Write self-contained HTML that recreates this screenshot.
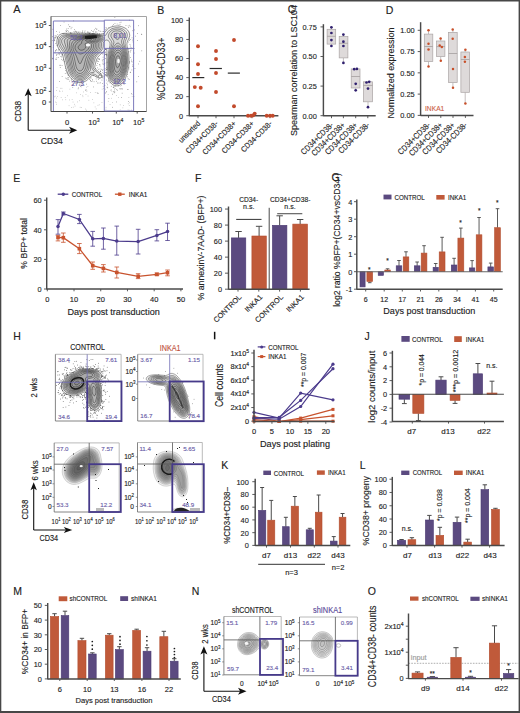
<!DOCTYPE html>
<html><head><meta charset="utf-8"><style>
html,body{margin:0;padding:0;background:#fff;}
svg{display:block;font-family:"Liberation Sans", sans-serif;}
</style></head><body>
<svg width="520" height="713" viewBox="0 0 520 713">
<rect width="520" height="713" fill="#fff"/>
<rect x="0.00" y="0.00" width="520.00" height="1.50" fill="#474747" stroke="none" stroke-width="1" />
<rect x="0.00" y="0.00" width="1.30" height="713.00" fill="#474747" stroke="none" stroke-width="1" />
<rect x="518.60" y="0.00" width="1.40" height="713.00" fill="#474747" stroke="none" stroke-width="1" />
<rect x="0.00" y="711.00" width="520.00" height="2.00" fill="#474747" stroke="none" stroke-width="1" />
<text x="13.20" y="13.20" font-size="11" fill="#222" stroke="#222" stroke-width="0.13" text-anchor="start">A</text>
<g fill="#777" fill-opacity="0.6"><rect x="69.5" y="88.8" width="0.70" height="0.70"/><rect x="86.2" y="86.8" width="0.70" height="0.70"/><rect x="80.3" y="94.1" width="0.70" height="0.70"/><rect x="56.0" y="97.7" width="0.70" height="0.70"/><rect x="54.9" y="95.8" width="0.70" height="0.70"/><rect x="56.6" y="87.3" width="0.70" height="0.70"/><rect x="74.7" y="105.7" width="0.70" height="0.70"/><rect x="59.3" y="90.6" width="0.70" height="0.70"/><rect x="85.0" y="108.7" width="0.70" height="0.70"/><rect x="82.4" y="94.9" width="0.70" height="0.70"/><rect x="102.8" y="86.2" width="0.70" height="0.70"/><rect x="96.8" y="92.2" width="0.70" height="0.70"/><rect x="60.4" y="87.9" width="0.70" height="0.70"/><rect x="68.7" y="105.4" width="0.70" height="0.70"/><rect x="62.2" y="99.5" width="0.70" height="0.70"/><rect x="85.6" y="94.3" width="0.70" height="0.70"/><rect x="80.9" y="86.6" width="0.70" height="0.70"/><rect x="56.0" y="90.1" width="0.70" height="0.70"/><rect x="87.7" y="95.7" width="0.70" height="0.70"/><rect x="69.0" y="99.6" width="0.70" height="0.70"/><rect x="76.1" y="92.5" width="0.70" height="0.70"/><rect x="93.5" y="102.5" width="0.70" height="0.70"/><rect x="65.4" y="99.4" width="0.70" height="0.70"/><rect x="79.8" y="106.9" width="0.70" height="0.70"/><rect x="90.2" y="92.2" width="0.70" height="0.70"/><rect x="103.0" y="88.0" width="0.70" height="0.70"/><rect x="74.3" y="103.9" width="0.70" height="0.70"/><rect x="60.8" y="97.2" width="0.70" height="0.70"/><rect x="55.0" y="101.7" width="0.70" height="0.70"/><rect x="92.0" y="99.3" width="0.70" height="0.70"/><rect x="97.6" y="92.8" width="0.70" height="0.70"/><rect x="88.5" y="99.9" width="0.70" height="0.70"/><rect x="82.6" y="96.4" width="0.70" height="0.70"/><rect x="95.8" y="108.6" width="0.70" height="0.70"/><rect x="77.2" y="101.6" width="0.70" height="0.70"/><rect x="56.1" y="102.5" width="0.70" height="0.70"/><rect x="86.0" y="109.8" width="0.70" height="0.70"/><rect x="94.9" y="92.1" width="0.70" height="0.70"/><rect x="72.7" y="101.7" width="0.70" height="0.70"/><rect x="54.2" y="96.5" width="0.70" height="0.70"/><rect x="61.6" y="87.9" width="0.70" height="0.70"/><rect x="56.0" y="104.2" width="0.70" height="0.70"/><rect x="59.6" y="91.2" width="0.70" height="0.70"/><rect x="72.9" y="106.8" width="0.70" height="0.70"/><rect x="57.1" y="96.2" width="0.70" height="0.70"/><rect x="81.0" y="107.1" width="0.70" height="0.70"/><rect x="94.8" y="106.6" width="0.70" height="0.70"/><rect x="67.2" y="95.4" width="0.70" height="0.70"/><rect x="71.3" y="107.1" width="0.70" height="0.70"/><rect x="101.8" y="88.8" width="0.70" height="0.70"/><rect x="62.0" y="90.8" width="0.70" height="0.70"/><rect x="64.9" y="97.1" width="0.70" height="0.70"/><rect x="83.0" y="91.6" width="0.70" height="0.70"/><rect x="53.2" y="95.5" width="0.70" height="0.70"/><rect x="71.8" y="99.2" width="0.70" height="0.70"/><rect x="101.6" y="102.3" width="0.70" height="0.70"/><rect x="79.3" y="100.4" width="0.70" height="0.70"/><rect x="87.5" y="86.3" width="0.70" height="0.70"/><rect x="98.9" y="104.5" width="0.70" height="0.70"/><rect x="97.6" y="104.9" width="0.70" height="0.70"/></g>
<g fill="#777" fill-opacity="0.6"><rect x="116.0" y="95.0" width="0.70" height="0.70"/><rect x="107.9" y="100.9" width="0.70" height="0.70"/><rect x="106.7" y="86.7" width="0.70" height="0.70"/><rect x="110.8" y="89.1" width="0.70" height="0.70"/><rect x="114.5" y="86.3" width="0.70" height="0.70"/><rect x="105.0" y="88.8" width="0.70" height="0.70"/><rect x="107.8" y="94.1" width="0.70" height="0.70"/><rect x="105.7" y="106.9" width="0.70" height="0.70"/><rect x="122.2" y="88.7" width="0.70" height="0.70"/><rect x="112.1" y="93.7" width="0.70" height="0.70"/><rect x="115.2" y="88.1" width="0.70" height="0.70"/><rect x="128.8" y="109.8" width="0.70" height="0.70"/><rect x="118.0" y="97.1" width="0.70" height="0.70"/><rect x="107.4" y="87.6" width="0.70" height="0.70"/><rect x="114.6" y="91.6" width="0.70" height="0.70"/><rect x="128.2" y="89.0" width="0.70" height="0.70"/><rect x="105.6" y="108.8" width="0.70" height="0.70"/><rect x="119.8" y="88.7" width="0.70" height="0.70"/><rect x="120.2" y="85.7" width="0.70" height="0.70"/><rect x="119.8" y="109.5" width="0.70" height="0.70"/><rect x="129.2" y="102.4" width="0.70" height="0.70"/><rect x="112.3" y="94.2" width="0.70" height="0.70"/><rect x="109.7" y="104.3" width="0.70" height="0.70"/><rect x="119.9" y="104.5" width="0.70" height="0.70"/><rect x="114.2" y="90.6" width="0.70" height="0.70"/><rect x="127.7" y="109.6" width="0.70" height="0.70"/><rect x="128.9" y="105.2" width="0.70" height="0.70"/><rect x="127.9" y="103.5" width="0.70" height="0.70"/><rect x="111.3" y="97.9" width="0.70" height="0.70"/><rect x="115.0" y="85.7" width="0.70" height="0.70"/><rect x="105.8" y="92.0" width="0.70" height="0.70"/><rect x="112.3" y="102.3" width="0.70" height="0.70"/><rect x="131.8" y="96.2" width="0.70" height="0.70"/><rect x="131.2" y="109.7" width="0.70" height="0.70"/><rect x="131.7" y="94.1" width="0.70" height="0.70"/><rect x="111.2" y="90.7" width="0.70" height="0.70"/><rect x="110.5" y="90.1" width="0.70" height="0.70"/><rect x="122.5" y="107.5" width="0.70" height="0.70"/><rect x="128.5" y="97.0" width="0.70" height="0.70"/><rect x="123.3" y="105.0" width="0.70" height="0.70"/></g>
<path d="M114.1,26.2L116.8,25.9L119.2,26.1L121.6,26.6L124.0,27.5L126.0,28.6L127.7,30.2L128.8,31.8L129.5,33.8L129.7,35.4L129.4,37.0L127.2,42.1L126.9,44.2L127.1,46.2L128.6,53.0L129.0,56.6L129.1,61.8L128.7,66.6L127.8,71.0L126.6,75.4L125.1,79.0L123.2,82.0L121.6,83.8L119.6,85.2L118.0,85.8L116.0,85.9L114.4,85.6L112.4,84.5L110.8,82.9L109.3,80.6L107.9,77.0L107.1,72.6L106.7,64.2L106.9,51.4L106.6,49.4L106.4,49.0L106.0,49.0L99.4,55.4L97.7,57.4L96.4,60.1L94.9,65.8L94.8,67.4L95.6,69.0L97.5,71.0L100.4,73.0L101.3,74.2L101.5,75.0L101.5,75.8L101.2,76.6L100.8,77.2L99.6,77.9L98.4,77.9L97.2,77.5L94.4,75.7L93.2,75.4L92.0,75.5L90.9,76.2L88.4,79.0L86.4,80.7L84.0,81.9L81.2,82.6L78.8,82.6L76.8,82.2L74.8,81.4L72.8,80.1L70.2,77.4L69.1,75.8L67.8,73.4L66.6,70.2L65.3,66.2L62.8,55.4L61.6,52.9L58.6,48.6L57.4,45.8L56.8,43.0L56.9,40.2L57.5,37.8L58.6,35.8L60.0,34.5L62.0,33.6L63.6,33.4L70.0,33.1L85.6,33.2L93.6,33.6L100.8,34.2L102.4,34.1L103.4,33.8L104.0,33.4L106.3,30.2L108.4,28.4L110.8,27.1L114.1,26.2Z" fill="#000" fill-opacity="0.04" fill-rule="nonzero" stroke="#111" stroke-opacity="0.85" stroke-width="0.5"/>
<path d="M115.1,27.8L117.2,27.7L119.2,27.8L121.2,28.3L123.2,29.2L124.7,30.2L126.0,31.5L126.9,33.0L127.3,34.6L127.1,37.0L125.3,41.4L125.1,43.4L125.4,45.4L127.1,51.4L127.7,55.0L128.0,59.8L127.8,64.6L127.0,69.4L125.7,74.2L124.2,77.8L122.2,81.0L120.4,82.8L118.8,83.7L117.2,84.2L115.2,84.0L113.2,83.1L111.7,81.8L110.4,80.0L109.4,77.8L108.5,75.0L108.1,71.8L107.8,67.4L107.8,60.6L108.3,53.4L109.0,49.8L110.0,45.5L110.1,43.8L109.8,42.6L109.1,41.4L108.0,40.4L106.8,40.0L106.0,40.1L105.2,40.5L104.2,41.4L103.6,42.2L103.3,43.4L103.3,46.6L102.7,48.6L101.2,51.0L97.1,55.4L95.6,57.4L94.5,60.2L93.2,65.4L93.1,67.0L93.6,68.6L96.8,72.1L99.2,73.6L99.8,74.2L100.1,75.4L99.8,76.2L99.2,76.5L98.4,76.6L97.5,76.2L95.6,74.7L94.8,74.4L92.8,74.0L91.2,74.1L90.0,74.8L87.6,77.6L85.6,79.2L83.2,80.4L80.8,80.9L78.8,80.9L76.8,80.4L75.2,79.7L73.6,78.6L72.3,77.4L71.0,75.8L69.0,72.2L67.0,65.8L65.1,57.0L64.4,54.5L63.1,51.8L59.8,47.0L58.9,45.0L58.4,43.0L58.4,40.6L58.9,38.6L59.8,37.0L61.2,35.8L62.8,35.1L66.8,34.5L70.8,34.1L78.0,34.4L88.0,34.1L93.6,34.2L97.2,34.5L103.6,35.6L104.8,35.6L105.4,35.4L106.0,34.9L107.8,31.8L109.6,30.0L112.0,28.6L115.1,27.8Z" fill="#000" fill-opacity="0.04" fill-rule="nonzero" stroke="#111" stroke-opacity="0.85" stroke-width="0.5"/>
<path d="M114.5,29.4L117.6,29.1L119.2,29.3L120.8,29.8L122.4,30.5L123.5,31.4L124.3,32.2L125.0,33.4L125.3,34.6L125.3,36.2L124.9,37.8L123.7,41.0L123.5,43.0L123.9,44.6L126.3,51.8L126.9,55.4L127.2,58.6L127.1,63.0L126.6,67.4L125.4,72.2L124.1,75.8L122.7,78.6L120.8,80.9L118.8,82.3L116.8,82.9L115.2,82.7L113.6,82.0L112.1,80.6L110.9,79.0L110.0,77.0L109.3,74.6L108.9,72.2L108.7,69.0L108.6,61.0L109.0,55.0L109.8,51.0L111.6,45.2L111.9,43.4L111.7,42.2L111.2,41.0L108.6,37.4L108.4,36.6L108.4,35.4L109.1,33.4L110.4,31.5L112.3,30.2L114.5,29.4ZM70.0,35.0L78.0,35.2L88.4,34.6L95.2,34.8L98.8,35.3L101.6,36.0L103.6,37.0L104.3,37.8L104.2,39.0L102.1,41.8L101.6,42.7L101.5,43.8L101.6,46.6L100.8,49.0L99.5,51.0L94.9,56.2L93.9,57.8L93.2,59.8L91.9,65.0L91.7,67.4L92.3,69.0L94.1,71.4L94.2,72.2L93.6,72.5L91.2,72.6L90.0,73.1L89.2,73.7L87.2,76.2L85.9,77.4L84.4,78.5L82.4,79.3L80.8,79.6L79.2,79.6L76.4,78.9L74.8,78.0L73.6,77.0L72.5,75.8L71.4,74.2L70.2,71.8L68.9,68.2L67.7,63.4L66.4,56.5L65.6,53.8L64.4,51.2L61.2,46.2L60.1,43.8L59.8,41.8L59.9,40.2L60.5,38.6L61.4,37.4L62.6,36.6L64.0,36.1L67.2,35.3L70.0,35.0Z" fill="#000" fill-opacity="0.04" fill-rule="nonzero" stroke="#111" stroke-opacity="0.85" stroke-width="0.5"/>
<path d="M115.1,31.0L117.6,30.8L120.0,31.3L122.0,32.6L123.0,34.2L123.3,35.4L123.2,36.6L121.7,40.6L121.6,42.2L122.0,43.8L124.1,48.2L125.3,51.4L126.1,55.4L126.4,59.0L126.4,63.0L125.8,67.0L124.9,71.0L123.5,75.0L122.0,77.8L120.4,79.8L118.8,81.0L116.8,81.6L115.2,81.4L113.7,80.6L112.4,79.4L111.4,77.8L110.5,75.8L110.0,73.8L109.4,68.2L109.4,59.8L110.0,54.2L111.0,50.2L113.5,44.2L113.9,42.6L113.8,41.8L113.4,40.6L111.2,37.0L110.9,36.2L110.9,35.0L111.3,33.8L112.1,32.6L113.6,31.5L115.1,31.0ZM84.1,35.4L91.6,35.0L94.8,35.1L97.6,35.5L100.0,36.1L101.6,36.8L102.6,37.8L102.8,38.6L102.4,39.8L100.4,42.2L100.0,43.0L99.9,43.8L100.0,46.6L99.3,49.0L97.9,51.0L93.9,55.4L92.4,58.2L91.6,60.8L90.6,65.4L90.4,67.4L90.4,69.8L90.2,70.6L86.4,75.2L84.8,76.7L83.6,77.4L82.0,78.1L80.4,78.3L79.2,78.3L76.8,77.6L74.8,76.4L73.1,74.6L71.5,71.8L70.6,69.4L69.7,66.2L67.2,54.5L65.2,49.6L62.0,43.4L61.6,41.8L61.6,40.6L62.3,39.0L63.2,38.0L65.2,37.0L67.6,36.2L70.8,35.8L77.6,36.0L84.1,35.4Z" fill="#000" fill-opacity="0.04" fill-rule="nonzero" stroke="#111" stroke-opacity="0.85" stroke-width="0.5"/>
<path d="M115.7,33.4L117.2,33.1L118.4,33.3L119.6,34.1L120.2,35.0L120.3,36.2L119.9,37.4L119.2,38.4L118.0,39.3L117.2,39.4L116.0,38.8L115.0,37.8L114.2,36.6L114.0,35.4L114.3,34.6L114.8,33.9L115.7,33.4ZM90.2,35.4L95.2,35.6L98.8,36.3L100.0,36.7L101.0,37.4L101.6,38.2L101.6,39.0L101.0,40.2L98.6,43.0L98.4,43.8L98.4,47.0L97.7,49.0L96.3,51.0L92.7,55.0L91.3,57.4L90.1,61.4L88.7,69.0L88.2,70.2L87.3,71.8L85.2,74.6L83.2,76.1L80.8,76.9L79.2,76.9L78.0,76.6L76.0,75.6L74.4,74.2L73.2,72.5L72.1,70.2L70.7,65.0L68.8,55.4L66.4,48.6L64.5,42.2L64.3,41.0L64.4,40.2L65.1,39.0L66.1,38.2L67.7,37.4L69.6,36.9L71.6,36.7L77.6,36.7L86.0,35.7L90.2,35.4ZM116.8,43.4L118.0,43.0L118.8,43.3L119.6,43.9L121.6,46.0L123.2,48.6L124.2,51.0L125.1,54.2L125.6,57.4L125.7,60.6L125.5,64.2L124.9,67.8L123.8,71.8L122.5,75.0L121.2,77.3L119.6,79.0L118.0,80.0L116.4,80.2L114.8,79.8L113.6,79.0L112.3,77.4L111.4,75.4L110.7,73.0L110.4,70.6L110.1,62.2L110.6,55.8L111.7,51.0L112.7,48.6L114.0,46.4L115.6,44.4L116.8,43.4Z" fill="#000" fill-opacity="0.04" fill-rule="nonzero" stroke="#111" stroke-opacity="0.85" stroke-width="0.5"/>
<path d="M89.5,35.8L94.0,35.8L97.6,36.4L99.7,37.4L100.4,38.2L100.5,39.0L99.9,40.2L97.5,42.6L97.0,43.4L96.9,44.2L96.9,47.0L96.2,49.0L95.1,50.6L91.5,54.6L90.0,57.0L88.9,60.2L87.3,68.2L86.7,69.8L85.9,71.4L84.4,73.4L82.4,74.8L80.4,75.4L78.4,75.2L76.8,74.4L75.2,72.9L74.0,71.0L73.0,68.6L71.9,64.2L70.4,55.8L67.8,47.8L67.2,41.4L67.3,40.2L67.8,39.4L68.4,38.8L70.4,38.0L76.8,37.6L84.4,36.3L89.5,35.8ZM116.6,46.2L118.0,45.9L119.6,46.4L121.2,47.7L122.4,49.5L123.5,51.8L124.3,54.6L124.7,57.4L124.9,60.6L124.7,63.8L124.1,67.4L123.1,71.0L122.0,73.8L120.8,76.0L119.6,77.4L118.0,78.5L116.4,78.8L114.8,78.3L113.7,77.4L112.8,76.1L112.0,74.3L111.5,72.2L111.2,69.8L110.9,62.6L111.3,56.6L112.3,52.2L113.2,50.1L114.4,48.2L115.6,46.9L116.6,46.2Z" fill="#000" fill-opacity="0.04" fill-rule="nonzero" stroke="#111" stroke-opacity="0.85" stroke-width="0.5"/>
<path d="M89.2,36.2L93.6,36.2L97.2,36.9L99.0,37.8L99.4,38.6L99.4,39.4L98.5,40.6L96.2,42.6L95.6,43.4L95.3,44.2L95.3,47.0L94.7,48.6L93.4,50.6L89.8,54.6L88.5,56.6L87.5,59.4L85.7,67.8L84.5,70.6L83.2,72.2L82.0,73.0L80.4,73.5L78.8,73.4L77.3,72.6L76.1,71.4L75.1,69.8L74.3,67.4L71.9,55.8L69.5,48.2L69.3,45.8L69.8,41.4L70.4,40.2L72.0,39.3L76.8,38.5L84.0,36.8L89.2,36.2ZM116.8,48.2L118.0,47.9L119.2,48.2L120.4,49.0L121.7,50.6L122.7,52.6L123.4,55.0L123.8,57.4L124.0,60.2L123.9,63.0L123.4,66.2L122.6,69.4L121.6,72.2L120.6,74.2L119.3,75.8L118.0,76.8L116.8,77.1L115.6,76.9L114.4,76.1L113.6,75.0L112.9,73.4L112.1,69.4L111.8,63.0L112.1,57.4L113.0,53.4L113.6,51.8L114.5,50.2L115.6,49.0L116.8,48.2Z" fill="#000" fill-opacity="0.04" fill-rule="nonzero" stroke="#111" stroke-opacity="0.85" stroke-width="0.5"/>
<path d="M89.1,36.6L92.8,36.6L96.0,37.1L97.2,37.5L98.1,38.2L98.3,38.6L98.3,39.4L97.4,40.6L93.9,43.4L93.6,44.2L93.5,47.0L93.0,48.6L91.6,50.5L87.8,54.6L86.6,56.6L85.6,59.4L83.9,66.6L82.9,69.0L82.0,70.1L81.2,70.6L80.4,70.9L79.2,70.8L78.1,70.2L77.4,69.4L76.7,68.2L76.1,66.6L73.9,56.2L71.1,48.6L71.0,46.6L71.4,44.2L72.4,41.8L73.3,41.0L74.8,40.2L82.8,37.6L86.4,36.9L89.1,36.6ZM117.0,50.2L118.0,50.0L119.2,50.3L120.4,51.3L121.2,52.4L122.0,54.1L122.6,56.2L123.0,60.6L122.9,63.0L122.5,65.8L121.7,68.6L120.8,71.0L120.0,72.6L118.8,74.1L118.0,74.8L116.8,75.1L116.0,75.0L114.9,74.2L114.1,73.0L113.7,71.8L113.0,68.2L112.8,62.2L113.1,57.8L113.9,54.2L115.2,51.7L116.0,50.8L117.0,50.2Z" fill="#000" fill-opacity="0.04" fill-rule="nonzero" stroke="#111" stroke-opacity="0.85" stroke-width="0.5"/>
<path d="M89.5,37.0L92.8,37.0L95.2,37.5L96.7,38.2L97.0,38.6L97.1,39.4L96.2,40.6L92.5,43.0L91.8,43.8L91.6,44.6L91.6,47.0L90.7,49.0L89.5,50.6L84.7,55.4L83.2,57.8L80.8,63.2L80.0,63.8L79.6,63.6L78.8,62.5L76.4,56.2L73.3,49.8L72.8,47.4L73.2,45.0L74.0,43.4L75.0,42.2L76.6,41.0L78.8,39.8L81.6,38.6L84.0,37.9L86.8,37.3L89.5,37.0ZM117.1,52.6L118.0,52.4L118.8,52.6L119.6,53.1L120.5,54.2L121.2,55.8L121.6,57.4L121.9,61.0L121.3,65.4L120.0,69.2L119.2,70.7L118.4,71.7L117.6,72.2L116.8,72.3L116.0,72.0L115.6,71.6L114.6,69.4L114.1,65.8L113.9,61.4L114.2,58.2L114.8,55.8L115.8,53.8L117.1,52.6Z" fill="#000" fill-opacity="0.04" fill-rule="nonzero" stroke="#111" stroke-opacity="0.85" stroke-width="0.5"/>
<path d="M86.8,37.8L90.4,37.4L93.6,37.7L94.8,38.1L95.5,38.6L95.7,39.0L95.6,39.8L94.2,41.0L90.4,43.0L89.4,43.8L89.1,44.6L89.3,46.6L89.0,47.8L88.0,49.4L86.4,51.0L84.0,52.7L82.0,53.7L80.4,54.0L79.2,53.7L77.2,52.1L75.6,49.8L75.1,48.6L75.0,47.4L75.4,45.4L76.9,43.4L78.9,41.4L80.3,40.2L83.2,38.8L86.8,37.8ZM117.7,55.8L118.4,55.8L118.8,56.1L119.6,57.1L120.1,59.0L120.3,61.0L120.0,63.4L119.4,65.4L118.4,67.2L117.6,67.7L116.8,67.4L116.0,65.8L115.6,63.4L115.5,61.4L115.7,59.4L116.1,57.8L116.8,56.4L117.7,55.8Z" fill="#000" fill-opacity="0.04" fill-rule="nonzero" stroke="#111" stroke-opacity="0.85" stroke-width="0.5"/>
<path d="M88.1,38.2L90.8,38.1L92.8,38.3L94.0,39.0L94.1,39.4L93.9,39.8L93.1,40.6L92.0,41.2L86.7,43.0L85.2,43.8L85.1,44.2L85.8,46.2L85.9,47.0L85.4,48.2L84.1,49.4L82.8,50.0L81.6,50.2L80.4,50.1L79.2,49.5L78.3,48.2L78.1,47.4L78.3,46.6L79.0,45.4L81.5,43.4L81.8,41.4L82.3,40.6L83.2,39.8L84.8,39.0L88.1,38.2Z" fill="#000" fill-opacity="0.04" fill-rule="nonzero" stroke="#111" stroke-opacity="0.85" stroke-width="0.5"/>
<path d="M88.8,39.0L90.4,39.0L91.4,39.4L91.5,39.8L90.4,40.6L88.8,41.0L87.2,41.2L86.0,41.0L85.6,40.6L85.6,40.2L86.1,39.8L86.9,39.4L88.8,39.0Z" fill="#000" fill-opacity="0.04" fill-rule="nonzero" stroke="#111" stroke-opacity="0.85" stroke-width="0.5"/>
<g fill="#333" fill-opacity="0.65"><rect x="70.9" y="79.8" width="0.7" height="0.7"/><rect x="65.3" y="68.3" width="0.7" height="0.7"/><rect x="55.4" y="43.1" width="0.7" height="0.7"/><rect x="81.5" y="32.6" width="0.7" height="0.7"/><rect x="77.7" y="31.5" width="0.7" height="0.7"/><rect x="106.3" y="69.3" width="0.7" height="0.7"/><rect x="71.0" y="78.6" width="0.7" height="0.7"/><rect x="127.7" y="48.0" width="0.7" height="0.7"/><rect x="129.0" y="62.8" width="0.7" height="0.7"/><rect x="99.6" y="68.7" width="0.7" height="0.7"/><rect x="100.4" y="73.1" width="0.7" height="0.7"/><rect x="72.3" y="85.0" width="0.7" height="0.7"/><rect x="106.0" y="79.7" width="0.7" height="0.7"/><rect x="113.9" y="91.7" width="0.7" height="0.7"/><rect x="74.8" y="82.5" width="0.7" height="0.7"/><rect x="129.3" y="40.1" width="0.7" height="0.7"/><rect x="138.2" y="63.6" width="0.7" height="0.7"/><rect x="77.8" y="88.5" width="0.7" height="0.7"/><rect x="85.2" y="89.9" width="0.7" height="0.7"/><rect x="79.5" y="82.6" width="0.7" height="0.7"/><rect x="128.5" y="51.0" width="0.7" height="0.7"/><rect x="67.5" y="77.4" width="0.7" height="0.7"/><rect x="131.2" y="93.3" width="0.7" height="0.7"/><rect x="138.2" y="25.4" width="0.7" height="0.7"/><rect x="56.0" y="49.2" width="0.7" height="0.7"/><rect x="56.7" y="45.4" width="0.7" height="0.7"/><rect x="108.5" y="27.1" width="0.7" height="0.7"/><rect x="127.7" y="48.9" width="0.7" height="0.7"/><rect x="104.7" y="54.0" width="0.7" height="0.7"/><rect x="73.6" y="31.0" width="0.7" height="0.7"/><rect x="70.7" y="28.4" width="0.7" height="0.7"/><rect x="52.4" y="58.6" width="0.7" height="0.7"/><rect x="104.7" y="69.9" width="0.7" height="0.7"/><rect x="87.0" y="31.6" width="0.7" height="0.7"/><rect x="136.4" y="81.5" width="0.7" height="0.7"/><rect x="101.6" y="79.7" width="0.7" height="0.7"/><rect x="97.3" y="82.7" width="0.7" height="0.7"/><rect x="131.5" y="69.6" width="0.7" height="0.7"/><rect x="99.5" y="64.2" width="0.7" height="0.7"/><rect x="105.2" y="74.3" width="0.7" height="0.7"/><rect x="101.3" y="68.9" width="0.7" height="0.7"/><rect x="106.2" y="91.0" width="0.7" height="0.7"/><rect x="105.7" y="27.2" width="0.7" height="0.7"/><rect x="55.2" y="58.8" width="0.7" height="0.7"/><rect x="66.3" y="33.4" width="0.7" height="0.7"/><rect x="98.8" y="59.3" width="0.7" height="0.7"/><rect x="89.8" y="31.9" width="0.7" height="0.7"/><rect x="93.8" y="33.4" width="0.7" height="0.7"/><rect x="105.0" y="74.7" width="0.7" height="0.7"/><rect x="134.6" y="68.0" width="0.7" height="0.7"/><rect x="138.0" y="76.2" width="0.7" height="0.7"/><rect x="81.3" y="85.1" width="0.7" height="0.7"/><rect x="67.0" y="30.0" width="0.7" height="0.7"/><rect x="54.8" y="37.6" width="0.7" height="0.7"/><rect x="108.3" y="80.4" width="0.7" height="0.7"/><rect x="118.4" y="85.6" width="0.7" height="0.7"/><rect x="54.5" y="36.8" width="0.7" height="0.7"/><rect x="62.9" y="33.5" width="0.7" height="0.7"/><rect x="56.6" y="36.5" width="0.7" height="0.7"/><rect x="68.0" y="77.5" width="0.7" height="0.7"/><rect x="54.2" y="40.2" width="0.7" height="0.7"/><rect x="56.3" y="55.2" width="0.7" height="0.7"/><rect x="92.5" y="31.3" width="0.7" height="0.7"/><rect x="56.0" y="53.9" width="0.7" height="0.7"/><rect x="97.2" y="33.4" width="0.7" height="0.7"/><rect x="123.7" y="83.9" width="0.7" height="0.7"/><rect x="106.5" y="67.0" width="0.7" height="0.7"/><rect x="141.2" y="33.8" width="0.7" height="0.7"/><rect x="123.7" y="82.0" width="0.7" height="0.7"/><rect x="129.9" y="72.3" width="0.7" height="0.7"/><rect x="82.4" y="30.5" width="0.7" height="0.7"/><rect x="100.1" y="82.5" width="0.7" height="0.7"/><rect x="65.5" y="30.5" width="0.7" height="0.7"/><rect x="101.9" y="59.7" width="0.7" height="0.7"/><rect x="120.7" y="21.8" width="0.7" height="0.7"/><rect x="52.3" y="57.9" width="0.7" height="0.7"/><rect x="100.3" y="70.8" width="0.7" height="0.7"/><rect x="74.9" y="82.8" width="0.7" height="0.7"/><rect x="102.5" y="62.8" width="0.7" height="0.7"/><rect x="95.5" y="31.5" width="0.7" height="0.7"/><rect x="132.4" y="66.1" width="0.7" height="0.7"/><rect x="132.4" y="64.6" width="0.7" height="0.7"/><rect x="100.1" y="70.8" width="0.7" height="0.7"/><rect x="103.6" y="33.2" width="0.7" height="0.7"/><rect x="94.9" y="68.1" width="0.7" height="0.7"/><rect x="128.3" y="101.1" width="0.7" height="0.7"/><rect x="119.6" y="88.4" width="0.7" height="0.7"/><rect x="129.0" y="19.8" width="0.7" height="0.7"/><rect x="86.0" y="83.8" width="0.7" height="0.7"/><rect x="116.0" y="101.6" width="0.7" height="0.7"/><rect x="128.3" y="27.2" width="0.7" height="0.7"/><rect x="59.0" y="53.0" width="0.7" height="0.7"/><rect x="85.1" y="33.0" width="0.7" height="0.7"/><rect x="68.4" y="79.0" width="0.7" height="0.7"/><rect x="141.4" y="34.0" width="0.7" height="0.7"/><rect x="72.4" y="87.3" width="0.7" height="0.7"/><rect x="59.1" y="54.4" width="0.7" height="0.7"/><rect x="77.3" y="33.0" width="0.7" height="0.7"/><rect x="95.8" y="78.6" width="0.7" height="0.7"/><rect x="95.8" y="76.3" width="0.7" height="0.7"/><rect x="121.3" y="97.1" width="0.7" height="0.7"/><rect x="104.8" y="68.4" width="0.7" height="0.7"/><rect x="102.8" y="64.0" width="0.7" height="0.7"/><rect x="54.8" y="35.0" width="0.7" height="0.7"/><rect x="96.5" y="31.7" width="0.7" height="0.7"/><rect x="102.9" y="59.1" width="0.7" height="0.7"/><rect x="92.2" y="79.3" width="0.7" height="0.7"/><rect x="79.6" y="31.6" width="0.7" height="0.7"/><rect x="132.7" y="41.6" width="0.7" height="0.7"/><rect x="55.3" y="50.2" width="0.7" height="0.7"/><rect x="102.6" y="75.7" width="0.7" height="0.7"/><rect x="84.3" y="31.7" width="0.7" height="0.7"/><rect x="127.0" y="74.1" width="0.7" height="0.7"/><rect x="88.8" y="32.9" width="0.7" height="0.7"/><rect x="93.2" y="30.8" width="0.7" height="0.7"/><rect x="57.1" y="37.8" width="0.7" height="0.7"/><rect x="55.8" y="49.9" width="0.7" height="0.7"/><rect x="97.6" y="93.0" width="0.7" height="0.7"/><rect x="54.5" y="38.1" width="0.7" height="0.7"/><rect x="56.1" y="59.0" width="0.7" height="0.7"/><rect x="106.4" y="75.8" width="0.7" height="0.7"/><rect x="130.0" y="57.2" width="0.7" height="0.7"/><rect x="104.1" y="64.6" width="0.7" height="0.7"/><rect x="130.2" y="39.0" width="0.7" height="0.7"/><rect x="63.3" y="59.3" width="0.7" height="0.7"/><rect x="129.8" y="51.8" width="0.7" height="0.7"/><rect x="66.2" y="28.7" width="0.7" height="0.7"/><rect x="94.9" y="31.8" width="0.7" height="0.7"/><rect x="99.6" y="30.7" width="0.7" height="0.7"/><rect x="61.5" y="54.6" width="0.7" height="0.7"/><rect x="91.0" y="81.3" width="0.7" height="0.7"/><rect x="120.8" y="88.5" width="0.7" height="0.7"/><rect x="76.7" y="82.9" width="0.7" height="0.7"/><rect x="104.5" y="62.7" width="0.7" height="0.7"/><rect x="70.8" y="32.8" width="0.7" height="0.7"/><rect x="55.4" y="36.6" width="0.7" height="0.7"/><rect x="112.9" y="87.2" width="0.7" height="0.7"/><rect x="102.6" y="69.0" width="0.7" height="0.7"/><rect x="104.5" y="72.2" width="0.7" height="0.7"/><rect x="132.5" y="61.6" width="0.7" height="0.7"/><rect x="82.1" y="31.5" width="0.7" height="0.7"/><rect x="54.7" y="52.6" width="0.7" height="0.7"/><rect x="80.9" y="82.4" width="0.7" height="0.7"/><rect x="106.3" y="73.7" width="0.7" height="0.7"/><rect x="75.2" y="31.3" width="0.7" height="0.7"/><rect x="58.8" y="49.1" width="0.7" height="0.7"/><rect x="129.1" y="61.9" width="0.7" height="0.7"/><rect x="98.6" y="82.7" width="0.7" height="0.7"/><rect x="99.8" y="65.7" width="0.7" height="0.7"/><rect x="104.0" y="55.2" width="0.7" height="0.7"/><rect x="87.5" y="31.9" width="0.7" height="0.7"/><rect x="97.1" y="67.5" width="0.7" height="0.7"/><rect x="92.1" y="33.4" width="0.7" height="0.7"/><rect x="102.7" y="56.8" width="0.7" height="0.7"/><rect x="121.7" y="88.5" width="0.7" height="0.7"/><rect x="114.5" y="17.3" width="0.7" height="0.7"/><rect x="113.1" y="86.7" width="0.7" height="0.7"/><rect x="102.0" y="75.5" width="0.7" height="0.7"/><rect x="106.7" y="61.9" width="0.7" height="0.7"/><rect x="128.7" y="66.8" width="0.7" height="0.7"/><rect x="91.0" y="30.3" width="0.7" height="0.7"/><rect x="133.2" y="60.3" width="0.7" height="0.7"/><rect x="98.3" y="61.2" width="0.7" height="0.7"/><rect x="56.3" y="31.2" width="0.7" height="0.7"/><rect x="80.2" y="86.2" width="0.7" height="0.7"/><rect x="106.9" y="68.8" width="0.7" height="0.7"/><rect x="96.5" y="65.2" width="0.7" height="0.7"/><rect x="76.1" y="32.3" width="0.7" height="0.7"/><rect x="54.7" y="37.2" width="0.7" height="0.7"/><rect x="98.1" y="68.9" width="0.7" height="0.7"/><rect x="71.6" y="26.9" width="0.7" height="0.7"/><rect x="62.1" y="53.6" width="0.7" height="0.7"/><rect x="114.6" y="23.0" width="0.7" height="0.7"/><rect x="58.5" y="48.8" width="0.7" height="0.7"/><rect x="82.1" y="32.5" width="0.7" height="0.7"/><rect x="92.2" y="33.6" width="0.7" height="0.7"/><rect x="116.9" y="89.9" width="0.7" height="0.7"/><rect x="69.2" y="80.8" width="0.7" height="0.7"/><rect x="93.1" y="86.6" width="0.7" height="0.7"/><rect x="128.8" y="79.0" width="0.7" height="0.7"/><rect x="66.3" y="31.3" width="0.7" height="0.7"/><rect x="137.3" y="33.1" width="0.7" height="0.7"/><rect x="62.7" y="33.1" width="0.7" height="0.7"/><rect x="113.0" y="24.1" width="0.7" height="0.7"/><rect x="52.1" y="36.4" width="0.7" height="0.7"/><rect x="78.9" y="84.0" width="0.7" height="0.7"/><rect x="106.4" y="72.4" width="0.7" height="0.7"/><rect x="104.9" y="52.4" width="0.7" height="0.7"/><rect x="66.3" y="30.7" width="0.7" height="0.7"/><rect x="106.0" y="74.5" width="0.7" height="0.7"/><rect x="65.4" y="77.7" width="0.7" height="0.7"/><rect x="106.9" y="87.0" width="0.7" height="0.7"/><rect x="57.9" y="53.1" width="0.7" height="0.7"/><rect x="95.2" y="27.9" width="0.7" height="0.7"/><rect x="129.8" y="26.4" width="0.7" height="0.7"/><rect x="52.5" y="40.2" width="0.7" height="0.7"/><rect x="103.9" y="63.1" width="0.7" height="0.7"/><rect x="59.3" y="31.8" width="0.7" height="0.7"/><rect x="86.5" y="90.7" width="0.7" height="0.7"/><rect x="66.2" y="70.8" width="0.7" height="0.7"/><rect x="92.0" y="80.6" width="0.7" height="0.7"/><rect x="57.8" y="50.5" width="0.7" height="0.7"/><rect x="127.3" y="76.5" width="0.7" height="0.7"/><rect x="74.8" y="30.7" width="0.7" height="0.7"/><rect x="105.8" y="54.3" width="0.7" height="0.7"/><rect x="132.2" y="39.7" width="0.7" height="0.7"/><rect x="62.5" y="59.9" width="0.7" height="0.7"/><rect x="99.2" y="33.4" width="0.7" height="0.7"/><rect x="78.1" y="87.5" width="0.7" height="0.7"/><rect x="59.0" y="81.0" width="0.7" height="0.7"/><rect x="128.7" y="48.5" width="0.7" height="0.7"/><rect x="105.1" y="58.0" width="0.7" height="0.7"/><rect x="133.0" y="38.5" width="0.7" height="0.7"/><rect x="102.3" y="77.5" width="0.7" height="0.7"/><rect x="83.7" y="84.9" width="0.7" height="0.7"/><rect x="56.4" y="57.6" width="0.7" height="0.7"/><rect x="61.2" y="56.6" width="0.7" height="0.7"/><rect x="57.6" y="53.9" width="0.7" height="0.7"/><rect x="116.4" y="89.3" width="0.7" height="0.7"/><rect x="110.9" y="85.9" width="0.7" height="0.7"/><rect x="104.5" y="74.2" width="0.7" height="0.7"/><rect x="53.2" y="45.4" width="0.7" height="0.7"/><rect x="113.6" y="86.8" width="0.7" height="0.7"/><rect x="61.7" y="65.0" width="0.7" height="0.7"/><rect x="141.4" y="50.5" width="0.7" height="0.7"/><rect x="64.9" y="73.2" width="0.7" height="0.7"/><rect x="67.4" y="74.5" width="0.7" height="0.7"/><rect x="54.9" y="50.9" width="0.7" height="0.7"/><rect x="70.4" y="33.1" width="0.7" height="0.7"/><rect x="62.1" y="54.7" width="0.7" height="0.7"/><rect x="98.7" y="58.5" width="0.7" height="0.7"/><rect x="106.5" y="75.3" width="0.7" height="0.7"/><rect x="68.2" y="30.9" width="0.7" height="0.7"/><rect x="52.9" y="46.9" width="0.7" height="0.7"/><rect x="89.1" y="79.0" width="0.7" height="0.7"/><rect x="60.5" y="56.0" width="0.7" height="0.7"/><rect x="66.5" y="78.3" width="0.7" height="0.7"/><rect x="102.1" y="70.2" width="0.7" height="0.7"/><rect x="60.1" y="25.0" width="0.7" height="0.7"/><rect x="104.7" y="75.4" width="0.7" height="0.7"/><rect x="125.6" y="25.0" width="0.7" height="0.7"/><rect x="90.2" y="79.9" width="0.7" height="0.7"/><rect x="106.1" y="75.4" width="0.7" height="0.7"/><rect x="102.5" y="60.7" width="0.7" height="0.7"/><rect x="137.3" y="40.0" width="0.7" height="0.7"/><rect x="93.7" y="81.4" width="0.7" height="0.7"/><rect x="96.6" y="28.7" width="0.7" height="0.7"/><rect x="127.1" y="89.2" width="0.7" height="0.7"/><rect x="106.0" y="55.5" width="0.7" height="0.7"/><rect x="84.7" y="30.6" width="0.7" height="0.7"/><rect x="118.5" y="24.7" width="0.7" height="0.7"/><rect x="106.5" y="82.8" width="0.7" height="0.7"/><rect x="130.7" y="49.7" width="0.7" height="0.7"/><rect x="105.2" y="92.7" width="0.7" height="0.7"/><rect x="64.4" y="61.2" width="0.7" height="0.7"/><rect x="102.2" y="83.2" width="0.7" height="0.7"/><rect x="54.2" y="39.3" width="0.7" height="0.7"/><rect x="58.8" y="52.0" width="0.7" height="0.7"/><rect x="99.4" y="34.1" width="0.7" height="0.7"/><rect x="90.6" y="77.9" width="0.7" height="0.7"/><rect x="106.6" y="54.6" width="0.7" height="0.7"/><rect x="105.1" y="72.2" width="0.7" height="0.7"/><rect x="128.7" y="68.6" width="0.7" height="0.7"/><rect x="128.3" y="41.7" width="0.7" height="0.7"/><rect x="57.3" y="44.7" width="0.7" height="0.7"/><rect x="65.2" y="66.6" width="0.7" height="0.7"/><rect x="96.2" y="28.8" width="0.7" height="0.7"/><rect x="74.3" y="80.9" width="0.7" height="0.7"/><rect x="107.7" y="81.4" width="0.7" height="0.7"/><rect x="112.0" y="106.9" width="0.7" height="0.7"/><rect x="59.7" y="64.8" width="0.7" height="0.7"/><rect x="131.3" y="61.4" width="0.7" height="0.7"/><rect x="69.2" y="26.2" width="0.7" height="0.7"/><rect x="73.1" y="20.5" width="0.7" height="0.7"/><rect x="107.1" y="84.5" width="0.7" height="0.7"/><rect x="66.2" y="72.5" width="0.7" height="0.7"/><rect x="67.8" y="28.0" width="0.7" height="0.7"/><rect x="127.8" y="25.6" width="0.7" height="0.7"/><rect x="119.6" y="22.4" width="0.7" height="0.7"/><rect x="54.4" y="40.4" width="0.7" height="0.7"/><rect x="93.1" y="75.4" width="0.7" height="0.7"/><rect x="103.6" y="77.6" width="0.7" height="0.7"/><rect x="129.0" y="61.0" width="0.7" height="0.7"/><rect x="131.3" y="59.7" width="0.7" height="0.7"/><rect x="133.5" y="96.0" width="0.7" height="0.7"/><rect x="98.3" y="30.4" width="0.7" height="0.7"/><rect x="76.2" y="31.2" width="0.7" height="0.7"/><rect x="103.0" y="31.0" width="0.7" height="0.7"/><rect x="127.8" y="78.4" width="0.7" height="0.7"/><rect x="88.2" y="31.8" width="0.7" height="0.7"/><rect x="101.8" y="76.3" width="0.7" height="0.7"/><rect x="114.2" y="88.7" width="0.7" height="0.7"/><rect x="70.2" y="32.2" width="0.7" height="0.7"/><rect x="98.8" y="59.3" width="0.7" height="0.7"/><rect x="119.7" y="24.0" width="0.7" height="0.7"/><rect x="74.0" y="29.0" width="0.7" height="0.7"/><rect x="100.4" y="70.9" width="0.7" height="0.7"/><rect x="93.1" y="32.7" width="0.7" height="0.7"/><rect x="90.5" y="77.0" width="0.7" height="0.7"/><rect x="105.9" y="27.9" width="0.7" height="0.7"/><rect x="57.4" y="34.3" width="0.7" height="0.7"/><rect x="108.5" y="98.2" width="0.7" height="0.7"/><rect x="105.4" y="29.0" width="0.7" height="0.7"/><rect x="130.7" y="47.2" width="0.7" height="0.7"/><rect x="121.1" y="84.9" width="0.7" height="0.7"/><rect x="94.1" y="29.5" width="0.7" height="0.7"/><rect x="78.9" y="33.4" width="0.7" height="0.7"/><rect x="63.7" y="21.7" width="0.7" height="0.7"/><rect x="135.3" y="35.8" width="0.7" height="0.7"/><rect x="90.0" y="80.6" width="0.7" height="0.7"/><rect x="105.7" y="54.1" width="0.7" height="0.7"/><rect x="52.5" y="28.9" width="0.7" height="0.7"/><rect x="69.7" y="26.5" width="0.7" height="0.7"/><rect x="112.0" y="25.5" width="0.7" height="0.7"/><rect x="113.8" y="92.5" width="0.7" height="0.7"/><rect x="60.5" y="52.8" width="0.7" height="0.7"/><rect x="85.7" y="89.4" width="0.7" height="0.7"/><rect x="56.9" y="37.2" width="0.7" height="0.7"/><rect x="59.9" y="67.3" width="0.7" height="0.7"/><rect x="112.9" y="91.2" width="0.7" height="0.7"/><rect x="89.2" y="32.7" width="0.7" height="0.7"/><rect x="96.8" y="59.9" width="0.7" height="0.7"/><rect x="81.8" y="83.7" width="0.7" height="0.7"/><rect x="61.3" y="58.9" width="0.7" height="0.7"/><rect x="89.3" y="33.0" width="0.7" height="0.7"/><rect x="66.8" y="79.2" width="0.7" height="0.7"/><rect x="105.6" y="53.7" width="0.7" height="0.7"/><rect x="109.5" y="82.5" width="0.7" height="0.7"/><rect x="67.4" y="72.9" width="0.7" height="0.7"/><rect x="71.9" y="81.6" width="0.7" height="0.7"/><rect x="102.1" y="72.4" width="0.7" height="0.7"/><rect x="133.8" y="52.7" width="0.7" height="0.7"/><rect x="97.2" y="63.0" width="0.7" height="0.7"/><rect x="65.3" y="70.3" width="0.7" height="0.7"/><rect x="130.3" y="71.8" width="0.7" height="0.7"/><rect x="52.8" y="57.9" width="0.7" height="0.7"/><rect x="130.2" y="50.6" width="0.7" height="0.7"/><rect x="134.3" y="29.6" width="0.7" height="0.7"/><rect x="99.1" y="64.5" width="0.7" height="0.7"/><rect x="104.9" y="51.6" width="0.7" height="0.7"/><rect x="59.7" y="65.3" width="0.7" height="0.7"/><rect x="68.3" y="24.5" width="0.7" height="0.7"/><rect x="98.3" y="79.2" width="0.7" height="0.7"/><rect x="77.9" y="31.9" width="0.7" height="0.7"/><rect x="116.8" y="23.7" width="0.7" height="0.7"/><rect x="57.9" y="57.2" width="0.7" height="0.7"/><rect x="103.5" y="73.2" width="0.7" height="0.7"/><rect x="139.4" y="60.9" width="0.7" height="0.7"/><rect x="133.8" y="48.3" width="0.7" height="0.7"/><rect x="129.4" y="24.9" width="0.7" height="0.7"/><rect x="93.1" y="33.6" width="0.7" height="0.7"/><rect x="129.6" y="44.2" width="0.7" height="0.7"/><rect x="106.0" y="69.4" width="0.7" height="0.7"/><rect x="96.2" y="80.9" width="0.7" height="0.7"/><rect x="104.6" y="54.2" width="0.7" height="0.7"/><rect x="106.2" y="72.6" width="0.7" height="0.7"/><rect x="121.8" y="92.8" width="0.7" height="0.7"/><rect x="74.4" y="32.6" width="0.7" height="0.7"/><rect x="130.2" y="45.7" width="0.7" height="0.7"/><rect x="132.4" y="30.4" width="0.7" height="0.7"/><rect x="102.1" y="53.6" width="0.7" height="0.7"/><rect x="131.7" y="37.5" width="0.7" height="0.7"/><rect x="73.2" y="84.1" width="0.7" height="0.7"/><rect x="129.1" y="38.6" width="0.7" height="0.7"/><rect x="101.4" y="77.0" width="0.7" height="0.7"/><rect x="64.6" y="32.9" width="0.7" height="0.7"/><rect x="102.6" y="31.2" width="0.7" height="0.7"/><rect x="101.7" y="77.0" width="0.7" height="0.7"/><rect x="103.0" y="34.1" width="0.7" height="0.7"/><rect x="105.0" y="49.3" width="0.7" height="0.7"/><rect x="104.5" y="85.1" width="0.7" height="0.7"/><rect x="101.7" y="33.0" width="0.7" height="0.7"/><rect x="100.5" y="31.1" width="0.7" height="0.7"/><rect x="96.9" y="61.1" width="0.7" height="0.7"/><rect x="61.8" y="76.2" width="0.7" height="0.7"/><rect x="98.5" y="58.0" width="0.7" height="0.7"/><rect x="56.2" y="35.6" width="0.7" height="0.7"/><rect x="103.8" y="76.0" width="0.7" height="0.7"/><rect x="76.6" y="82.6" width="0.7" height="0.7"/><rect x="68.0" y="75.1" width="0.7" height="0.7"/></g>
<ellipse cx="100" cy="76.5" rx="1.6" ry="1.6" fill="#fff" stroke="#333" stroke-width="0.5"/>
<path d="M85,36 L96.5,35.3 L97,38 L90,39 L85,38.8 Z" fill="#1a1a1a"/>
<ellipse cx="88" cy="45" rx="2.3" ry="1.6" fill="#fff" fill-opacity="0.95"/>
<ellipse cx="118.5" cy="61" rx="1.3" ry="2.3" fill="#fff" fill-opacity="0.9"/>
<line x1="50.80" y1="16.50" x2="146.50" y2="16.50" stroke="#9a9a9a" stroke-width="0.9" />
<line x1="146.50" y1="16.50" x2="146.50" y2="111.50" stroke="#9a9a9a" stroke-width="0.9" />
<line x1="51.00" y1="16.50" x2="51.00" y2="111.70" stroke="#444" stroke-width="1" />
<line x1="51.00" y1="111.50" x2="146.50" y2="111.50" stroke="#444" stroke-width="1" />
<line x1="48.80" y1="25.50" x2="51.00" y2="25.50" stroke="#444" stroke-width="0.9" />
<line x1="48.80" y1="46.60" x2="51.00" y2="46.60" stroke="#444" stroke-width="0.9" />
<line x1="48.80" y1="68.30" x2="51.00" y2="68.30" stroke="#444" stroke-width="0.9" />
<line x1="48.80" y1="91.40" x2="51.00" y2="91.40" stroke="#444" stroke-width="0.9" />
<line x1="48.80" y1="102.00" x2="51.00" y2="102.00" stroke="#444" stroke-width="0.9" />
<line x1="67.00" y1="111.50" x2="67.00" y2="113.60" stroke="#444" stroke-width="0.9" />
<line x1="92.50" y1="111.50" x2="92.50" y2="113.60" stroke="#444" stroke-width="0.9" />
<line x1="116.30" y1="111.50" x2="116.30" y2="113.60" stroke="#444" stroke-width="0.9" />
<line x1="137.20" y1="111.50" x2="137.20" y2="113.60" stroke="#444" stroke-width="0.9" />
<line x1="53.40" y1="21.00" x2="104.30" y2="21.00" stroke="#6e6cb4" stroke-width="0.9" />
<line x1="53.40" y1="21.00" x2="53.40" y2="111.00" stroke="#6e6cb4" stroke-width="0.9" />
<line x1="53.40" y1="52.80" x2="104.30" y2="52.80" stroke="#6e6cb4" stroke-width="0.9" />
<line x1="104.30" y1="20.20" x2="133.60" y2="20.20" stroke="#6e6cb4" stroke-width="0.9" />
<line x1="104.30" y1="20.20" x2="104.30" y2="111.00" stroke="#6e6cb4" stroke-width="0.9" />
<line x1="133.60" y1="20.20" x2="133.60" y2="111.00" stroke="#6e6cb4" stroke-width="0.9" />
<line x1="104.30" y1="48.40" x2="133.60" y2="48.40" stroke="#6e6cb4" stroke-width="0.9" />
<line x1="104.30" y1="111.00" x2="133.60" y2="111.00" stroke="#6e6cb4" stroke-width="0.9" />
<text x="70.20" y="40.31" font-size="6.6" fill="#6a5ea8" stroke="#6a5ea8" stroke-width="0.13" text-anchor="start">52.2</text>
<text x="113.50" y="37.51" font-size="6.6" fill="#6a5ea8" stroke="#6a5ea8" stroke-width="0.13" text-anchor="start">8.01</text>
<text x="71.20" y="85.61" font-size="6.6" fill="#6a5ea8" stroke="#6a5ea8" stroke-width="0.13" text-anchor="start">27.3</text>
<text x="113.00" y="83.61" font-size="6.6" fill="#6a5ea8" stroke="#6a5ea8" stroke-width="0.13" text-anchor="start">12.2</text>
<text x="46.30" y="28.16" font-size="7.6" fill="#222" stroke="#222" stroke-width="0.13" text-anchor="end"><tspan>10</tspan><tspan font-size="5.17" dy="-2.89">5</tspan></text>
<text x="46.30" y="49.26" font-size="7.6" fill="#222" stroke="#222" stroke-width="0.13" text-anchor="end"><tspan>10</tspan><tspan font-size="5.17" dy="-2.89">4</tspan></text>
<text x="46.30" y="70.96" font-size="7.6" fill="#222" stroke="#222" stroke-width="0.13" text-anchor="end"><tspan>10</tspan><tspan font-size="5.17" dy="-2.89">3</tspan></text>
<text x="46.30" y="94.06" font-size="7.6" fill="#222" stroke="#222" stroke-width="0.13" text-anchor="end"><tspan>10</tspan><tspan font-size="5.17" dy="-2.89">2</tspan></text>
<text x="46.30" y="104.66" font-size="7.6" fill="#222" stroke="#222" stroke-width="0.13" text-anchor="end">0</text>
<text x="67.00" y="124.66" font-size="7.6" fill="#222" stroke="#222" stroke-width="0.13" text-anchor="middle">0</text>
<text x="94.00" y="124.66" font-size="7.6" fill="#222" stroke="#222" stroke-width="0.13" text-anchor="middle"><tspan>10</tspan><tspan font-size="5.17" dy="-2.89">3</tspan></text>
<text x="117.80" y="124.66" font-size="7.6" fill="#222" stroke="#222" stroke-width="0.13" text-anchor="middle"><tspan>10</tspan><tspan font-size="5.17" dy="-2.89">4</tspan></text>
<text x="138.70" y="124.66" font-size="7.6" fill="#222" stroke="#222" stroke-width="0.13" text-anchor="middle"><tspan>10</tspan><tspan font-size="5.17" dy="-2.89">5</tspan></text>
<line x1="28.20" y1="91.00" x2="28.20" y2="130.30" stroke="#111" stroke-width="1.1" />
<line x1="28.20" y1="130.30" x2="74.00" y2="130.30" stroke="#111" stroke-width="1.1" />
<path d="M28.2,88.3 L24.7,96.3 L28.2,94.3 L31.7,96.3 Z" fill="#111"/>
<path d="M77.3,130.3 L69.1,126.80000000000001 L71.14999999999999,130.3 L69.1,133.8 Z" fill="#111"/>
<text transform="translate(21.40,111.30) rotate(-90)" font-size="9.8" fill="#222" stroke="#222" stroke-width="0.13" text-anchor="middle" textLength="21" lengthAdjust="spacingAndGlyphs">CD38</text>
<text x="40.80" y="143.80" font-size="9.6" fill="#222" stroke="#222" stroke-width="0.13" text-anchor="start" textLength="22" lengthAdjust="spacingAndGlyphs">CD34</text>
<text x="157.20" y="13.60" font-size="10.5" fill="#222" stroke="#222" stroke-width="0.13" text-anchor="start">B</text>
<line x1="189.30" y1="17.50" x2="189.30" y2="116.20" stroke="#4a4a4a" stroke-width="1.45" />
<line x1="189.30" y1="115.70" x2="278.40" y2="115.70" stroke="#4a4a4a" stroke-width="1.45" />
<line x1="186.30" y1="115.70" x2="189.30" y2="115.70" stroke="#4a4a4a" stroke-width="0.9" />
<text x="183.20" y="118.53" font-size="8.1" fill="#222" stroke="#222" stroke-width="0.13" text-anchor="end" textLength="4.1" lengthAdjust="spacingAndGlyphs">0</text>
<line x1="186.30" y1="96.64" x2="189.30" y2="96.64" stroke="#4a4a4a" stroke-width="0.9" />
<text x="183.20" y="99.47" font-size="8.1" fill="#222" stroke="#222" stroke-width="0.13" text-anchor="end" textLength="8.2" lengthAdjust="spacingAndGlyphs">20</text>
<line x1="186.30" y1="77.58" x2="189.30" y2="77.58" stroke="#4a4a4a" stroke-width="0.9" />
<text x="183.20" y="80.42" font-size="8.1" fill="#222" stroke="#222" stroke-width="0.13" text-anchor="end" textLength="8.2" lengthAdjust="spacingAndGlyphs">40</text>
<line x1="186.30" y1="58.52" x2="189.30" y2="58.52" stroke="#4a4a4a" stroke-width="0.9" />
<text x="183.20" y="61.36" font-size="8.1" fill="#222" stroke="#222" stroke-width="0.13" text-anchor="end" textLength="8.2" lengthAdjust="spacingAndGlyphs">60</text>
<line x1="186.30" y1="39.46" x2="189.30" y2="39.46" stroke="#4a4a4a" stroke-width="0.9" />
<text x="183.20" y="42.30" font-size="8.1" fill="#222" stroke="#222" stroke-width="0.13" text-anchor="end" textLength="8.2" lengthAdjust="spacingAndGlyphs">80</text>
<line x1="186.30" y1="20.40" x2="189.30" y2="20.40" stroke="#4a4a4a" stroke-width="0.9" />
<text x="183.20" y="23.24" font-size="8.1" fill="#222" stroke="#222" stroke-width="0.13" text-anchor="end" textLength="12.3" lengthAdjust="spacingAndGlyphs">100</text>
<line x1="198.00" y1="115.70" x2="198.00" y2="118.20" stroke="#4a4a4a" stroke-width="0.9" />
<line x1="216.00" y1="115.70" x2="216.00" y2="118.20" stroke="#4a4a4a" stroke-width="0.9" />
<line x1="234.00" y1="115.70" x2="234.00" y2="118.20" stroke="#4a4a4a" stroke-width="0.9" />
<line x1="252.00" y1="115.70" x2="252.00" y2="118.20" stroke="#4a4a4a" stroke-width="0.9" />
<line x1="270.00" y1="115.70" x2="270.00" y2="118.20" stroke="#4a4a4a" stroke-width="0.9" />
<text transform="translate(164.50,68.90) rotate(-90)" font-size="10.0" fill="#222" stroke="#222" stroke-width="0.13" text-anchor="middle" textLength="62.6" lengthAdjust="spacingAndGlyphs">%CD45+CD33+</text>
<circle cx="198.00" cy="46.30" r="1.95" fill="#c24a2c"/>
<circle cx="198.00" cy="64.30" r="1.95" fill="#c24a2c"/>
<circle cx="198.00" cy="74.00" r="1.95" fill="#c24a2c"/>
<circle cx="194.80" cy="87.10" r="1.95" fill="#c24a2c"/>
<circle cx="200.70" cy="87.70" r="1.95" fill="#c24a2c"/>
<circle cx="198.00" cy="106.20" r="1.95" fill="#c24a2c"/>
<circle cx="216.00" cy="51.00" r="1.95" fill="#c24a2c"/>
<circle cx="216.00" cy="59.00" r="1.95" fill="#c24a2c"/>
<circle cx="216.00" cy="73.00" r="1.95" fill="#c24a2c"/>
<circle cx="216.00" cy="92.00" r="1.95" fill="#c24a2c"/>
<circle cx="234.00" cy="40.00" r="1.95" fill="#c24a2c"/>
<circle cx="234.00" cy="106.20" r="1.95" fill="#c24a2c"/>
<circle cx="248.00" cy="115.70" r="1.95" fill="#c24a2c"/>
<circle cx="251.00" cy="115.70" r="1.95" fill="#c24a2c"/>
<circle cx="253.00" cy="115.40" r="1.95" fill="#c24a2c"/>
<circle cx="254.70" cy="113.60" r="1.95" fill="#c24a2c"/>
<circle cx="266.70" cy="115.70" r="1.95" fill="#c24a2c"/>
<circle cx="270.00" cy="115.70" r="1.95" fill="#c24a2c"/>
<circle cx="272.70" cy="115.70" r="1.95" fill="#c24a2c"/>
<line x1="192.30" y1="77.60" x2="204.30" y2="77.60" stroke="#2a2a2a" stroke-width="1.2" />
<line x1="209.60" y1="68.50" x2="221.90" y2="68.50" stroke="#2a2a2a" stroke-width="1.2" />
<line x1="227.80" y1="73.10" x2="239.90" y2="73.10" stroke="#2a2a2a" stroke-width="1.2" />
<text transform="translate(200.70,124.00) rotate(-45)" font-size="7.8" fill="#222" stroke="#222" stroke-width="0.13" text-anchor="end" textLength="27.314819999999997" lengthAdjust="spacingAndGlyphs">unsorted</text>
<text transform="translate(218.70,124.00) rotate(-45)" font-size="7.8" fill="#222" stroke="#222" stroke-width="0.13" text-anchor="end" textLength="42.3306" lengthAdjust="spacingAndGlyphs">CD34+CD38-</text>
<text transform="translate(236.70,124.00) rotate(-45)" font-size="7.8" fill="#222" stroke="#222" stroke-width="0.13" text-anchor="end" textLength="44.09262" lengthAdjust="spacingAndGlyphs">CD34+CD38+</text>
<text transform="translate(254.70,124.00) rotate(-45)" font-size="7.8" fill="#222" stroke="#222" stroke-width="0.13" text-anchor="end" textLength="42.3306" lengthAdjust="spacingAndGlyphs">CD34-CD38+</text>
<text transform="translate(272.70,124.00) rotate(-45)" font-size="7.8" fill="#222" stroke="#222" stroke-width="0.13" text-anchor="end" textLength="40.568580000000004" lengthAdjust="spacingAndGlyphs">CD34-CD38-</text>
<text x="287.80" y="13.40" font-size="10.5" fill="#222" stroke="#222" stroke-width="0.13" text-anchor="start">C</text>
<text transform="translate(297.30,70.40) rotate(-90)" font-size="9.9" fill="#222" stroke="#222" stroke-width="0.13" text-anchor="middle" textLength="131" lengthAdjust="spacingAndGlyphs">Spearman correlation to LSC104</text>
<line x1="331.40" y1="27.30" x2="331.40" y2="29.30" stroke="#aaa4a4" stroke-width="0.7" />
<line x1="331.40" y1="44.10" x2="331.40" y2="46.00" stroke="#aaa4a4" stroke-width="0.7" />
<rect x="327.10" y="29.30" width="8.60" height="14.80" fill="#dedada" stroke="#aaa4a4" stroke-width="0.7" />
<line x1="327.10" y1="36.30" x2="335.70" y2="36.30" stroke="#a59e9e" stroke-width="0.8" />
<line x1="343.40" y1="34.60" x2="343.40" y2="36.60" stroke="#aaa4a4" stroke-width="0.7" />
<line x1="343.40" y1="57.90" x2="343.40" y2="62.90" stroke="#aaa4a4" stroke-width="0.7" />
<rect x="339.20" y="36.60" width="8.70" height="21.30" fill="#dedada" stroke="#aaa4a4" stroke-width="0.7" />
<line x1="339.20" y1="43.30" x2="347.90" y2="43.30" stroke="#a59e9e" stroke-width="0.8" />
<line x1="355.70" y1="68.90" x2="355.70" y2="68.90" stroke="#aaa4a4" stroke-width="0.7" />
<line x1="355.70" y1="88.00" x2="355.70" y2="90.30" stroke="#aaa4a4" stroke-width="0.7" />
<rect x="351.20" y="68.90" width="8.80" height="19.10" fill="#dedada" stroke="#aaa4a4" stroke-width="0.7" />
<line x1="351.20" y1="76.50" x2="360.00" y2="76.50" stroke="#a59e9e" stroke-width="0.8" />
<line x1="368.00" y1="81.80" x2="368.00" y2="81.80" stroke="#aaa4a4" stroke-width="0.7" />
<line x1="368.00" y1="101.80" x2="368.00" y2="107.20" stroke="#aaa4a4" stroke-width="0.7" />
<rect x="363.40" y="81.80" width="9.20" height="20.00" fill="#dedada" stroke="#aaa4a4" stroke-width="0.7" />
<line x1="363.40" y1="85.40" x2="372.60" y2="85.40" stroke="#a59e9e" stroke-width="0.8" />
<circle cx="331.40" cy="27.30" r="1.35" fill="#2f1f6e"/>
<circle cx="331.40" cy="33.00" r="1.35" fill="#2f1f6e"/>
<circle cx="331.40" cy="40.10" r="1.35" fill="#2f1f6e"/>
<circle cx="331.40" cy="46.00" r="1.35" fill="#2f1f6e"/>
<circle cx="343.40" cy="34.60" r="1.35" fill="#2f1f6e"/>
<circle cx="343.40" cy="41.70" r="1.35" fill="#2f1f6e"/>
<circle cx="343.40" cy="46.00" r="1.35" fill="#2f1f6e"/>
<circle cx="343.40" cy="62.90" r="1.35" fill="#2f1f6e"/>
<circle cx="354.20" cy="69.20" r="1.35" fill="#2f1f6e"/>
<circle cx="356.90" cy="68.90" r="1.35" fill="#2f1f6e"/>
<circle cx="355.70" cy="83.80" r="1.35" fill="#2f1f6e"/>
<circle cx="355.70" cy="90.30" r="1.35" fill="#2f1f6e"/>
<circle cx="366.50" cy="82.50" r="1.35" fill="#2f1f6e"/>
<circle cx="369.20" cy="81.80" r="1.35" fill="#2f1f6e"/>
<circle cx="368.00" cy="88.60" r="1.35" fill="#2f1f6e"/>
<circle cx="368.00" cy="107.20" r="1.35" fill="#2f1f6e"/>
<line x1="323.40" y1="24.20" x2="323.40" y2="116.20" stroke="#4a4a4a" stroke-width="1.45" />
<line x1="323.40" y1="115.70" x2="375.70" y2="115.70" stroke="#4a4a4a" stroke-width="1.45" />
<line x1="320.50" y1="26.90" x2="323.40" y2="26.90" stroke="#4a4a4a" stroke-width="0.9" />
<text x="316.80" y="29.73" font-size="8.1" fill="#222" stroke="#222" stroke-width="0.13" text-anchor="end" textLength="14.34" lengthAdjust="spacingAndGlyphs">0.75</text>
<line x1="320.50" y1="56.50" x2="323.40" y2="56.50" stroke="#4a4a4a" stroke-width="0.9" />
<text x="316.80" y="59.34" font-size="8.1" fill="#222" stroke="#222" stroke-width="0.13" text-anchor="end" textLength="14.34" lengthAdjust="spacingAndGlyphs">0.50</text>
<line x1="320.50" y1="86.10" x2="323.40" y2="86.10" stroke="#4a4a4a" stroke-width="0.9" />
<text x="316.80" y="88.93" font-size="8.1" fill="#222" stroke="#222" stroke-width="0.13" text-anchor="end" textLength="14.34" lengthAdjust="spacingAndGlyphs">0.25</text>
<line x1="320.50" y1="115.70" x2="323.40" y2="115.70" stroke="#4a4a4a" stroke-width="0.9" />
<text x="316.80" y="118.53" font-size="8.1" fill="#222" stroke="#222" stroke-width="0.13" text-anchor="end" textLength="14.34" lengthAdjust="spacingAndGlyphs">0.00</text>
<line x1="331.50" y1="115.70" x2="331.50" y2="118.20" stroke="#4a4a4a" stroke-width="0.9" />
<line x1="343.40" y1="115.70" x2="343.40" y2="118.20" stroke="#4a4a4a" stroke-width="0.9" />
<line x1="355.70" y1="115.70" x2="355.70" y2="118.20" stroke="#4a4a4a" stroke-width="0.9" />
<line x1="367.80" y1="115.70" x2="367.80" y2="118.20" stroke="#4a4a4a" stroke-width="0.9" />
<text transform="translate(333.80,125.50) rotate(-45)" font-size="8.3" fill="#222" stroke="#222" stroke-width="0.13" text-anchor="end" textLength="42.041160000000005" lengthAdjust="spacingAndGlyphs">CD34+CD38-</text>
<text transform="translate(345.70,125.50) rotate(-45)" font-size="8.3" fill="#222" stroke="#222" stroke-width="0.13" text-anchor="end" textLength="43.791132" lengthAdjust="spacingAndGlyphs">CD34+CD38+</text>
<text transform="translate(358.00,125.50) rotate(-45)" font-size="8.3" fill="#222" stroke="#222" stroke-width="0.13" text-anchor="end" textLength="42.041160000000005" lengthAdjust="spacingAndGlyphs">CD34-CD38+</text>
<text transform="translate(370.10,125.50) rotate(-45)" font-size="8.3" fill="#222" stroke="#222" stroke-width="0.13" text-anchor="end" textLength="40.291188000000005" lengthAdjust="spacingAndGlyphs">CD34-CD38-</text>
<text x="385.80" y="13.50" font-size="10.5" fill="#222" stroke="#222" stroke-width="0.13" text-anchor="start">D</text>
<text transform="translate(393.80,73.10) rotate(-90)" font-size="9.9" fill="#222" stroke="#222" stroke-width="0.13" text-anchor="middle" textLength="91" lengthAdjust="spacingAndGlyphs">Normalized expression</text>
<line x1="428.50" y1="30.30" x2="428.50" y2="34.10" stroke="#aaa4a4" stroke-width="0.7" />
<line x1="428.50" y1="61.50" x2="428.50" y2="66.50" stroke="#aaa4a4" stroke-width="0.7" />
<rect x="424.30" y="34.10" width="8.50" height="27.40" fill="#dedada" stroke="#aaa4a4" stroke-width="0.7" />
<line x1="424.30" y1="46.50" x2="432.80" y2="46.50" stroke="#a59e9e" stroke-width="0.8" />
<line x1="440.70" y1="38.40" x2="440.70" y2="41.00" stroke="#aaa4a4" stroke-width="0.7" />
<line x1="440.70" y1="56.50" x2="440.70" y2="60.80" stroke="#aaa4a4" stroke-width="0.7" />
<rect x="436.50" y="41.00" width="8.40" height="15.50" fill="#dedada" stroke="#aaa4a4" stroke-width="0.7" />
<line x1="436.50" y1="46.60" x2="444.90" y2="46.60" stroke="#a59e9e" stroke-width="0.8" />
<line x1="452.90" y1="29.40" x2="452.90" y2="32.40" stroke="#aaa4a4" stroke-width="0.7" />
<line x1="452.90" y1="82.60" x2="452.90" y2="87.80" stroke="#aaa4a4" stroke-width="0.7" />
<rect x="448.60" y="32.40" width="8.60" height="50.20" fill="#dedada" stroke="#aaa4a4" stroke-width="0.7" />
<line x1="448.60" y1="53.50" x2="457.20" y2="53.50" stroke="#a59e9e" stroke-width="0.8" />
<line x1="465.20" y1="49.70" x2="465.20" y2="52.00" stroke="#aaa4a4" stroke-width="0.7" />
<line x1="465.20" y1="92.30" x2="465.20" y2="103.40" stroke="#aaa4a4" stroke-width="0.7" />
<rect x="460.90" y="52.00" width="8.60" height="40.30" fill="#dedada" stroke="#aaa4a4" stroke-width="0.7" />
<line x1="460.90" y1="59.50" x2="469.50" y2="59.50" stroke="#a59e9e" stroke-width="0.8" />
<circle cx="428.50" cy="30.30" r="1.25" fill="#c8502a"/>
<circle cx="428.50" cy="43.80" r="1.25" fill="#c8502a"/>
<circle cx="428.50" cy="49.50" r="1.25" fill="#c8502a"/>
<circle cx="428.50" cy="66.50" r="1.25" fill="#c8502a"/>
<circle cx="440.60" cy="38.40" r="1.25" fill="#c8502a"/>
<circle cx="439.70" cy="45.40" r="1.25" fill="#c8502a"/>
<circle cx="441.80" cy="46.90" r="1.25" fill="#c8502a"/>
<circle cx="440.80" cy="60.80" r="1.25" fill="#c8502a"/>
<circle cx="452.70" cy="29.40" r="1.25" fill="#c8502a"/>
<circle cx="452.70" cy="38.80" r="1.25" fill="#c8502a"/>
<circle cx="453.00" cy="68.90" r="1.25" fill="#c8502a"/>
<circle cx="453.00" cy="87.80" r="1.25" fill="#c8502a"/>
<circle cx="465.40" cy="49.70" r="1.25" fill="#c8502a"/>
<circle cx="464.90" cy="56.90" r="1.25" fill="#c8502a"/>
<circle cx="464.90" cy="61.80" r="1.25" fill="#c8502a"/>
<circle cx="465.40" cy="103.40" r="1.25" fill="#c8502a"/>
<text x="425.00" y="111.35" font-size="7.3" fill="#cc6448" stroke="#cc6448" stroke-width="0.13" text-anchor="start" textLength="19.3" lengthAdjust="spacingAndGlyphs">INKA1</text>
<line x1="420.60" y1="22.20" x2="420.60" y2="115.90" stroke="#4a4a4a" stroke-width="1.45" />
<line x1="420.60" y1="115.40" x2="473.50" y2="115.40" stroke="#4a4a4a" stroke-width="1.45" />
<line x1="417.70" y1="30.30" x2="420.60" y2="30.30" stroke="#4a4a4a" stroke-width="0.9" />
<text x="414.60" y="33.14" font-size="8.1" fill="#222" stroke="#222" stroke-width="0.13" text-anchor="end" textLength="14.34" lengthAdjust="spacingAndGlyphs">1.00</text>
<line x1="417.70" y1="51.58" x2="420.60" y2="51.58" stroke="#4a4a4a" stroke-width="0.9" />
<text x="414.60" y="54.41" font-size="8.1" fill="#222" stroke="#222" stroke-width="0.13" text-anchor="end" textLength="14.34" lengthAdjust="spacingAndGlyphs">0.75</text>
<line x1="417.70" y1="72.85" x2="420.60" y2="72.85" stroke="#4a4a4a" stroke-width="0.9" />
<text x="414.60" y="75.69" font-size="8.1" fill="#222" stroke="#222" stroke-width="0.13" text-anchor="end" textLength="14.34" lengthAdjust="spacingAndGlyphs">0.50</text>
<line x1="417.70" y1="94.12" x2="420.60" y2="94.12" stroke="#4a4a4a" stroke-width="0.9" />
<text x="414.60" y="96.96" font-size="8.1" fill="#222" stroke="#222" stroke-width="0.13" text-anchor="end" textLength="14.34" lengthAdjust="spacingAndGlyphs">0.25</text>
<line x1="417.70" y1="115.40" x2="420.60" y2="115.40" stroke="#4a4a4a" stroke-width="0.9" />
<text x="414.60" y="118.23" font-size="8.1" fill="#222" stroke="#222" stroke-width="0.13" text-anchor="end" textLength="14.34" lengthAdjust="spacingAndGlyphs">0.00</text>
<line x1="428.50" y1="115.40" x2="428.50" y2="117.90" stroke="#4a4a4a" stroke-width="0.9" />
<line x1="440.80" y1="115.40" x2="440.80" y2="117.90" stroke="#4a4a4a" stroke-width="0.9" />
<line x1="453.00" y1="115.40" x2="453.00" y2="117.90" stroke="#4a4a4a" stroke-width="0.9" />
<line x1="465.40" y1="115.40" x2="465.40" y2="117.90" stroke="#4a4a4a" stroke-width="0.9" />
<text transform="translate(430.80,125.50) rotate(-45)" font-size="8.3" fill="#222" stroke="#222" stroke-width="0.13" text-anchor="end" textLength="42.041160000000005" lengthAdjust="spacingAndGlyphs">CD34+CD38-</text>
<text transform="translate(443.10,125.50) rotate(-45)" font-size="8.3" fill="#222" stroke="#222" stroke-width="0.13" text-anchor="end" textLength="43.791132" lengthAdjust="spacingAndGlyphs">CD34+CD38+</text>
<text transform="translate(455.30,125.50) rotate(-45)" font-size="8.3" fill="#222" stroke="#222" stroke-width="0.13" text-anchor="end" textLength="42.041160000000005" lengthAdjust="spacingAndGlyphs">CD34-CD38+</text>
<text transform="translate(467.70,125.50) rotate(-45)" font-size="8.3" fill="#222" stroke="#222" stroke-width="0.13" text-anchor="end" textLength="40.291188000000005" lengthAdjust="spacingAndGlyphs">CD34-CD38-</text>
<text x="13.30" y="182.00" font-size="10.5" fill="#222" stroke="#222" stroke-width="0.13" text-anchor="start">E</text>
<line x1="46.70" y1="197.50" x2="46.70" y2="289.50" stroke="#4a4a4a" stroke-width="1.45" />
<line x1="46.70" y1="289.00" x2="183.00" y2="289.00" stroke="#4a4a4a" stroke-width="1.45" />
<line x1="44.00" y1="289.00" x2="46.70" y2="289.00" stroke="#4a4a4a" stroke-width="0.9" />
<text x="41.60" y="291.83" font-size="8.1" fill="#222" stroke="#222" stroke-width="0.13" text-anchor="end" textLength="4.1" lengthAdjust="spacingAndGlyphs">0</text>
<line x1="44.00" y1="259.40" x2="46.70" y2="259.40" stroke="#4a4a4a" stroke-width="0.9" />
<text x="41.60" y="262.23" font-size="8.1" fill="#222" stroke="#222" stroke-width="0.13" text-anchor="end" textLength="8.2" lengthAdjust="spacingAndGlyphs">20</text>
<line x1="44.00" y1="229.80" x2="46.70" y2="229.80" stroke="#4a4a4a" stroke-width="0.9" />
<text x="41.60" y="232.64" font-size="8.1" fill="#222" stroke="#222" stroke-width="0.13" text-anchor="end" textLength="8.2" lengthAdjust="spacingAndGlyphs">40</text>
<line x1="44.00" y1="200.20" x2="46.70" y2="200.20" stroke="#4a4a4a" stroke-width="0.9" />
<text x="41.60" y="203.03" font-size="8.1" fill="#222" stroke="#222" stroke-width="0.13" text-anchor="end" textLength="8.2" lengthAdjust="spacingAndGlyphs">60</text>
<line x1="47.30" y1="289.00" x2="47.30" y2="291.30" stroke="#4a4a4a" stroke-width="0.9" />
<text x="47.30" y="302.12" font-size="7.5" fill="#222" stroke="#222" stroke-width="0.13" text-anchor="middle">0</text>
<line x1="74.02" y1="289.00" x2="74.02" y2="291.30" stroke="#4a4a4a" stroke-width="0.9" />
<text x="74.02" y="302.12" font-size="7.5" fill="#222" stroke="#222" stroke-width="0.13" text-anchor="middle">10</text>
<line x1="100.74" y1="289.00" x2="100.74" y2="291.30" stroke="#4a4a4a" stroke-width="0.9" />
<text x="100.74" y="302.12" font-size="7.5" fill="#222" stroke="#222" stroke-width="0.13" text-anchor="middle">20</text>
<line x1="127.46" y1="289.00" x2="127.46" y2="291.30" stroke="#4a4a4a" stroke-width="0.9" />
<text x="127.46" y="302.12" font-size="7.5" fill="#222" stroke="#222" stroke-width="0.13" text-anchor="middle">30</text>
<line x1="154.18" y1="289.00" x2="154.18" y2="291.30" stroke="#4a4a4a" stroke-width="0.9" />
<text x="154.18" y="302.12" font-size="7.5" fill="#222" stroke="#222" stroke-width="0.13" text-anchor="middle">40</text>
<line x1="180.90" y1="289.00" x2="180.90" y2="291.30" stroke="#4a4a4a" stroke-width="0.9" />
<text x="180.90" y="302.12" font-size="7.5" fill="#222" stroke="#222" stroke-width="0.13" text-anchor="middle">50</text>
<text x="113.60" y="315.00" font-size="9" fill="#222" stroke="#222" stroke-width="0.13" text-anchor="middle" textLength="92.3" lengthAdjust="spacingAndGlyphs">Days post transduction</text>
<text transform="translate(27.00,243.40) rotate(-90)" font-size="9.7" fill="#222" stroke="#222" stroke-width="0.13" text-anchor="middle" textLength="50.5" lengthAdjust="spacingAndGlyphs">% BFP+ total</text>
<line x1="57.70" y1="194.20" x2="68.30" y2="194.20" stroke="#4b3b8c" stroke-width="1.3" />
<circle cx="63.30" cy="194.20" r="1.7" fill="#4b3b8c"/>
<text x="71.70" y="196.93" font-size="7.8" fill="#222" stroke="#222" stroke-width="0.13" text-anchor="start" textLength="30.5" lengthAdjust="spacingAndGlyphs">CONTROL</text>
<line x1="114.90" y1="194.20" x2="124.80" y2="194.20" stroke="#c8532e" stroke-width="1.3" />
<rect x="118.10" y="192.50" width="3.40" height="3.40" fill="#c8532e" stroke="none" stroke-width="1" />
<text x="128.70" y="196.93" font-size="7.8" fill="#222" stroke="#222" stroke-width="0.13" text-anchor="start" textLength="18.6" lengthAdjust="spacingAndGlyphs">INKA1</text>
<line x1="57.99" y1="219.60" x2="57.99" y2="234.20" stroke="#4b3b8c" stroke-width="0.8" />
<line x1="55.69" y1="219.60" x2="60.29" y2="219.60" stroke="#4b3b8c" stroke-width="0.8" />
<line x1="55.69" y1="234.20" x2="60.29" y2="234.20" stroke="#4b3b8c" stroke-width="0.8" />
<line x1="63.33" y1="212.00" x2="63.33" y2="215.00" stroke="#4b3b8c" stroke-width="0.8" />
<line x1="61.03" y1="212.00" x2="65.63" y2="212.00" stroke="#4b3b8c" stroke-width="0.8" />
<line x1="61.03" y1="215.00" x2="65.63" y2="215.00" stroke="#4b3b8c" stroke-width="0.8" />
<line x1="79.36" y1="214.40" x2="79.36" y2="223.60" stroke="#4b3b8c" stroke-width="0.8" />
<line x1="77.06" y1="214.40" x2="81.66" y2="214.40" stroke="#4b3b8c" stroke-width="0.8" />
<line x1="77.06" y1="223.60" x2="81.66" y2="223.60" stroke="#4b3b8c" stroke-width="0.8" />
<line x1="92.72" y1="231.40" x2="92.72" y2="246.20" stroke="#4b3b8c" stroke-width="0.8" />
<line x1="90.42" y1="231.40" x2="95.02" y2="231.40" stroke="#4b3b8c" stroke-width="0.8" />
<line x1="90.42" y1="246.20" x2="95.02" y2="246.20" stroke="#4b3b8c" stroke-width="0.8" />
<line x1="103.41" y1="228.00" x2="103.41" y2="249.20" stroke="#4b3b8c" stroke-width="0.8" />
<line x1="101.11" y1="228.00" x2="105.71" y2="228.00" stroke="#4b3b8c" stroke-width="0.8" />
<line x1="101.11" y1="249.20" x2="105.71" y2="249.20" stroke="#4b3b8c" stroke-width="0.8" />
<line x1="116.77" y1="226.10" x2="116.77" y2="255.10" stroke="#4b3b8c" stroke-width="0.8" />
<line x1="114.47" y1="226.10" x2="119.07" y2="226.10" stroke="#4b3b8c" stroke-width="0.8" />
<line x1="114.47" y1="255.10" x2="119.07" y2="255.10" stroke="#4b3b8c" stroke-width="0.8" />
<line x1="138.15" y1="229.30" x2="138.15" y2="254.00" stroke="#4b3b8c" stroke-width="0.8" />
<line x1="135.85" y1="229.30" x2="140.45" y2="229.30" stroke="#4b3b8c" stroke-width="0.8" />
<line x1="135.85" y1="254.00" x2="140.45" y2="254.00" stroke="#4b3b8c" stroke-width="0.8" />
<line x1="156.85" y1="229.70" x2="156.85" y2="240.90" stroke="#4b3b8c" stroke-width="0.8" />
<line x1="154.55" y1="229.70" x2="159.15" y2="229.70" stroke="#4b3b8c" stroke-width="0.8" />
<line x1="154.55" y1="240.90" x2="159.15" y2="240.90" stroke="#4b3b8c" stroke-width="0.8" />
<line x1="167.54" y1="223.20" x2="167.54" y2="240.50" stroke="#4b3b8c" stroke-width="0.8" />
<line x1="165.24" y1="223.20" x2="169.84" y2="223.20" stroke="#4b3b8c" stroke-width="0.8" />
<line x1="165.24" y1="240.50" x2="169.84" y2="240.50" stroke="#4b3b8c" stroke-width="0.8" />
<polyline points="57.99,226.50 63.33,213.50 79.36,219.50 92.72,238.80 103.41,238.40 116.77,241.10 138.15,241.60 156.85,235.40 167.54,231.60" fill="none" stroke="#4b3b8c" stroke-width="1.3"/>
<circle cx="57.99" cy="226.50" r="1.75" fill="#4b3b8c"/>
<circle cx="63.33" cy="213.50" r="1.75" fill="#4b3b8c"/>
<circle cx="79.36" cy="219.50" r="1.75" fill="#4b3b8c"/>
<circle cx="92.72" cy="238.80" r="1.75" fill="#4b3b8c"/>
<circle cx="103.41" cy="238.40" r="1.75" fill="#4b3b8c"/>
<circle cx="116.77" cy="241.10" r="1.75" fill="#4b3b8c"/>
<circle cx="138.15" cy="241.60" r="1.75" fill="#4b3b8c"/>
<circle cx="156.85" cy="235.40" r="1.75" fill="#4b3b8c"/>
<circle cx="167.54" cy="231.60" r="1.75" fill="#4b3b8c"/>
<line x1="57.99" y1="235.40" x2="57.99" y2="240.90" stroke="#c8532e" stroke-width="0.8" />
<line x1="55.69" y1="235.40" x2="60.29" y2="235.40" stroke="#c8532e" stroke-width="0.8" />
<line x1="55.69" y1="240.90" x2="60.29" y2="240.90" stroke="#c8532e" stroke-width="0.8" />
<line x1="63.33" y1="233.00" x2="63.33" y2="242.30" stroke="#c8532e" stroke-width="0.8" />
<line x1="61.03" y1="233.00" x2="65.63" y2="233.00" stroke="#c8532e" stroke-width="0.8" />
<line x1="61.03" y1="242.30" x2="65.63" y2="242.30" stroke="#c8532e" stroke-width="0.8" />
<line x1="79.36" y1="243.50" x2="79.36" y2="253.60" stroke="#c8532e" stroke-width="0.8" />
<line x1="77.06" y1="243.50" x2="81.66" y2="243.50" stroke="#c8532e" stroke-width="0.8" />
<line x1="77.06" y1="253.60" x2="81.66" y2="253.60" stroke="#c8532e" stroke-width="0.8" />
<line x1="92.72" y1="262.00" x2="92.72" y2="269.30" stroke="#c8532e" stroke-width="0.8" />
<line x1="90.42" y1="262.00" x2="95.02" y2="262.00" stroke="#c8532e" stroke-width="0.8" />
<line x1="90.42" y1="269.30" x2="95.02" y2="269.30" stroke="#c8532e" stroke-width="0.8" />
<line x1="103.41" y1="264.60" x2="103.41" y2="272.00" stroke="#c8532e" stroke-width="0.8" />
<line x1="101.11" y1="264.60" x2="105.71" y2="264.60" stroke="#c8532e" stroke-width="0.8" />
<line x1="101.11" y1="272.00" x2="105.71" y2="272.00" stroke="#c8532e" stroke-width="0.8" />
<line x1="116.77" y1="267.00" x2="116.77" y2="278.00" stroke="#c8532e" stroke-width="0.8" />
<line x1="114.47" y1="267.00" x2="119.07" y2="267.00" stroke="#c8532e" stroke-width="0.8" />
<line x1="114.47" y1="278.00" x2="119.07" y2="278.00" stroke="#c8532e" stroke-width="0.8" />
<line x1="138.15" y1="273.70" x2="138.15" y2="278.60" stroke="#c8532e" stroke-width="0.8" />
<line x1="135.85" y1="273.70" x2="140.45" y2="273.70" stroke="#c8532e" stroke-width="0.8" />
<line x1="135.85" y1="278.60" x2="140.45" y2="278.60" stroke="#c8532e" stroke-width="0.8" />
<line x1="156.85" y1="273.00" x2="156.85" y2="275.60" stroke="#c8532e" stroke-width="0.8" />
<line x1="154.55" y1="273.00" x2="159.15" y2="273.00" stroke="#c8532e" stroke-width="0.8" />
<line x1="154.55" y1="275.60" x2="159.15" y2="275.60" stroke="#c8532e" stroke-width="0.8" />
<line x1="167.54" y1="270.00" x2="167.54" y2="275.80" stroke="#c8532e" stroke-width="0.8" />
<line x1="165.24" y1="270.00" x2="169.84" y2="270.00" stroke="#c8532e" stroke-width="0.8" />
<line x1="165.24" y1="275.80" x2="169.84" y2="275.80" stroke="#c8532e" stroke-width="0.8" />
<polyline points="57.99,237.50 63.33,237.70 79.36,248.70 92.72,265.70 103.41,268.40 116.77,272.40 138.15,276.30 156.85,274.40 167.54,272.70" fill="none" stroke="#c8532e" stroke-width="1.3"/>
<rect x="56.19" y="235.70" width="3.60" height="3.60" fill="#c8532e" stroke="none" stroke-width="1" />
<rect x="61.53" y="235.90" width="3.60" height="3.60" fill="#c8532e" stroke="none" stroke-width="1" />
<rect x="77.56" y="246.90" width="3.60" height="3.60" fill="#c8532e" stroke="none" stroke-width="1" />
<rect x="90.92" y="263.90" width="3.60" height="3.60" fill="#c8532e" stroke="none" stroke-width="1" />
<rect x="101.61" y="266.60" width="3.60" height="3.60" fill="#c8532e" stroke="none" stroke-width="1" />
<rect x="114.97" y="270.60" width="3.60" height="3.60" fill="#c8532e" stroke="none" stroke-width="1" />
<rect x="136.35" y="274.50" width="3.60" height="3.60" fill="#c8532e" stroke="none" stroke-width="1" />
<rect x="155.05" y="272.60" width="3.60" height="3.60" fill="#c8532e" stroke="none" stroke-width="1" />
<rect x="165.74" y="270.90" width="3.60" height="3.60" fill="#c8532e" stroke="none" stroke-width="1" />
<text x="195.00" y="181.80" font-size="10.5" fill="#222" stroke="#222" stroke-width="0.13" text-anchor="start">F</text>
<text transform="translate(203.60,248.00) rotate(-90)" font-size="9.3" fill="#222" stroke="#222" stroke-width="0.13" text-anchor="middle" textLength="105" lengthAdjust="spacingAndGlyphs">% annexinV-7AAD- (BFP+)</text>
<line x1="238.55" y1="237.90" x2="238.55" y2="231.50" stroke="#4a4a4a" stroke-width="1" />
<line x1="235.35" y1="231.50" x2="241.75" y2="231.50" stroke="#4a4a4a" stroke-width="1" />
<rect x="231.30" y="237.90" width="14.50" height="51.30" fill="#5b4a80" stroke="#4b3a72" stroke-width="0.6" />
<line x1="259.10" y1="236.00" x2="259.10" y2="226.30" stroke="#4a4a4a" stroke-width="1" />
<line x1="255.90" y1="226.30" x2="262.30" y2="226.30" stroke="#4a4a4a" stroke-width="1" />
<rect x="251.90" y="236.00" width="14.40" height="53.20" fill="#c05a3a" stroke="#b24c2e" stroke-width="0.6" />
<line x1="279.65" y1="225.30" x2="279.65" y2="215.80" stroke="#4a4a4a" stroke-width="1" />
<line x1="276.45" y1="215.80" x2="282.85" y2="215.80" stroke="#4a4a4a" stroke-width="1" />
<rect x="272.40" y="225.30" width="14.50" height="63.90" fill="#5b4a80" stroke="#4b3a72" stroke-width="0.6" />
<line x1="300.15" y1="224.10" x2="300.15" y2="219.50" stroke="#4a4a4a" stroke-width="1" />
<line x1="296.95" y1="219.50" x2="303.35" y2="219.50" stroke="#4a4a4a" stroke-width="1" />
<rect x="292.80" y="224.10" width="14.70" height="65.10" fill="#c05a3a" stroke="#b24c2e" stroke-width="0.6" />
<line x1="228.50" y1="206.50" x2="228.50" y2="289.70" stroke="#4a4a4a" stroke-width="1.45" />
<line x1="228.50" y1="289.20" x2="309.60" y2="289.20" stroke="#4a4a4a" stroke-width="1.45" />
<line x1="269.20" y1="207.80" x2="269.20" y2="289.20" stroke="#4a4a4a" stroke-width="1" />
<line x1="225.00" y1="289.20" x2="228.50" y2="289.20" stroke="#4a4a4a" stroke-width="0.9" />
<text x="222.00" y="292.03" font-size="8.1" fill="#222" stroke="#222" stroke-width="0.13" text-anchor="end" textLength="4.1" lengthAdjust="spacingAndGlyphs">0</text>
<line x1="225.00" y1="273.17" x2="228.50" y2="273.17" stroke="#4a4a4a" stroke-width="0.9" />
<text x="222.00" y="276.00" font-size="8.1" fill="#222" stroke="#222" stroke-width="0.13" text-anchor="end" textLength="8.2" lengthAdjust="spacingAndGlyphs">20</text>
<line x1="225.00" y1="257.14" x2="228.50" y2="257.14" stroke="#4a4a4a" stroke-width="0.9" />
<text x="222.00" y="259.97" font-size="8.1" fill="#222" stroke="#222" stroke-width="0.13" text-anchor="end" textLength="8.2" lengthAdjust="spacingAndGlyphs">40</text>
<line x1="225.00" y1="241.11" x2="228.50" y2="241.11" stroke="#4a4a4a" stroke-width="0.9" />
<text x="222.00" y="243.94" font-size="8.1" fill="#222" stroke="#222" stroke-width="0.13" text-anchor="end" textLength="8.2" lengthAdjust="spacingAndGlyphs">60</text>
<line x1="225.00" y1="225.08" x2="228.50" y2="225.08" stroke="#4a4a4a" stroke-width="0.9" />
<text x="222.00" y="227.91" font-size="8.1" fill="#222" stroke="#222" stroke-width="0.13" text-anchor="end" textLength="8.2" lengthAdjust="spacingAndGlyphs">80</text>
<line x1="225.00" y1="209.05" x2="228.50" y2="209.05" stroke="#4a4a4a" stroke-width="0.9" />
<text x="222.00" y="211.88" font-size="8.1" fill="#222" stroke="#222" stroke-width="0.13" text-anchor="end" textLength="12.3" lengthAdjust="spacingAndGlyphs">100</text>
<line x1="238.00" y1="289.20" x2="238.00" y2="291.60" stroke="#4a4a4a" stroke-width="0.9" />
<line x1="258.80" y1="289.20" x2="258.80" y2="291.60" stroke="#4a4a4a" stroke-width="0.9" />
<line x1="279.60" y1="289.20" x2="279.60" y2="291.60" stroke="#4a4a4a" stroke-width="0.9" />
<line x1="300.40" y1="289.20" x2="300.40" y2="291.60" stroke="#4a4a4a" stroke-width="0.9" />
<line x1="236.20" y1="219.40" x2="261.50" y2="219.40" stroke="#333" stroke-width="1" />
<line x1="277.20" y1="213.70" x2="302.30" y2="213.70" stroke="#555" stroke-width="1.1" />
<text x="248.70" y="201.96" font-size="7.3" fill="#222" stroke="#222" stroke-width="0.13" text-anchor="middle" textLength="19" lengthAdjust="spacingAndGlyphs">CD34-</text>
<text x="248.70" y="208.65" font-size="7" fill="#222" stroke="#222" stroke-width="0.13" text-anchor="middle">n.s.</text>
<text x="290.20" y="201.56" font-size="7.3" fill="#222" stroke="#222" stroke-width="0.13" text-anchor="middle" textLength="40.5" lengthAdjust="spacingAndGlyphs">CD34+CD38-</text>
<text x="290.00" y="208.65" font-size="7" fill="#222" stroke="#222" stroke-width="0.13" text-anchor="middle">n.s.</text>
<text transform="translate(242.00,297.50) rotate(-45)" font-size="7.4" fill="#222" stroke="#222" stroke-width="0.13" text-anchor="end">CONTROL</text>
<text transform="translate(262.80,297.50) rotate(-45)" font-size="7.4" fill="#222" stroke="#222" stroke-width="0.13" text-anchor="end">INKA1</text>
<text transform="translate(283.60,297.50) rotate(-45)" font-size="7.4" fill="#222" stroke="#222" stroke-width="0.13" text-anchor="end">CONTROL</text>
<text transform="translate(304.40,297.50) rotate(-45)" font-size="7.4" fill="#222" stroke="#222" stroke-width="0.13" text-anchor="end">INKA1</text>
<text x="331.60" y="180.80" font-size="10.5" fill="#222" stroke="#222" stroke-width="0.13" text-anchor="start">G</text>
<text transform="translate(340.00,240.00) rotate(-90)" font-size="9.5" fill="#222" stroke="#222" stroke-width="0.13" text-anchor="middle" textLength="133.6" lengthAdjust="spacingAndGlyphs">log2 ratio %BFP+(CD34+vsCD34-)</text>
<rect x="360.00" y="271.70" width="5.10" height="15.20" fill="#5b4a80" stroke="#4b3a72" stroke-width="0.6" />
<line x1="369.75" y1="281.50" x2="369.75" y2="282.70" stroke="#4a4a4a" stroke-width="0.9" />
<line x1="367.95" y1="282.70" x2="371.55" y2="282.70" stroke="#4a4a4a" stroke-width="0.9" />
<rect x="366.90" y="271.70" width="5.70" height="9.80" fill="#c05a3a" stroke="#b24c2e" stroke-width="0.6" />
<rect x="378.20" y="271.70" width="5.30" height="3.70" fill="#5b4a80" stroke="#4b3a72" stroke-width="0.6" />
<line x1="387.55" y1="270.00" x2="387.55" y2="268.80" stroke="#4a4a4a" stroke-width="0.9" />
<line x1="385.75" y1="268.80" x2="389.35" y2="268.80" stroke="#4a4a4a" stroke-width="0.9" />
<rect x="384.80" y="270.00" width="5.50" height="1.70" fill="#c05a3a" stroke="#b24c2e" stroke-width="0.6" />
<line x1="399.00" y1="265.80" x2="399.00" y2="260.50" stroke="#4a4a4a" stroke-width="0.9" />
<line x1="397.20" y1="260.50" x2="400.80" y2="260.50" stroke="#4a4a4a" stroke-width="0.9" />
<rect x="396.20" y="265.80" width="5.60" height="5.90" fill="#5b4a80" stroke="#4b3a72" stroke-width="0.6" />
<line x1="406.00" y1="256.90" x2="406.00" y2="251.80" stroke="#4a4a4a" stroke-width="0.9" />
<line x1="404.20" y1="251.80" x2="407.80" y2="251.80" stroke="#4a4a4a" stroke-width="0.9" />
<rect x="403.20" y="256.90" width="5.60" height="14.80" fill="#c05a3a" stroke="#b24c2e" stroke-width="0.6" />
<line x1="417.15" y1="265.80" x2="417.15" y2="262.00" stroke="#4a4a4a" stroke-width="0.9" />
<line x1="415.35" y1="262.00" x2="418.95" y2="262.00" stroke="#4a4a4a" stroke-width="0.9" />
<rect x="414.30" y="265.80" width="5.70" height="5.90" fill="#5b4a80" stroke="#4b3a72" stroke-width="0.6" />
<line x1="424.05" y1="253.10" x2="424.05" y2="245.70" stroke="#4a4a4a" stroke-width="0.9" />
<line x1="422.25" y1="245.70" x2="425.85" y2="245.70" stroke="#4a4a4a" stroke-width="0.9" />
<rect x="421.20" y="253.10" width="5.70" height="18.60" fill="#c05a3a" stroke="#b24c2e" stroke-width="0.6" />
<line x1="435.70" y1="267.30" x2="435.70" y2="263.50" stroke="#4a4a4a" stroke-width="0.9" />
<line x1="433.90" y1="263.50" x2="437.50" y2="263.50" stroke="#4a4a4a" stroke-width="0.9" />
<rect x="433.10" y="267.30" width="5.20" height="4.40" fill="#5b4a80" stroke="#4b3a72" stroke-width="0.6" />
<line x1="442.10" y1="251.90" x2="442.10" y2="237.30" stroke="#4a4a4a" stroke-width="0.9" />
<line x1="440.30" y1="237.30" x2="443.90" y2="237.30" stroke="#4a4a4a" stroke-width="0.9" />
<rect x="439.20" y="251.90" width="5.80" height="19.80" fill="#c05a3a" stroke="#b24c2e" stroke-width="0.6" />
<line x1="454.10" y1="265.00" x2="454.10" y2="258.30" stroke="#4a4a4a" stroke-width="0.9" />
<line x1="452.30" y1="258.30" x2="455.90" y2="258.30" stroke="#4a4a4a" stroke-width="0.9" />
<rect x="451.30" y="265.00" width="5.60" height="6.70" fill="#5b4a80" stroke="#4b3a72" stroke-width="0.6" />
<line x1="460.85" y1="238.10" x2="460.85" y2="228.10" stroke="#4a4a4a" stroke-width="0.9" />
<line x1="459.05" y1="228.10" x2="462.65" y2="228.10" stroke="#4a4a4a" stroke-width="0.9" />
<rect x="457.90" y="238.10" width="5.90" height="33.60" fill="#c05a3a" stroke="#b24c2e" stroke-width="0.6" />
<line x1="472.10" y1="267.90" x2="472.10" y2="260.60" stroke="#4a4a4a" stroke-width="0.9" />
<line x1="470.30" y1="260.60" x2="473.90" y2="260.60" stroke="#4a4a4a" stroke-width="0.9" />
<rect x="469.40" y="267.90" width="5.40" height="3.80" fill="#5b4a80" stroke="#4b3a72" stroke-width="0.6" />
<line x1="479.05" y1="234.80" x2="479.05" y2="217.50" stroke="#4a4a4a" stroke-width="0.9" />
<line x1="477.25" y1="217.50" x2="480.85" y2="217.50" stroke="#4a4a4a" stroke-width="0.9" />
<rect x="476.20" y="234.80" width="5.70" height="36.90" fill="#c05a3a" stroke="#b24c2e" stroke-width="0.6" />
<line x1="490.70" y1="266.90" x2="490.70" y2="263.10" stroke="#4a4a4a" stroke-width="0.9" />
<line x1="488.90" y1="263.10" x2="492.50" y2="263.10" stroke="#4a4a4a" stroke-width="0.9" />
<rect x="487.90" y="266.90" width="5.60" height="4.80" fill="#5b4a80" stroke="#4b3a72" stroke-width="0.6" />
<line x1="497.50" y1="227.70" x2="497.50" y2="208.70" stroke="#4a4a4a" stroke-width="0.9" />
<line x1="495.70" y1="208.70" x2="499.30" y2="208.70" stroke="#4a4a4a" stroke-width="0.9" />
<rect x="494.60" y="227.70" width="5.80" height="44.00" fill="#c05a3a" stroke="#b24c2e" stroke-width="0.6" />
<line x1="356.80" y1="271.70" x2="502.70" y2="271.70" stroke="#666" stroke-width="1.1" />
<line x1="356.80" y1="199.40" x2="356.80" y2="289.70" stroke="#4a4a4a" stroke-width="1.45" />
<line x1="356.80" y1="289.20" x2="502.70" y2="289.20" stroke="#4a4a4a" stroke-width="1.45" />
<line x1="354.00" y1="201.70" x2="356.80" y2="201.70" stroke="#4a4a4a" stroke-width="0.9" />
<text x="352.30" y="204.53" font-size="8.1" fill="#222" stroke="#222" stroke-width="0.13" text-anchor="end" textLength="4.1" lengthAdjust="spacingAndGlyphs">4</text>
<line x1="354.00" y1="219.20" x2="356.80" y2="219.20" stroke="#4a4a4a" stroke-width="0.9" />
<text x="352.30" y="222.03" font-size="8.1" fill="#222" stroke="#222" stroke-width="0.13" text-anchor="end" textLength="4.1" lengthAdjust="spacingAndGlyphs">3</text>
<line x1="354.00" y1="236.70" x2="356.80" y2="236.70" stroke="#4a4a4a" stroke-width="0.9" />
<text x="352.30" y="239.53" font-size="8.1" fill="#222" stroke="#222" stroke-width="0.13" text-anchor="end" textLength="4.1" lengthAdjust="spacingAndGlyphs">2</text>
<line x1="354.00" y1="254.20" x2="356.80" y2="254.20" stroke="#4a4a4a" stroke-width="0.9" />
<text x="352.30" y="257.03" font-size="8.1" fill="#222" stroke="#222" stroke-width="0.13" text-anchor="end" textLength="4.1" lengthAdjust="spacingAndGlyphs">1</text>
<line x1="354.00" y1="271.70" x2="356.80" y2="271.70" stroke="#4a4a4a" stroke-width="0.9" />
<text x="352.30" y="274.53" font-size="8.1" fill="#222" stroke="#222" stroke-width="0.13" text-anchor="end" textLength="4.1" lengthAdjust="spacingAndGlyphs">0</text>
<line x1="354.00" y1="289.20" x2="356.80" y2="289.20" stroke="#4a4a4a" stroke-width="0.9" />
<text x="352.30" y="292.03" font-size="8.1" fill="#222" stroke="#222" stroke-width="0.13" text-anchor="end" textLength="6.55" lengthAdjust="spacingAndGlyphs">-1</text>
<line x1="365.70" y1="289.20" x2="365.70" y2="291.50" stroke="#4a4a4a" stroke-width="0.9" />
<text x="365.70" y="302.05" font-size="7" fill="#222" stroke="#222" stroke-width="0.13" text-anchor="middle">6</text>
<line x1="384.20" y1="289.20" x2="384.20" y2="291.50" stroke="#4a4a4a" stroke-width="0.9" />
<text x="384.20" y="302.05" font-size="7" fill="#222" stroke="#222" stroke-width="0.13" text-anchor="middle">12</text>
<line x1="402.30" y1="289.20" x2="402.30" y2="291.50" stroke="#4a4a4a" stroke-width="0.9" />
<text x="402.30" y="302.05" font-size="7" fill="#222" stroke="#222" stroke-width="0.13" text-anchor="middle">17</text>
<line x1="420.50" y1="289.20" x2="420.50" y2="291.50" stroke="#4a4a4a" stroke-width="0.9" />
<text x="420.50" y="302.05" font-size="7" fill="#222" stroke="#222" stroke-width="0.13" text-anchor="middle">21</text>
<line x1="438.80" y1="289.20" x2="438.80" y2="291.50" stroke="#4a4a4a" stroke-width="0.9" />
<text x="438.80" y="302.05" font-size="7" fill="#222" stroke="#222" stroke-width="0.13" text-anchor="middle">26</text>
<line x1="457.10" y1="289.20" x2="457.10" y2="291.50" stroke="#4a4a4a" stroke-width="0.9" />
<text x="457.10" y="302.05" font-size="7" fill="#222" stroke="#222" stroke-width="0.13" text-anchor="middle">34</text>
<line x1="475.40" y1="289.20" x2="475.40" y2="291.50" stroke="#4a4a4a" stroke-width="0.9" />
<text x="475.40" y="302.05" font-size="7" fill="#222" stroke="#222" stroke-width="0.13" text-anchor="middle">41</text>
<line x1="493.70" y1="289.20" x2="493.70" y2="291.50" stroke="#4a4a4a" stroke-width="0.9" />
<text x="493.70" y="302.05" font-size="7" fill="#222" stroke="#222" stroke-width="0.13" text-anchor="middle">45</text>
<text x="369.20" y="271.70" font-size="6.5" fill="#222" stroke="#222" stroke-width="0.13" text-anchor="middle">*</text>
<text x="387.40" y="263.20" font-size="6.5" fill="#222" stroke="#222" stroke-width="0.13" text-anchor="middle">*</text>
<text x="460.60" y="224.90" font-size="6.5" fill="#222" stroke="#222" stroke-width="0.13" text-anchor="middle">*</text>
<text x="479.20" y="213.40" font-size="6.5" fill="#222" stroke="#222" stroke-width="0.13" text-anchor="middle">*</text>
<text x="497.30" y="204.70" font-size="6.5" fill="#222" stroke="#222" stroke-width="0.13" text-anchor="middle">*</text>
<text x="429.30" y="314.20" font-size="9" fill="#222" stroke="#222" stroke-width="0.13" text-anchor="middle" textLength="91.9" lengthAdjust="spacingAndGlyphs">Days post transduction</text>
<rect x="383.50" y="194.60" width="8.00" height="4.80" fill="#5b4a80" stroke="none" stroke-width="1" />
<text x="394.40" y="199.73" font-size="7.8" fill="#222" stroke="#222" stroke-width="0.13" text-anchor="start" textLength="30.4" lengthAdjust="spacingAndGlyphs">CONTROL</text>
<rect x="436.30" y="195.00" width="8.30" height="4.60" fill="#c05a3a" stroke="none" stroke-width="1" />
<text x="447.90" y="199.93" font-size="7.8" fill="#222" stroke="#222" stroke-width="0.13" text-anchor="start" textLength="18.3" lengthAdjust="spacingAndGlyphs">INKA1</text>
<text x="13.30" y="339.80" font-size="10.5" fill="#222" stroke="#222" stroke-width="0.13" text-anchor="start">H</text>
<text x="87.60" y="350.25" font-size="8.7" fill="#222" stroke="#222" stroke-width="0.13" text-anchor="middle" textLength="34.7" lengthAdjust="spacingAndGlyphs">CONTROL</text>
<text x="170.10" y="350.81" font-size="8.9" fill="#c0503a" stroke="#c0503a" stroke-width="0.13" text-anchor="middle" textLength="20.8" lengthAdjust="spacingAndGlyphs">INKA1</text>
<text transform="translate(37.40,387.70) rotate(-90)" font-size="9" fill="#222" stroke="#222" stroke-width="0.13" text-anchor="middle" textLength="19.5" lengthAdjust="spacingAndGlyphs">2 wks</text>
<path d="M81.4,369.0L84.4,368.7L88.4,368.7L91.2,368.9L94.0,369.5L96.4,370.4L98.9,371.8L100.3,373.0L101.4,374.6L101.6,375.4L101.4,376.6L99.8,379.4L99.5,380.6L101.0,387.0L101.5,391.0L101.6,396.2L101.1,401.0L100.6,403.8L99.5,406.6L98.0,408.5L96.4,409.5L94.8,409.8L92.8,409.3L91.2,408.4L89.7,406.6L88.6,403.8L87.6,397.9L86.8,394.2L86.2,392.6L85.6,391.9L84.4,391.9L79.6,394.0L76.8,394.8L73.6,395.3L70.4,395.2L67.2,394.4L64.8,393.2L63.0,391.4L61.9,389.4L61.5,387.8L61.4,386.6L61.9,383.8L63.3,380.6L65.5,377.8L68.8,374.9L74.0,371.7L77.6,370.0L81.4,369.0Z" fill="#000" fill-opacity="0.055" fill-rule="nonzero" stroke="#111" stroke-opacity="0.9" stroke-width="0.5"/>
<path d="M81.9,369.8L84.4,369.5L87.6,369.4L90.4,369.6L92.8,370.1L95.2,370.9L97.2,371.9L98.8,373.1L99.8,374.6L100.0,375.4L99.9,376.2L98.5,379.0L98.2,380.2L98.4,381.4L99.8,386.2L100.4,390.2L100.6,394.6L100.3,399.0L99.7,402.6L99.0,405.0L97.6,407.0L96.0,408.1L94.4,408.4L92.8,408.0L91.4,407.0L90.2,405.4L89.4,403.0L88.8,398.8L87.5,392.6L87.0,391.0L86.4,390.2L85.6,390.0L85.0,390.2L80.4,392.5L77.2,393.5L74.4,394.0L72.0,394.1L69.2,393.6L66.7,392.6L64.7,391.0L63.5,389.0L63.0,386.6L63.3,383.8L64.6,381.0L66.7,378.2L70.0,375.5L75.2,372.4L78.4,370.8L81.9,369.8Z" fill="#000" fill-opacity="0.055" fill-rule="nonzero" stroke="#111" stroke-opacity="0.9" stroke-width="0.5"/>
<path d="M83.8,370.2L86.0,370.0L88.8,370.1L91.2,370.4L93.2,370.8L95.2,371.6L96.8,372.5L97.8,373.4L98.6,374.6L98.8,375.4L98.7,376.2L97.3,379.0L97.1,380.2L98.7,385.0L99.5,388.6L99.8,392.6L99.7,396.6L99.0,401.8L98.3,404.2L97.2,406.1L95.6,407.2L94.0,407.3L92.8,406.9L91.6,406.0L90.7,404.6L90.2,403.0L89.6,398.6L88.0,390.8L87.6,389.4L86.8,388.6L86.4,388.5L85.6,388.7L81.2,391.2L78.4,392.3L75.6,393.0L72.8,393.2L70.0,392.8L67.5,391.8L65.6,390.2L64.5,388.2L64.1,385.8L64.7,383.0L66.2,380.2L68.4,377.8L72.0,375.2L78.0,371.9L80.8,370.8L83.8,370.2Z" fill="#000" fill-opacity="0.055" fill-rule="nonzero" stroke="#111" stroke-opacity="0.9" stroke-width="0.5"/>
<path d="M83.0,371.0L85.2,370.7L87.6,370.6L92.0,371.2L94.0,371.8L95.5,372.6L96.6,373.4L97.4,374.6L97.6,375.4L97.5,376.2L96.1,378.6L95.8,379.8L96.1,381.0L97.8,385.0L98.5,387.8L99.0,391.4L99.0,395.0L98.3,401.0L97.7,403.4L96.8,405.0L96.0,405.8L95.2,406.2L94.0,406.3L92.8,405.8L91.9,405.0L91.3,403.8L90.9,402.6L90.4,398.6L89.4,393.8L88.5,388.6L88.1,387.4L87.6,386.9L87.2,386.8L86.4,387.0L82.0,389.9L79.2,391.2L76.4,392.0L74.0,392.3L71.2,392.1L68.8,391.3L66.8,389.8L65.6,387.8L65.3,386.6L65.2,385.4L65.8,383.0L67.1,380.6L68.8,378.6L70.8,376.9L73.6,375.2L79.6,372.1L83.0,371.0Z" fill="#000" fill-opacity="0.055" fill-rule="nonzero" stroke="#111" stroke-opacity="0.9" stroke-width="0.5"/>
<path d="M84.9,371.4L88.8,371.3L92.4,372.0L94.0,372.6L95.2,373.4L95.9,374.2L96.3,375.0L96.3,375.8L96.0,376.6L94.1,379.0L93.8,379.8L94.1,380.6L96.0,383.4L97.2,386.2L98.0,389.8L98.2,393.8L97.9,396.6L96.9,402.6L96.0,404.2L94.8,405.0L94.0,405.0L93.1,404.6L92.4,403.8L91.9,402.6L91.4,398.6L89.9,392.2L89.2,385.4L88.8,384.2L88.4,384.0L87.6,384.3L83.6,387.8L80.8,389.6L78.0,390.8L75.6,391.3L72.4,391.3L69.6,390.5L68.4,389.8L67.6,389.0L67.0,388.2L66.5,387.0L66.4,385.0L67.0,382.6L68.5,380.2L70.4,378.2L73.2,376.3L80.7,372.6L82.8,371.8L84.9,371.4Z" fill="#000" fill-opacity="0.055" fill-rule="nonzero" stroke="#111" stroke-opacity="0.9" stroke-width="0.5"/>
<path d="M84.9,372.2L87.2,372.0L89.2,372.1L91.2,372.4L92.8,373.0L94.1,373.8L94.7,374.6L94.8,375.6L94.3,376.6L93.6,377.2L92.4,377.8L88.8,378.5L87.8,379.0L87.3,379.8L86.4,383.0L85.1,385.0L82.8,387.3L80.0,389.1L76.8,390.2L73.6,390.5L72.0,390.3L70.8,389.9L68.9,388.6L68.2,387.8L67.7,386.6L67.5,384.6L68.3,382.2L70.0,379.8L71.8,378.2L74.0,376.9L79.2,374.7L82.4,373.0L84.9,372.2ZM92.0,383.4L92.8,383.1L93.6,383.2L94.4,383.6L95.2,384.5L96.4,387.0L97.1,390.2L97.3,393.4L96.9,396.2L95.6,401.6L95.2,402.4L94.4,402.9L93.7,402.6L93.2,401.8L92.7,398.6L91.3,394.2L90.8,391.4L90.6,388.6L90.8,386.2L91.2,384.6L92.0,383.4Z" fill="#000" fill-opacity="0.055" fill-rule="nonzero" stroke="#111" stroke-opacity="0.9" stroke-width="0.5"/>
<path d="M86.5,373.0L88.8,373.0L90.9,373.4L92.4,374.2L92.7,374.6L92.8,375.4L92.1,376.2L91.2,376.6L87.2,377.1L86.4,377.4L85.8,377.8L85.5,378.6L85.4,381.4L85.0,383.0L84.1,384.6L82.4,386.4L80.8,387.6L79.2,388.5L77.2,389.2L75.6,389.5L74.0,389.5L72.4,389.2L70.9,388.6L69.9,387.8L69.3,387.0L68.9,385.8L68.9,383.8L69.7,381.8L71.6,379.6L73.2,378.4L75.2,377.3L81.2,375.4L84.0,373.7L86.5,373.0ZM92.9,386.6L93.6,386.3L94.0,386.4L94.6,387.0L95.3,388.2L95.8,390.2L96.0,392.2L95.7,394.2L95.2,395.2L94.4,395.8L94.0,395.7L93.2,394.8L92.5,393.4L92.1,391.8L92.0,390.2L92.1,388.6L92.4,387.4L92.9,386.6Z" fill="#000" fill-opacity="0.055" fill-rule="nonzero" stroke="#111" stroke-opacity="0.9" stroke-width="0.5"/>
<path d="M79.7,377.4L81.2,377.5L82.4,378.0L83.2,378.9L83.6,379.8L83.9,381.0L83.8,382.2L83.4,383.4L82.4,384.9L81.2,386.1L80.0,386.9L77.2,388.1L75.6,388.4L74.0,388.3L72.8,388.0L71.6,387.4L70.6,386.2L70.2,384.6L70.5,383.0L71.6,381.1L73.2,379.6L75.2,378.5L77.6,377.7L79.7,377.4Z" fill="#000" fill-opacity="0.055" fill-rule="nonzero" stroke="#111" stroke-opacity="0.9" stroke-width="0.5"/>
<path d="M77.8,379.0L80.0,379.1L80.8,379.5L81.6,380.2L82.0,381.0L82.1,381.8L82.0,382.6L81.4,383.8L80.0,385.4L77.6,386.7L75.2,387.0L74.0,386.8L73.2,386.4L72.4,385.7L72.0,384.6L72.0,383.4L72.6,382.2L73.6,381.0L74.8,380.1L76.4,379.3L77.8,379.0Z" fill="#000" fill-opacity="0.055" fill-rule="nonzero" stroke="#111" stroke-opacity="0.9" stroke-width="0.5"/>
<path d="M76.4,381.4L77.6,381.1L78.4,381.2L79.2,381.8L79.4,382.6L79.1,383.4L78.3,384.2L77.2,384.8L76.0,384.9L75.2,384.6L74.8,384.2L74.6,383.4L75.2,382.2L76.4,381.4Z" fill="#000" fill-opacity="0.055" fill-rule="nonzero" stroke="#111" stroke-opacity="0.9" stroke-width="0.5"/>
<g fill="#333" fill-opacity="0.9"><rect x="57.8" y="371.0" width="0.7" height="0.7"/><rect x="86.5" y="359.1" width="0.7" height="0.7"/><rect x="73.5" y="398.5" width="0.7" height="0.7"/><rect x="82.1" y="399.9" width="0.7" height="0.7"/><rect x="84.2" y="396.4" width="0.7" height="0.7"/><rect x="78.8" y="396.5" width="0.7" height="0.7"/><rect x="102.9" y="390.0" width="0.7" height="0.7"/><rect x="87.8" y="413.7" width="0.7" height="0.7"/><rect x="94.1" y="366.6" width="0.7" height="0.7"/><rect x="98.1" y="362.9" width="0.7" height="0.7"/><rect x="64.4" y="394.5" width="0.7" height="0.7"/><rect x="73.3" y="372.0" width="0.7" height="0.7"/><rect x="88.4" y="407.4" width="0.7" height="0.7"/><rect x="92.8" y="409.7" width="0.7" height="0.7"/><rect x="59.4" y="379.3" width="0.7" height="0.7"/><rect x="94.4" y="366.2" width="0.7" height="0.7"/><rect x="101.0" y="371.5" width="0.7" height="0.7"/><rect x="73.6" y="396.4" width="0.7" height="0.7"/><rect x="98.5" y="367.6" width="0.7" height="0.7"/><rect x="97.8" y="365.7" width="0.7" height="0.7"/><rect x="86.1" y="402.6" width="0.7" height="0.7"/><rect x="98.3" y="370.4" width="0.7" height="0.7"/><rect x="88.7" y="405.8" width="0.7" height="0.7"/><rect x="70.3" y="395.8" width="0.7" height="0.7"/><rect x="92.8" y="368.0" width="0.7" height="0.7"/><rect x="104.1" y="377.6" width="0.7" height="0.7"/><rect x="82.4" y="402.8" width="0.7" height="0.7"/><rect x="103.8" y="376.7" width="0.7" height="0.7"/><rect x="102.3" y="407.8" width="0.7" height="0.7"/><rect x="60.3" y="398.7" width="0.7" height="0.7"/><rect x="72.9" y="363.5" width="0.7" height="0.7"/><rect x="105.2" y="377.8" width="0.7" height="0.7"/><rect x="70.6" y="372.2" width="0.7" height="0.7"/><rect x="89.7" y="415.9" width="0.7" height="0.7"/><rect x="101.1" y="408.0" width="0.7" height="0.7"/><rect x="90.2" y="412.7" width="0.7" height="0.7"/><rect x="64.9" y="397.2" width="0.7" height="0.7"/><rect x="70.6" y="396.5" width="0.7" height="0.7"/><rect x="83.3" y="407.1" width="0.7" height="0.7"/><rect x="102.1" y="407.3" width="0.7" height="0.7"/><rect x="95.4" y="369.6" width="0.7" height="0.7"/><rect x="82.0" y="396.7" width="0.7" height="0.7"/><rect x="90.4" y="416.8" width="0.7" height="0.7"/><rect x="77.2" y="364.7" width="0.7" height="0.7"/><rect x="88.3" y="415.9" width="0.7" height="0.7"/><rect x="100.5" y="408.4" width="0.7" height="0.7"/><rect x="82.1" y="367.9" width="0.7" height="0.7"/><rect x="82.7" y="367.0" width="0.7" height="0.7"/><rect x="92.9" y="365.5" width="0.7" height="0.7"/><rect x="105.2" y="393.9" width="0.7" height="0.7"/><rect x="80.2" y="396.8" width="0.7" height="0.7"/><rect x="98.4" y="368.2" width="0.7" height="0.7"/><rect x="75.1" y="367.1" width="0.7" height="0.7"/><rect x="103.7" y="365.6" width="0.7" height="0.7"/><rect x="106.6" y="370.4" width="0.7" height="0.7"/><rect x="65.6" y="393.7" width="0.7" height="0.7"/><rect x="85.7" y="392.3" width="0.7" height="0.7"/><rect x="61.2" y="387.7" width="0.7" height="0.7"/><rect x="85.0" y="392.0" width="0.7" height="0.7"/><rect x="109.1" y="395.9" width="0.7" height="0.7"/><rect x="101.0" y="383.4" width="0.7" height="0.7"/><rect x="83.2" y="368.1" width="0.7" height="0.7"/><rect x="103.5" y="406.0" width="0.7" height="0.7"/><rect x="86.7" y="366.6" width="0.7" height="0.7"/><rect x="83.7" y="407.9" width="0.7" height="0.7"/><rect x="87.9" y="406.8" width="0.7" height="0.7"/><rect x="102.9" y="390.5" width="0.7" height="0.7"/><rect x="105.2" y="375.5" width="0.7" height="0.7"/><rect x="87.7" y="411.8" width="0.7" height="0.7"/><rect x="75.7" y="369.1" width="0.7" height="0.7"/><rect x="99.2" y="409.4" width="0.7" height="0.7"/><rect x="96.3" y="410.8" width="0.7" height="0.7"/><rect x="102.6" y="409.4" width="0.7" height="0.7"/><rect x="60.2" y="393.1" width="0.7" height="0.7"/><rect x="103.8" y="389.6" width="0.7" height="0.7"/><rect x="78.0" y="395.1" width="0.7" height="0.7"/><rect x="61.8" y="382.2" width="0.7" height="0.7"/><rect x="102.8" y="402.4" width="0.7" height="0.7"/><rect x="71.6" y="369.7" width="0.7" height="0.7"/><rect x="101.4" y="385.4" width="0.7" height="0.7"/><rect x="88.4" y="366.4" width="0.7" height="0.7"/><rect x="65.1" y="374.7" width="0.7" height="0.7"/><rect x="74.1" y="365.8" width="0.7" height="0.7"/><rect x="84.3" y="392.8" width="0.7" height="0.7"/><rect x="78.2" y="369.2" width="0.7" height="0.7"/><rect x="102.4" y="395.1" width="0.7" height="0.7"/><rect x="102.5" y="372.8" width="0.7" height="0.7"/><rect x="102.9" y="368.6" width="0.7" height="0.7"/><rect x="98.5" y="371.0" width="0.7" height="0.7"/><rect x="76.1" y="360.9" width="0.7" height="0.7"/><rect x="92.5" y="359.0" width="0.7" height="0.7"/><rect x="100.6" y="385.6" width="0.7" height="0.7"/><rect x="70.5" y="373.9" width="0.7" height="0.7"/><rect x="64.5" y="376.4" width="0.7" height="0.7"/><rect x="96.5" y="417.7" width="0.7" height="0.7"/><rect x="101.1" y="400.6" width="0.7" height="0.7"/><rect x="61.9" y="393.8" width="0.7" height="0.7"/><rect x="62.5" y="374.0" width="0.7" height="0.7"/><rect x="68.6" y="405.1" width="0.7" height="0.7"/><rect x="91.4" y="368.3" width="0.7" height="0.7"/><rect x="91.0" y="408.4" width="0.7" height="0.7"/><rect x="57.7" y="392.3" width="0.7" height="0.7"/><rect x="70.0" y="400.1" width="0.7" height="0.7"/><rect x="108.6" y="401.7" width="0.7" height="0.7"/><rect x="85.9" y="405.8" width="0.7" height="0.7"/><rect x="100.4" y="405.3" width="0.7" height="0.7"/><rect x="64.7" y="375.9" width="0.7" height="0.7"/><rect x="70.1" y="369.1" width="0.7" height="0.7"/><rect x="67.3" y="367.9" width="0.7" height="0.7"/><rect x="70.0" y="395.5" width="0.7" height="0.7"/><rect x="69.2" y="372.5" width="0.7" height="0.7"/><rect x="104.7" y="371.2" width="0.7" height="0.7"/><rect x="80.6" y="362.1" width="0.7" height="0.7"/><rect x="63.7" y="375.4" width="0.7" height="0.7"/><rect x="94.5" y="411.7" width="0.7" height="0.7"/><rect x="59.5" y="387.7" width="0.7" height="0.7"/><rect x="58.9" y="382.7" width="0.7" height="0.7"/><rect x="101.3" y="399.5" width="0.7" height="0.7"/><rect x="101.6" y="378.9" width="0.7" height="0.7"/><rect x="61.5" y="386.0" width="0.7" height="0.7"/><rect x="109.1" y="372.4" width="0.7" height="0.7"/><rect x="82.3" y="395.3" width="0.7" height="0.7"/><rect x="102.0" y="406.3" width="0.7" height="0.7"/><rect x="67.7" y="375.0" width="0.7" height="0.7"/><rect x="76.7" y="394.9" width="0.7" height="0.7"/><rect x="59.1" y="377.9" width="0.7" height="0.7"/><rect x="78.6" y="395.2" width="0.7" height="0.7"/><rect x="69.8" y="395.2" width="0.7" height="0.7"/><rect x="96.5" y="414.7" width="0.7" height="0.7"/><rect x="97.1" y="367.9" width="0.7" height="0.7"/><rect x="82.1" y="397.2" width="0.7" height="0.7"/><rect x="92.9" y="368.5" width="0.7" height="0.7"/><rect x="75.9" y="401.1" width="0.7" height="0.7"/><rect x="78.1" y="367.2" width="0.7" height="0.7"/><rect x="81.1" y="394.2" width="0.7" height="0.7"/><rect x="105.4" y="392.0" width="0.7" height="0.7"/><rect x="66.1" y="376.6" width="0.7" height="0.7"/><rect x="94.9" y="369.5" width="0.7" height="0.7"/><rect x="94.0" y="410.0" width="0.7" height="0.7"/><rect x="97.2" y="370.6" width="0.7" height="0.7"/><rect x="83.9" y="394.4" width="0.7" height="0.7"/><rect x="89.7" y="408.8" width="0.7" height="0.7"/><rect x="100.2" y="383.3" width="0.7" height="0.7"/><rect x="105.0" y="376.6" width="0.7" height="0.7"/><rect x="101.3" y="371.6" width="0.7" height="0.7"/><rect x="62.9" y="401.1" width="0.7" height="0.7"/><rect x="102.5" y="376.2" width="0.7" height="0.7"/><rect x="72.6" y="397.4" width="0.7" height="0.7"/><rect x="100.5" y="371.8" width="0.7" height="0.7"/><rect x="94.5" y="411.9" width="0.7" height="0.7"/><rect x="79.5" y="367.5" width="0.7" height="0.7"/><rect x="101.8" y="381.0" width="0.7" height="0.7"/><rect x="67.2" y="375.3" width="0.7" height="0.7"/><rect x="95.3" y="412.8" width="0.7" height="0.7"/><rect x="84.5" y="396.8" width="0.7" height="0.7"/><rect x="98.4" y="409.8" width="0.7" height="0.7"/><rect x="68.9" y="395.6" width="0.7" height="0.7"/><rect x="101.2" y="386.7" width="0.7" height="0.7"/><rect x="74.8" y="368.5" width="0.7" height="0.7"/><rect x="92.0" y="368.3" width="0.7" height="0.7"/><rect x="62.8" y="407.1" width="0.7" height="0.7"/><rect x="91.8" y="368.3" width="0.7" height="0.7"/><rect x="102.6" y="378.4" width="0.7" height="0.7"/><rect x="102.5" y="376.0" width="0.7" height="0.7"/><rect x="83.0" y="399.1" width="0.7" height="0.7"/><rect x="101.1" y="412.9" width="0.7" height="0.7"/><rect x="65.8" y="394.3" width="0.7" height="0.7"/><rect x="66.9" y="374.1" width="0.7" height="0.7"/><rect x="79.6" y="366.8" width="0.7" height="0.7"/><rect x="81.2" y="367.2" width="0.7" height="0.7"/><rect x="103.5" y="401.4" width="0.7" height="0.7"/><rect x="101.1" y="400.8" width="0.7" height="0.7"/><rect x="106.9" y="366.9" width="0.7" height="0.7"/><rect x="64.6" y="378.3" width="0.7" height="0.7"/><rect x="96.9" y="415.3" width="0.7" height="0.7"/><rect x="96.8" y="369.2" width="0.7" height="0.7"/><rect x="90.7" y="413.4" width="0.7" height="0.7"/><rect x="76.8" y="368.3" width="0.7" height="0.7"/><rect x="67.4" y="374.5" width="0.7" height="0.7"/><rect x="104.7" y="377.5" width="0.7" height="0.7"/><rect x="79.8" y="365.7" width="0.7" height="0.7"/><rect x="95.3" y="364.2" width="0.7" height="0.7"/><rect x="85.8" y="363.7" width="0.7" height="0.7"/><rect x="101.1" y="377.1" width="0.7" height="0.7"/><rect x="65.5" y="366.9" width="0.7" height="0.7"/><rect x="100.1" y="370.5" width="0.7" height="0.7"/><rect x="70.1" y="395.2" width="0.7" height="0.7"/><rect x="61.9" y="373.6" width="0.7" height="0.7"/><rect x="62.3" y="379.4" width="0.7" height="0.7"/><rect x="87.6" y="411.3" width="0.7" height="0.7"/><rect x="90.0" y="408.3" width="0.7" height="0.7"/><rect x="96.6" y="369.6" width="0.7" height="0.7"/><rect x="65.5" y="406.7" width="0.7" height="0.7"/><rect x="91.9" y="414.6" width="0.7" height="0.7"/><rect x="88.9" y="360.1" width="0.7" height="0.7"/><rect x="69.2" y="396.8" width="0.7" height="0.7"/><rect x="66.3" y="375.3" width="0.7" height="0.7"/><rect x="102.0" y="400.7" width="0.7" height="0.7"/><rect x="63.8" y="392.9" width="0.7" height="0.7"/><rect x="60.9" y="384.6" width="0.7" height="0.7"/><rect x="102.5" y="374.9" width="0.7" height="0.7"/><rect x="59.2" y="383.1" width="0.7" height="0.7"/><rect x="85.0" y="391.7" width="0.7" height="0.7"/><rect x="100.5" y="405.4" width="0.7" height="0.7"/><rect x="76.6" y="396.6" width="0.7" height="0.7"/><rect x="86.6" y="396.6" width="0.7" height="0.7"/><rect x="102.4" y="402.9" width="0.7" height="0.7"/><rect x="72.4" y="397.2" width="0.7" height="0.7"/><rect x="67.1" y="375.5" width="0.7" height="0.7"/><rect x="80.5" y="396.5" width="0.7" height="0.7"/><rect x="62.8" y="396.5" width="0.7" height="0.7"/><rect x="73.2" y="402.6" width="0.7" height="0.7"/><rect x="86.2" y="401.8" width="0.7" height="0.7"/><rect x="102.0" y="384.5" width="0.7" height="0.7"/><rect x="105.7" y="417.1" width="0.7" height="0.7"/><rect x="93.9" y="410.2" width="0.7" height="0.7"/><rect x="59.0" y="374.6" width="0.7" height="0.7"/><rect x="103.7" y="419.9" width="0.7" height="0.7"/><rect x="62.2" y="382.8" width="0.7" height="0.7"/><rect x="100.9" y="379.7" width="0.7" height="0.7"/><rect x="90.7" y="359.2" width="0.7" height="0.7"/><rect x="58.3" y="390.3" width="0.7" height="0.7"/><rect x="71.5" y="396.2" width="0.7" height="0.7"/><rect x="96.3" y="368.8" width="0.7" height="0.7"/><rect x="96.5" y="368.7" width="0.7" height="0.7"/><rect x="62.2" y="397.6" width="0.7" height="0.7"/><rect x="104.6" y="376.6" width="0.7" height="0.7"/><rect x="62.8" y="381.0" width="0.7" height="0.7"/><rect x="64.7" y="367.3" width="0.7" height="0.7"/><rect x="66.5" y="367.7" width="0.7" height="0.7"/><rect x="69.6" y="401.9" width="0.7" height="0.7"/><rect x="75.2" y="368.6" width="0.7" height="0.7"/><rect x="81.8" y="368.7" width="0.7" height="0.7"/><rect x="97.1" y="409.8" width="0.7" height="0.7"/><rect x="81.4" y="366.4" width="0.7" height="0.7"/><rect x="80.9" y="394.2" width="0.7" height="0.7"/><rect x="101.3" y="376.2" width="0.7" height="0.7"/><rect x="61.4" y="394.7" width="0.7" height="0.7"/><rect x="63.7" y="395.1" width="0.7" height="0.7"/><rect x="60.2" y="385.8" width="0.7" height="0.7"/><rect x="85.3" y="365.8" width="0.7" height="0.7"/><rect x="106.2" y="374.7" width="0.7" height="0.7"/><rect x="57.2" y="371.4" width="0.7" height="0.7"/><rect x="79.2" y="368.4" width="0.7" height="0.7"/><rect x="94.5" y="412.7" width="0.7" height="0.7"/><rect x="102.7" y="371.3" width="0.7" height="0.7"/><rect x="63.3" y="393.0" width="0.7" height="0.7"/><rect x="76.4" y="395.3" width="0.7" height="0.7"/><rect x="61.3" y="394.8" width="0.7" height="0.7"/><rect x="61.8" y="395.1" width="0.7" height="0.7"/><rect x="98.2" y="408.4" width="0.7" height="0.7"/><rect x="105.5" y="399.3" width="0.7" height="0.7"/><rect x="101.9" y="400.7" width="0.7" height="0.7"/><rect x="104.8" y="385.3" width="0.7" height="0.7"/><rect x="106.9" y="391.0" width="0.7" height="0.7"/><rect x="92.2" y="409.7" width="0.7" height="0.7"/><rect x="104.5" y="390.9" width="0.7" height="0.7"/><rect x="60.6" y="385.7" width="0.7" height="0.7"/><rect x="74.5" y="361.3" width="0.7" height="0.7"/><rect x="62.9" y="373.0" width="0.7" height="0.7"/><rect x="99.5" y="380.5" width="0.7" height="0.7"/><rect x="100.0" y="407.2" width="0.7" height="0.7"/><rect x="85.2" y="398.7" width="0.7" height="0.7"/><rect x="66.8" y="374.2" width="0.7" height="0.7"/><rect x="90.5" y="366.5" width="0.7" height="0.7"/><rect x="83.3" y="366.7" width="0.7" height="0.7"/><rect x="56.3" y="385.3" width="0.7" height="0.7"/><rect x="102.3" y="407.4" width="0.7" height="0.7"/><rect x="70.7" y="369.9" width="0.7" height="0.7"/><rect x="82.9" y="395.0" width="0.7" height="0.7"/><rect x="90.1" y="415.2" width="0.7" height="0.7"/><rect x="64.0" y="394.9" width="0.7" height="0.7"/><rect x="90.4" y="367.5" width="0.7" height="0.7"/><rect x="84.8" y="397.5" width="0.7" height="0.7"/><rect x="95.4" y="410.4" width="0.7" height="0.7"/><rect x="86.9" y="368.6" width="0.7" height="0.7"/><rect x="95.8" y="368.0" width="0.7" height="0.7"/><rect x="90.5" y="409.5" width="0.7" height="0.7"/><rect x="68.7" y="362.2" width="0.7" height="0.7"/><rect x="66.1" y="373.1" width="0.7" height="0.7"/><rect x="85.3" y="397.2" width="0.7" height="0.7"/><rect x="64.0" y="377.0" width="0.7" height="0.7"/><rect x="108.1" y="379.7" width="0.7" height="0.7"/><rect x="58.8" y="393.8" width="0.7" height="0.7"/><rect x="100.1" y="368.7" width="0.7" height="0.7"/><rect x="61.7" y="384.0" width="0.7" height="0.7"/><rect x="103.1" y="381.7" width="0.7" height="0.7"/><rect x="98.1" y="410.8" width="0.7" height="0.7"/><rect x="101.5" y="374.9" width="0.7" height="0.7"/><rect x="84.1" y="395.0" width="0.7" height="0.7"/><rect x="86.4" y="366.4" width="0.7" height="0.7"/><rect x="91.0" y="410.3" width="0.7" height="0.7"/><rect x="99.8" y="378.9" width="0.7" height="0.7"/><rect x="65.3" y="397.8" width="0.7" height="0.7"/><rect x="80.0" y="368.6" width="0.7" height="0.7"/><rect x="58.6" y="379.4" width="0.7" height="0.7"/><rect x="94.2" y="419.9" width="0.7" height="0.7"/><rect x="98.9" y="369.9" width="0.7" height="0.7"/><rect x="83.6" y="404.5" width="0.7" height="0.7"/><rect x="104.5" y="370.2" width="0.7" height="0.7"/><rect x="66.5" y="394.0" width="0.7" height="0.7"/><rect x="72.7" y="368.3" width="0.7" height="0.7"/><rect x="71.6" y="399.6" width="0.7" height="0.7"/><rect x="90.0" y="410.3" width="0.7" height="0.7"/><rect x="72.6" y="372.4" width="0.7" height="0.7"/><rect x="86.3" y="401.7" width="0.7" height="0.7"/><rect x="64.0" y="369.5" width="0.7" height="0.7"/><rect x="89.2" y="368.2" width="0.7" height="0.7"/><rect x="85.9" y="393.2" width="0.7" height="0.7"/><rect x="61.0" y="380.6" width="0.7" height="0.7"/><rect x="90.0" y="406.9" width="0.7" height="0.7"/><rect x="101.8" y="382.2" width="0.7" height="0.7"/><rect x="93.0" y="412.8" width="0.7" height="0.7"/><rect x="84.6" y="394.4" width="0.7" height="0.7"/><rect x="57.5" y="374.7" width="0.7" height="0.7"/><rect x="71.7" y="372.4" width="0.7" height="0.7"/><rect x="66.7" y="398.5" width="0.7" height="0.7"/><rect x="101.1" y="401.7" width="0.7" height="0.7"/><rect x="88.4" y="405.2" width="0.7" height="0.7"/><rect x="103.6" y="377.6" width="0.7" height="0.7"/><rect x="66.6" y="372.4" width="0.7" height="0.7"/><rect x="102.0" y="375.9" width="0.7" height="0.7"/><rect x="58.1" y="384.0" width="0.7" height="0.7"/><rect x="61.0" y="383.2" width="0.7" height="0.7"/><rect x="66.2" y="370.2" width="0.7" height="0.7"/><rect x="92.7" y="416.8" width="0.7" height="0.7"/><rect x="103.8" y="400.9" width="0.7" height="0.7"/><rect x="102.2" y="371.4" width="0.7" height="0.7"/><rect x="60.4" y="380.6" width="0.7" height="0.7"/><rect x="104.9" y="382.5" width="0.7" height="0.7"/><rect x="62.0" y="390.3" width="0.7" height="0.7"/><rect x="107.3" y="378.6" width="0.7" height="0.7"/><rect x="86.7" y="395.9" width="0.7" height="0.7"/><rect x="70.3" y="397.3" width="0.7" height="0.7"/><rect x="85.3" y="406.9" width="0.7" height="0.7"/><rect x="77.2" y="394.8" width="0.7" height="0.7"/><rect x="57.9" y="392.0" width="0.7" height="0.7"/><rect x="102.9" y="369.7" width="0.7" height="0.7"/><rect x="101.2" y="387.8" width="0.7" height="0.7"/><rect x="61.5" y="387.4" width="0.7" height="0.7"/></g>
<ellipse cx="77" cy="383.3" rx="7" ry="5.3" transform="rotate(-25 77 383.3)" fill="none" stroke="#1a1a1a" stroke-width="1.5"/>
<line x1="55.40" y1="354.30" x2="121.10" y2="354.30" stroke="#a8a8a8" stroke-width="0.8" />
<line x1="121.10" y1="354.30" x2="121.10" y2="421.00" stroke="#a8a8a8" stroke-width="0.8" />
<line x1="55.40" y1="354.30" x2="55.40" y2="421.00" stroke="#666" stroke-width="0.8" />
<line x1="55.40" y1="421.00" x2="121.10" y2="421.00" stroke="#666" stroke-width="0.8" />
<line x1="87.20" y1="354.30" x2="87.20" y2="381.50" stroke="#6e6cb4" stroke-width="0.8" />
<line x1="55.40" y1="382.30" x2="87.20" y2="382.30" stroke="#6e6cb4" stroke-width="0.8" />
<rect x="87.20" y="381.50" width="34.30" height="39.60" fill="none" stroke="#463a8a" stroke-width="1.8" />
<text x="58.00" y="362.07" font-size="6.2" fill="#6a5ea8" stroke="#6a5ea8" stroke-width="0.13" text-anchor="start">38.4</text>
<text x="117.20" y="362.07" font-size="6.2" fill="#6a5ea8" stroke="#6a5ea8" stroke-width="0.13" text-anchor="end">7.61</text>
<text x="58.00" y="418.67" font-size="6.2" fill="#6a5ea8" stroke="#6a5ea8" stroke-width="0.13" text-anchor="start">34.6</text>
<text x="117.20" y="418.67" font-size="6.2" fill="#6a5ea8" stroke="#6a5ea8" stroke-width="0.13" text-anchor="end">19.4</text>
<path d="M170.7,373.4L172.4,373.4L174.4,374.1L176.4,375.4L178.7,377.8L180.6,380.2L182.7,383.8L184.2,387.0L185.7,391.0L187.0,395.4L189.0,403.4L189.7,407.0L189.8,409.4L189.5,412.6L188.7,415.0L187.2,417.0L185.6,418.0L184.4,418.3L182.8,418.2L181.2,417.7L179.6,416.8L176.7,414.2L173.4,409.8L170.7,405.0L168.5,399.8L167.0,394.6L165.7,387.4L165.0,386.2L163.6,385.6L156.8,384.9L152.0,383.6L150.0,382.8L148.0,381.5L147.0,380.6L146.3,379.4L146.3,378.2L147.0,377.0L148.4,376.0L150.8,375.2L153.6,374.8L156.8,374.7L165.6,375.5L167.2,375.1L169.2,374.0L170.7,373.4Z" fill="#000" fill-opacity="0.05" fill-rule="nonzero" stroke="#111" stroke-opacity="0.8" stroke-width="0.45"/>
<path d="M153.0,375.8L155.6,375.5L158.4,375.6L166.4,376.8L168.0,376.6L171.2,375.5L172.8,375.5L174.0,375.9L175.6,376.8L177.2,378.1L178.8,379.8L181.5,383.8L184.1,389.4L185.8,394.6L188.3,404.2L188.9,408.2L188.7,411.4L187.9,413.8L187.2,415.0L186.4,415.8L185.2,416.5L184.0,416.8L182.4,416.6L180.8,416.0L179.2,414.9L177.6,413.4L175.9,411.4L174.2,409.0L171.5,404.2L169.3,399.0L167.8,393.4L166.8,387.0L166.4,385.9L166.0,385.3L165.2,384.8L164.4,384.6L158.8,384.3L154.8,383.6L151.6,382.4L150.0,381.4L149.0,380.6L148.5,379.8L148.3,379.0L148.7,377.8L150.3,376.6L153.0,375.8Z" fill="#000" fill-opacity="0.05" fill-rule="nonzero" stroke="#111" stroke-opacity="0.8" stroke-width="0.45"/>
<path d="M155.7,376.2L160.0,376.4L167.2,377.8L168.4,377.7L171.6,376.9L173.2,377.0L174.8,377.6L176.0,378.4L177.6,379.8L178.8,381.2L181.5,385.4L183.7,390.2L185.0,394.2L187.7,404.6L188.2,407.8L188.1,410.6L187.4,413.0L186.8,414.0L186.0,414.8L184.8,415.5L183.6,415.7L182.4,415.6L180.8,414.9L179.6,414.1L177.9,412.6L176.3,410.6L174.6,408.2L171.9,403.4L169.8,398.2L168.3,392.6L167.5,386.2L167.2,385.3L166.7,384.6L166.0,384.1L165.2,383.9L159.6,383.8L155.6,383.1L152.2,381.8L151.0,381.0L150.2,380.2L149.9,379.4L149.9,378.6L150.8,377.5L152.8,376.6L155.7,376.2Z" fill="#000" fill-opacity="0.05" fill-rule="nonzero" stroke="#111" stroke-opacity="0.8" stroke-width="0.45"/>
<path d="M154.8,377.0L157.6,376.8L160.4,377.1L167.6,379.1L168.8,378.9L171.6,378.3L173.2,378.3L174.8,378.9L176.0,379.6L178.4,382.0L180.9,385.8L183.0,390.2L184.2,393.8L187.0,404.2L187.6,407.4L187.5,410.2L186.8,412.4L185.6,414.0L184.4,414.6L183.2,414.8L181.6,414.4L180.4,413.7L179.0,412.6L177.5,411.0L174.1,406.2L171.5,401.0L169.8,396.2L168.7,391.0L168.2,385.4L167.6,383.8L166.8,383.2L166.0,382.9L161.2,383.2L158.0,383.0L155.6,382.4L153.6,381.6L152.5,381.0L151.7,380.2L151.4,379.0L151.8,378.2L152.4,377.8L154.8,377.0Z" fill="#000" fill-opacity="0.05" fill-rule="nonzero" stroke="#111" stroke-opacity="0.8" stroke-width="0.45"/>
<path d="M155.2,377.8L158.4,377.6L161.9,378.2L164.6,379.4L165.5,380.2L165.8,380.6L165.7,381.0L164.6,381.8L162.0,382.4L159.2,382.4L156.4,381.9L154.3,381.0L153.2,379.8L153.2,379.0L153.5,378.6L155.2,377.8ZM171.0,379.8L172.4,379.6L174.0,379.8L175.2,380.3L176.8,381.5L178.4,383.3L179.9,385.4L181.4,388.2L182.5,390.6L183.7,394.2L186.2,403.4L186.9,407.0L186.9,409.4L186.4,411.4L185.6,412.7L184.4,413.6L183.2,413.8L181.6,413.4L180.0,412.5L178.4,411.0L176.5,408.6L174.7,405.8L172.9,402.6L171.7,399.8L170.3,395.8L169.5,392.2L169.2,389.4L169.0,384.6L168.6,381.8L168.9,381.0L169.4,380.6L171.0,379.8Z" fill="#000" fill-opacity="0.05" fill-rule="nonzero" stroke="#111" stroke-opacity="0.8" stroke-width="0.45"/>
<path d="M156.9,378.6L159.2,378.6L161.1,379.0L162.5,379.8L162.7,380.2L162.7,380.6L162.0,381.2L160.4,381.5L158.5,381.4L157.0,381.0L156.1,380.6L155.4,379.8L155.4,379.4L155.8,379.0L156.9,378.6ZM171.6,381.4L172.8,381.0L174.0,381.1L175.2,381.6L176.8,382.8L178.1,384.2L179.6,386.2L181.8,390.6L183.4,395.4L185.7,403.8L186.3,406.6L186.3,408.6L185.9,410.6L185.2,411.8L184.0,412.6L182.8,412.8L181.6,412.5L180.0,411.5L178.7,410.2L177.1,408.2L175.0,405.0L173.5,402.2L172.2,399.4L170.6,394.2L170.1,391.8L169.9,389.0L170.3,383.4L170.7,382.2L171.6,381.4Z" fill="#000" fill-opacity="0.05" fill-rule="nonzero" stroke="#111" stroke-opacity="0.8" stroke-width="0.45"/>
<path d="M172.5,383.0L173.2,382.7L174.4,382.7L175.6,383.2L176.8,384.1L178.0,385.4L179.2,387.0L181.4,391.4L182.5,394.6L184.9,403.4L185.5,406.2L185.6,408.2L185.3,409.8L184.5,411.0L183.6,411.6L182.4,411.7L181.2,411.2L180.0,410.4L178.8,409.1L176.9,406.6L174.9,403.4L172.6,398.6L171.3,394.2L170.7,389.4L170.8,387.0L171.2,385.0L171.7,383.8L172.5,383.0Z" fill="#000" fill-opacity="0.05" fill-rule="nonzero" stroke="#111" stroke-opacity="0.8" stroke-width="0.45"/>
<path d="M173.4,384.6L174.4,384.4L175.2,384.6L176.0,385.0L177.2,385.9L179.2,388.6L180.9,392.2L181.9,395.0L184.7,405.8L184.8,407.4L184.5,409.0L184.0,409.8L183.2,410.4L182.4,410.5L181.2,410.1L179.1,408.2L175.4,402.6L173.1,397.8L171.9,393.4L171.5,389.4L171.7,387.8L172.1,386.2L172.8,385.1L173.4,384.6Z" fill="#000" fill-opacity="0.05" fill-rule="nonzero" stroke="#111" stroke-opacity="0.8" stroke-width="0.45"/>
<path d="M173.9,386.6L174.4,386.3L175.2,386.3L176.8,387.2L178.4,389.0L180.1,392.2L181.0,395.0L183.7,405.0L183.7,407.4L183.4,408.2L182.8,408.8L182.0,408.9L181.2,408.6L179.6,407.1L176.0,401.9L174.0,398.0L172.9,394.6L172.5,391.0L172.8,388.2L173.2,387.3L173.9,386.6Z" fill="#000" fill-opacity="0.05" fill-rule="nonzero" stroke="#111" stroke-opacity="0.8" stroke-width="0.45"/>
<path d="M175.0,388.6L176.0,388.7L177.2,389.5L178.4,391.1L179.5,393.4L180.3,396.2L182.0,404.0L182.1,405.4L181.6,406.1L181.2,406.1L180.4,405.6L178.8,403.7L176.0,399.8L174.7,397.0L173.9,394.2L173.7,391.4L174.0,389.7L174.4,389.0L175.0,388.6Z" fill="#000" fill-opacity="0.05" fill-rule="nonzero" stroke="#111" stroke-opacity="0.8" stroke-width="0.45"/>
<path d="M175.8,392.2L176.4,392.0L177.2,392.5L178.3,394.6L178.8,397.4L178.8,398.2L178.4,398.9L178.0,398.9L177.2,398.3L176.0,396.3L175.4,393.8L175.6,392.6L175.8,392.2Z" fill="#000" fill-opacity="0.05" fill-rule="nonzero" stroke="#111" stroke-opacity="0.8" stroke-width="0.45"/>
<g fill="#333" fill-opacity="0.7"><rect x="188.9" y="418.2" width="0.7" height="0.7"/><rect x="181.9" y="382.6" width="0.7" height="0.7"/><rect x="190.9" y="414.6" width="0.7" height="0.7"/><rect x="193.7" y="398.9" width="0.7" height="0.7"/><rect x="189.8" y="413.1" width="0.7" height="0.7"/><rect x="153.7" y="384.2" width="0.7" height="0.7"/><rect x="149.4" y="387.0" width="0.7" height="0.7"/><rect x="174.8" y="416.9" width="0.7" height="0.7"/><rect x="186.8" y="394.7" width="0.7" height="0.7"/><rect x="173.5" y="367.9" width="0.7" height="0.7"/><rect x="177.2" y="372.9" width="0.7" height="0.7"/><rect x="173.4" y="411.6" width="0.7" height="0.7"/><rect x="158.4" y="374.2" width="0.7" height="0.7"/><rect x="192.0" y="403.4" width="0.7" height="0.7"/><rect x="191.4" y="412.4" width="0.7" height="0.7"/><rect x="187.8" y="395.9" width="0.7" height="0.7"/><rect x="188.7" y="417.4" width="0.7" height="0.7"/><rect x="164.1" y="375.3" width="0.7" height="0.7"/><rect x="188.8" y="415.2" width="0.7" height="0.7"/><rect x="146.1" y="384.6" width="0.7" height="0.7"/><rect x="161.4" y="389.1" width="0.7" height="0.7"/><rect x="165.0" y="371.1" width="0.7" height="0.7"/><rect x="182.6" y="382.0" width="0.7" height="0.7"/><rect x="143.3" y="377.7" width="0.7" height="0.7"/><rect x="164.1" y="389.7" width="0.7" height="0.7"/></g>
<path d="M172,386 C176,391 179,398 183,408" stroke="#111" stroke-width="1.6" fill="none" stroke-opacity="0.6"/>
<line x1="137.70" y1="354.30" x2="203.00" y2="354.30" stroke="#a8a8a8" stroke-width="0.8" />
<line x1="203.00" y1="354.30" x2="203.00" y2="421.00" stroke="#a8a8a8" stroke-width="0.8" />
<line x1="137.70" y1="354.30" x2="137.70" y2="421.00" stroke="#666" stroke-width="0.8" />
<line x1="137.70" y1="421.00" x2="203.00" y2="421.00" stroke="#666" stroke-width="0.8" />
<line x1="169.70" y1="354.30" x2="169.70" y2="381.80" stroke="#6e6cb4" stroke-width="0.8" />
<line x1="137.70" y1="381.80" x2="169.70" y2="381.80" stroke="#6e6cb4" stroke-width="0.8" />
<rect x="169.70" y="381.50" width="34.00" height="39.70" fill="none" stroke="#463a8a" stroke-width="1.8" />
<text x="140.30" y="362.17" font-size="6.2" fill="#6a5ea8" stroke="#6a5ea8" stroke-width="0.13" text-anchor="start">3.67</text>
<text x="200.00" y="362.17" font-size="6.2" fill="#6a5ea8" stroke="#6a5ea8" stroke-width="0.13" text-anchor="end">1.15</text>
<text x="140.30" y="418.47" font-size="6.2" fill="#6a5ea8" stroke="#6a5ea8" stroke-width="0.13" text-anchor="start">16.7</text>
<text x="200.00" y="418.47" font-size="6.2" fill="#6a5ea8" stroke="#6a5ea8" stroke-width="0.13" text-anchor="end">78.4</text>
<text x="135.40" y="362.31" font-size="6.6" fill="#222" stroke="#222" stroke-width="0.13" text-anchor="end"><tspan>10</tspan><tspan font-size="4.49" dy="-2.51">5</tspan></text>
<text x="135.40" y="373.81" font-size="6.6" fill="#222" stroke="#222" stroke-width="0.13" text-anchor="end"><tspan>10</tspan><tspan font-size="4.49" dy="-2.51">4</tspan></text>
<text x="135.40" y="386.51" font-size="6.6" fill="#222" stroke="#222" stroke-width="0.13" text-anchor="end"><tspan>10</tspan><tspan font-size="4.49" dy="-2.51">3</tspan></text>
<text x="135.40" y="400.81" font-size="6.6" fill="#222" stroke="#222" stroke-width="0.13" text-anchor="end">0</text>
<line x1="136.00" y1="360.00" x2="137.70" y2="360.00" stroke="#666" stroke-width="0.7" />
<line x1="136.00" y1="371.50" x2="137.70" y2="371.50" stroke="#666" stroke-width="0.7" />
<line x1="136.00" y1="384.20" x2="137.70" y2="384.20" stroke="#666" stroke-width="0.7" />
<line x1="136.00" y1="398.50" x2="137.70" y2="398.50" stroke="#666" stroke-width="0.7" />
<path d="M87.6,447.2L91.3,446.9L93.3,447.2L94.9,447.7L96.5,448.5L97.7,449.4L98.6,450.4L99.5,452.0L100.3,454.0L100.7,456.0L101.8,461.6L102.1,464.4L102.1,466.8L101.8,469.2L101.2,471.6L100.4,473.6L99.5,475.2L98.5,476.3L96.5,477.8L94.5,478.3L90.9,478.2L89.3,478.5L87.6,479.2L81.3,482.6L78.5,483.8L76.1,484.3L73.7,484.5L71.7,484.2L69.3,483.3L66.9,481.8L65.2,480.0L63.7,477.6L62.6,474.8L62.2,472.0L62.4,469.2L63.0,466.4L64.2,463.6L65.4,461.6L67.3,459.2L69.7,456.9L72.1,455.1L77.3,451.7L81.3,449.4L84.1,448.2L87.6,447.2Z" fill="#000" fill-opacity="0.085" fill-rule="nonzero" stroke="#222" stroke-opacity="0.4" stroke-width="0.4"/>
<path d="M87.5,448.8L90.9,448.6L93.7,449.2L94.9,449.7L96.1,450.6L97.0,451.6L97.8,452.8L98.7,455.2L99.8,459.6L100.6,464.4L100.6,466.8L100.4,468.8L99.8,470.8L99.1,472.4L97.7,474.4L96.1,475.5L94.5,475.9L90.9,475.9L89.3,476.2L87.3,477.1L80.9,480.9L77.7,482.2L75.7,482.7L73.7,482.7L71.7,482.3L69.7,481.5L67.7,480.0L66.3,478.4L65.3,476.4L64.5,474.0L64.3,471.6L64.6,468.8L65.2,466.4L66.3,464.0L67.6,462.0L69.2,460.0L70.9,458.4L73.3,456.5L81.7,451.0L84.9,449.5L87.5,448.8Z" fill="#000" fill-opacity="0.085" fill-rule="nonzero" stroke="#222" stroke-opacity="0.4" stroke-width="0.4"/>
<path d="M88.5,449.6L91.3,449.6L93.7,450.4L95.7,451.9L97.1,454.0L99.1,460.8L99.7,464.4L99.7,466.4L99.5,468.4L99.1,470.0L98.3,471.6L97.1,473.2L95.7,474.2L94.1,474.5L90.9,474.4L89.3,474.8L87.7,475.6L80.9,479.7L77.7,481.1L75.7,481.6L73.7,481.6L71.7,481.2L70.1,480.5L68.4,479.2L67.1,477.6L66.2,475.6L65.6,473.2L65.5,470.8L65.9,468.4L66.7,466.0L67.9,463.6L69.6,461.2L71.7,459.1L74.1,457.2L79.7,453.3L82.1,451.8L84.5,450.6L86.5,450.0L88.5,449.6Z" fill="#000" fill-opacity="0.085" fill-rule="nonzero" stroke="#222" stroke-opacity="0.4" stroke-width="0.4"/>
<path d="M86.7,450.8L89.7,450.4L92.1,450.8L94.3,452.0L95.7,453.7L96.8,456.4L98.3,461.2L98.8,463.6L98.9,465.6L98.8,467.2L98.5,468.8L97.8,470.4L96.9,471.8L95.7,472.7L94.1,473.2L90.9,473.1L89.3,473.5L80.9,478.7L77.7,480.2L75.7,480.7L74.1,480.7L72.5,480.5L70.9,479.8L69.3,478.7L68.1,477.2L67.2,475.6L66.7,473.6L66.5,471.6L66.8,469.2L67.5,466.8L68.4,464.8L70.6,461.6L74.1,458.4L82.1,452.8L84.5,451.5L86.7,450.8Z" fill="#000" fill-opacity="0.085" fill-rule="nonzero" stroke="#222" stroke-opacity="0.4" stroke-width="0.4"/>
<path d="M87.0,451.6L89.3,451.3L91.7,451.8L93.5,452.8L94.8,454.4L97.3,461.5L97.9,464.0L98.0,465.6L97.9,467.2L97.0,469.6L96.1,470.8L94.9,471.5L93.7,471.8L90.9,471.7L89.3,472.1L81.3,477.4L77.7,479.2L76.1,479.7L74.5,479.8L72.9,479.6L71.3,478.9L70.0,478.0L68.9,476.7L68.1,475.2L67.6,473.2L67.5,471.2L67.8,469.2L68.4,467.2L69.5,464.8L71.7,461.8L74.9,459.0L82.9,453.3L84.9,452.3L87.0,451.6Z" fill="#000" fill-opacity="0.085" fill-rule="nonzero" stroke="#222" stroke-opacity="0.4" stroke-width="0.4"/>
<path d="M87.7,452.4L89.7,452.4L91.3,452.8L92.6,453.6L93.8,455.2L96.4,462.4L96.8,464.0L96.9,466.4L96.6,467.6L96.1,468.6L95.3,469.5L94.5,470.0L93.3,470.1L90.9,470.0L89.3,470.6L82.9,475.3L79.7,477.3L77.7,478.2L76.1,478.7L74.5,478.8L72.9,478.6L71.7,478.0L70.5,477.1L69.4,475.6L68.8,474.0L68.6,472.4L68.6,470.4L69.0,468.4L69.8,466.4L70.6,464.8L72.8,462.0L76.1,459.2L83.7,453.9L85.7,452.9L87.7,452.4Z" fill="#000" fill-opacity="0.085" fill-rule="nonzero" stroke="#222" stroke-opacity="0.4" stroke-width="0.4"/>
<path d="M87.0,453.6L88.5,453.4L90.1,453.7L91.3,454.3L92.1,455.2L92.8,456.8L93.5,460.4L95.1,464.0L95.3,465.6L94.9,466.8L94.5,467.3L93.7,467.7L91.3,467.7L90.1,468.1L84.1,473.3L80.9,475.5L78.1,477.0L76.5,477.6L74.9,477.8L73.3,477.5L72.1,477.0L71.0,476.0L70.2,474.8L69.8,473.6L69.6,472.0L69.7,470.4L70.0,468.8L70.7,466.8L71.6,465.2L73.4,462.8L76.1,460.4L83.7,455.0L85.3,454.2L87.0,453.6Z" fill="#000" fill-opacity="0.085" fill-rule="nonzero" stroke="#222" stroke-opacity="0.4" stroke-width="0.4"/>
<path d="M86.1,455.2L87.7,454.9L89.3,455.2L90.3,456.0L90.8,457.2L90.7,459.2L89.4,464.4L88.7,466.4L87.8,468.0L86.2,470.0L84.5,471.7L82.1,473.5L79.3,475.2L77.3,476.2L75.7,476.6L74.1,476.5L72.9,476.0L71.9,475.2L71.3,474.2L70.9,473.1L70.7,471.6L71.1,468.8L72.6,465.6L74.1,463.6L76.5,461.4L83.8,456.4L86.1,455.2Z" fill="#000" fill-opacity="0.085" fill-rule="nonzero" stroke="#222" stroke-opacity="0.4" stroke-width="0.4"/>
<path d="M85.7,457.6L87.1,457.6L87.5,458.0L87.7,458.8L87.0,465.6L86.4,467.2L85.5,468.8L84.2,470.4L82.8,471.6L80.9,473.0L78.5,474.3L76.9,474.9L75.7,475.2L74.5,475.0L73.7,474.7L72.9,474.0L72.5,473.2L72.1,472.0L72.1,470.8L72.7,468.0L74.0,465.6L75.7,463.6L77.7,462.0L83.7,458.5L85.7,457.6Z" fill="#000" fill-opacity="0.085" fill-rule="nonzero" stroke="#222" stroke-opacity="0.4" stroke-width="0.4"/>
<path d="M80.9,462.0L82.1,461.7L83.3,461.7L84.0,462.0L84.5,462.6L84.9,463.6L85.0,465.2L84.7,466.8L84.2,468.0L83.4,469.2L82.1,470.4L79.3,472.3L77.7,472.9L76.5,473.2L75.7,473.2L74.9,472.9L74.1,471.8L73.9,470.4L74.1,468.8L74.9,466.8L76.1,465.2L77.3,464.0L78.9,462.9L80.9,462.0Z" fill="#000" fill-opacity="0.085" fill-rule="nonzero" stroke="#222" stroke-opacity="0.4" stroke-width="0.4"/>
<path d="M79.5,465.2L80.5,464.9L81.6,465.2L82.1,466.0L81.9,467.2L81.2,468.4L80.1,469.3L78.9,469.9L77.7,470.0L77.3,469.8L76.9,469.2L77.0,468.0L77.9,466.4L79.5,465.2Z" fill="#000" fill-opacity="0.085" fill-rule="nonzero" stroke="#222" stroke-opacity="0.4" stroke-width="0.4"/>
<ellipse cx="81.2" cy="466.2" rx="1.6" ry="1.1" fill="#fff" fill-opacity="0.9"/>
<rect x="73.00" y="453.50" width="1.00" height="1.00" fill="#222" stroke="none" stroke-width="1" />
<rect x="64.00" y="467.00" width="1.00" height="1.00" fill="#222" stroke="none" stroke-width="1" />
<rect x="64.50" y="470.00" width="1.00" height="1.00" fill="#222" stroke="none" stroke-width="1" />
<rect x="77.80" y="486.50" width="1.00" height="1.00" fill="#222" stroke="none" stroke-width="1" />
<rect x="95.00" y="474.00" width="1.00" height="1.00" fill="#222" stroke="none" stroke-width="1" />
<rect x="95.50" y="480.00" width="1.00" height="1.00" fill="#222" stroke="none" stroke-width="1" />
<rect x="98.00" y="488.00" width="1.00" height="1.00" fill="#222" stroke="none" stroke-width="1" />
<rect x="108.00" y="469.00" width="1.00" height="1.00" fill="#222" stroke="none" stroke-width="1" />
<rect x="96.00" y="508.00" width="8.00" height="3.00" fill="#bbb" stroke="none" stroke-width="1" />
<line x1="54.20" y1="442.90" x2="119.20" y2="442.90" stroke="#a8a8a8" stroke-width="0.8" />
<line x1="119.20" y1="442.90" x2="119.20" y2="512.00" stroke="#a8a8a8" stroke-width="0.8" />
<line x1="54.20" y1="442.90" x2="54.20" y2="512.00" stroke="#666" stroke-width="0.8" />
<line x1="54.20" y1="512.00" x2="119.20" y2="512.00" stroke="#666" stroke-width="0.8" />
<line x1="89.20" y1="442.90" x2="89.20" y2="464.40" stroke="#555" stroke-width="0.8" />
<line x1="54.20" y1="464.20" x2="89.20" y2="464.20" stroke="#555" stroke-width="0.8" />
<rect x="89.20" y="464.20" width="31.60" height="47.80" fill="none" stroke="#463a8a" stroke-width="1.8" />
<text x="56.50" y="451.37" font-size="6.2" fill="#6a5ea8" stroke="#6a5ea8" stroke-width="0.13" text-anchor="start">27.0</text>
<text x="113.30" y="451.37" font-size="6.2" fill="#6a5ea8" stroke="#6a5ea8" stroke-width="0.13" text-anchor="end">7.57</text>
<text x="56.50" y="506.77" font-size="6.2" fill="#6a5ea8" stroke="#6a5ea8" stroke-width="0.13" text-anchor="start">53.3</text>
<text x="112.30" y="506.77" font-size="6.2" fill="#6a5ea8" stroke="#6a5ea8" stroke-width="0.13" text-anchor="end">12.2</text>
<text x="51.70" y="459.21" font-size="6.6" fill="#222" stroke="#222" stroke-width="0.13" text-anchor="end"><tspan>10</tspan><tspan font-size="4.49" dy="-2.51">5</tspan></text>
<text x="51.70" y="472.31" font-size="6.6" fill="#222" stroke="#222" stroke-width="0.13" text-anchor="end"><tspan>10</tspan><tspan font-size="4.49" dy="-2.51">4</tspan></text>
<text x="51.70" y="486.11" font-size="6.6" fill="#222" stroke="#222" stroke-width="0.13" text-anchor="end"><tspan>10</tspan><tspan font-size="4.49" dy="-2.51">3</tspan></text>
<text x="51.70" y="499.61" font-size="6.6" fill="#222" stroke="#222" stroke-width="0.13" text-anchor="end"><tspan>10</tspan><tspan font-size="4.49" dy="-2.51">2</tspan></text>
<text x="51.70" y="508.81" font-size="6.6" fill="#222" stroke="#222" stroke-width="0.13" text-anchor="end">0</text>
<line x1="52.50" y1="456.90" x2="54.20" y2="456.90" stroke="#666" stroke-width="0.7" />
<line x1="52.50" y1="470.00" x2="54.20" y2="470.00" stroke="#666" stroke-width="0.7" />
<line x1="52.50" y1="483.80" x2="54.20" y2="483.80" stroke="#666" stroke-width="0.7" />
<line x1="52.50" y1="497.30" x2="54.20" y2="497.30" stroke="#666" stroke-width="0.7" />
<line x1="52.50" y1="506.50" x2="54.20" y2="506.50" stroke="#666" stroke-width="0.7" />
<text transform="translate(56.00,523.65) scale(0.85,1)" font-size="7" fill="#222" stroke="#222" stroke-width="0.13" text-anchor="middle"><tspan>10</tspan><tspan font-size="4.76" dy="-2.66">1</tspan></text>
<text transform="translate(66.30,523.65) scale(0.85,1)" font-size="7" fill="#222" stroke="#222" stroke-width="0.13" text-anchor="middle"><tspan>10</tspan><tspan font-size="4.76" dy="-2.66">2</tspan></text>
<text transform="translate(77.40,523.65) scale(0.85,1)" font-size="7" fill="#222" stroke="#222" stroke-width="0.13" text-anchor="middle"><tspan>10</tspan><tspan font-size="4.76" dy="-2.66">3</tspan></text>
<text transform="translate(88.20,523.65) scale(0.85,1)" font-size="7" fill="#222" stroke="#222" stroke-width="0.13" text-anchor="middle"><tspan>10</tspan><tspan font-size="4.76" dy="-2.66">4</tspan></text>
<text transform="translate(99.10,523.65) scale(0.85,1)" font-size="7" fill="#222" stroke="#222" stroke-width="0.13" text-anchor="middle"><tspan>10</tspan><tspan font-size="4.76" dy="-2.66">5</tspan></text>
<text transform="translate(110.30,523.65) scale(0.85,1)" font-size="7" fill="#222" stroke="#222" stroke-width="0.13" text-anchor="middle"><tspan>10</tspan><tspan font-size="4.76" dy="-2.66">6</tspan></text>
<path d="M166.7,451.2L169.8,451.3L172.6,451.7L175.0,452.5L177.4,453.7L179.4,455.2L180.9,456.8L181.9,458.4L182.9,460.8L185.2,467.2L186.8,472.8L187.7,478.0L188.1,483.6L187.9,488.4L187.2,492.0L186.5,493.6L185.8,494.8L185.0,495.7L183.8,496.5L182.6,496.8L181.4,496.6L180.2,496.0L179.0,494.8L177.5,492.0L175.8,486.4L175.4,485.6L174.6,484.6L173.8,484.3L173.0,484.4L169.4,485.7L167.0,486.2L164.6,486.1L162.2,485.5L159.8,484.2L157.8,482.4L156.1,480.0L154.8,477.2L153.6,472.8L153.1,468.0L153.5,462.4L153.9,460.0L154.5,458.4L155.4,456.8L156.3,455.6L157.6,454.4L159.0,453.5L160.6,452.6L162.6,451.9L164.6,451.4L166.7,451.2ZM172.2,512.0L171.7,511.2L171.9,510.4L172.6,509.7L173.4,509.2L176.6,508.3L180.2,508.0L184.2,508.5L187.0,509.4L187.8,510.0L188.3,510.8L188.1,511.6L187.8,512.0Z" fill="#000" fill-opacity="0.075" fill-rule="nonzero" stroke="#222" stroke-opacity="0.4" stroke-width="0.4"/>
<path d="M165.7,452.8L168.6,452.7L171.8,453.1L174.6,454.1L177.0,455.5L178.6,457.0L179.8,458.8L183.1,466.0L184.8,470.8L185.9,475.2L186.5,479.2L186.8,484.4L186.6,488.0L186.0,491.2L185.0,493.2L184.2,494.0L183.4,494.6L182.6,494.8L181.4,494.6L180.2,493.9L179.4,492.9L178.2,490.4L176.6,484.3L175.8,482.7L175.0,481.9L174.2,481.7L173.4,481.8L170.2,483.4L167.8,484.2L165.8,484.3L163.8,484.0L161.4,483.0L159.6,481.6L158.0,479.6L156.8,477.2L155.6,473.2L155.0,468.4L155.2,464.0L156.1,459.6L157.4,457.2L159.4,455.2L162.2,453.7L165.7,452.8ZM174.5,512.0L174.0,511.6L173.8,510.8L174.6,509.9L177.0,509.1L180.2,508.8L183.0,509.1L185.4,509.9L186.2,510.8L186.0,511.6L185.5,512.0Z" fill="#000" fill-opacity="0.075" fill-rule="nonzero" stroke="#222" stroke-opacity="0.4" stroke-width="0.4"/>
<path d="M166.5,453.6L169.4,453.6L172.2,454.2L174.6,455.2L176.6,456.6L177.9,458.0L178.9,459.6L183.0,468.4L184.4,472.4L185.3,476.0L185.8,480.0L186.0,485.2L185.8,488.4L185.2,490.8L184.2,492.5L183.0,493.4L182.2,493.5L181.4,493.3L180.6,492.8L179.6,491.6L178.8,489.6L177.0,482.8L176.2,481.1L175.4,480.2L174.6,480.0L173.8,480.1L170.2,482.2L168.2,482.9L166.6,483.2L164.6,483.0L162.6,482.3L160.6,481.0L159.1,479.2L157.8,476.8L156.6,472.8L156.1,468.4L156.4,464.0L157.2,460.0L158.5,457.6L159.4,456.6L160.6,455.6L163.4,454.2L166.5,453.6ZM176.1,512.0L175.2,511.2L175.2,510.8L175.8,510.2L177.8,509.5L180.2,509.3L182.8,509.6L184.5,510.4L184.8,510.8L184.8,511.2L183.9,512.0Z" fill="#000" fill-opacity="0.075" fill-rule="nonzero" stroke="#222" stroke-opacity="0.4" stroke-width="0.4"/>
<path d="M166.5,454.4L169.0,454.4L171.8,454.9L173.8,455.8L175.8,457.2L176.8,458.4L177.6,459.6L182.3,469.2L183.6,472.4L184.4,475.6L184.9,479.2L185.2,483.6L185.2,486.8L184.8,489.2L184.2,490.8L183.0,492.1L182.2,492.3L181.4,492.1L180.6,491.4L180.0,490.4L179.3,488.4L177.8,482.3L176.8,480.0L175.8,478.6L175.0,478.3L174.2,478.4L169.4,481.4L167.4,482.0L165.4,482.1L163.4,481.5L161.5,480.4L160.0,478.8L158.8,476.8L157.7,473.2L157.1,468.8L157.3,464.8L158.2,460.4L159.4,458.1L161.1,456.4L163.4,455.1L166.5,454.4ZM178.3,512.0L177.2,511.6L176.8,511.2L176.8,510.8L177.2,510.4L178.2,510.0L180.2,509.8L182.2,510.2L183.2,510.8L183.2,511.2L182.8,511.6L181.7,512.0Z" fill="#000" fill-opacity="0.075" fill-rule="nonzero" stroke="#222" stroke-opacity="0.4" stroke-width="0.4"/>
<path d="M166.4,455.2L168.6,455.1L171.0,455.5L173.1,456.4L175.0,457.8L176.6,460.0L178.6,464.6L181.8,470.4L182.9,473.2L183.7,476.0L184.1,478.8L184.3,482.8L184.4,486.0L184.2,488.0L183.4,490.0L182.6,490.7L181.8,490.7L181.4,490.5L180.4,489.2L179.9,487.6L179.0,483.2L178.2,480.8L177.0,477.9L176.1,476.8L175.4,476.5L174.6,476.6L169.8,480.1L167.8,480.9L166.2,481.1L164.2,480.7L162.6,479.9L161.0,478.4L159.7,476.4L158.5,472.8L158.0,468.8L158.3,464.8L159.1,460.8L160.2,458.6L161.8,457.0L163.8,455.9L166.4,455.2Z" fill="#000" fill-opacity="0.075" fill-rule="nonzero" stroke="#222" stroke-opacity="0.4" stroke-width="0.4"/>
<path d="M166.6,456.0L168.6,455.9L170.9,456.4L172.7,457.2L174.2,458.5L175.7,460.8L178.2,467.1L181.4,472.5L182.6,476.0L183.2,480.0L183.2,486.4L183.0,487.6L182.6,488.3L182.2,488.5L181.8,488.4L181.4,488.0L181.1,487.2L180.1,482.8L178.4,478.0L177.4,475.5L176.6,474.5L175.8,474.3L175.0,474.6L170.2,478.7L168.6,479.5L167.0,479.9L165.0,479.8L163.4,479.2L161.8,477.8L160.6,476.0L159.5,472.8L159.0,469.2L159.1,465.6L159.9,461.6L160.8,459.6L162.2,457.9L164.2,456.6L166.6,456.0Z" fill="#000" fill-opacity="0.075" fill-rule="nonzero" stroke="#222" stroke-opacity="0.4" stroke-width="0.4"/>
<path d="M167.7,456.8L169.4,456.9L171.0,457.4L172.6,458.4L173.7,459.6L174.6,461.2L175.5,464.0L176.3,467.2L176.4,469.2L176.1,470.4L175.7,471.2L171.0,476.6L169.8,477.6L168.6,478.3L167.4,478.7L166.2,478.8L165.0,478.6L163.7,478.0L162.6,477.1L161.6,475.6L160.7,473.6L160.2,471.6L159.9,469.2L159.9,467.2L160.2,464.8L160.8,462.4L161.4,460.8L162.2,459.4L163.1,458.4L164.6,457.5L166.2,457.0L167.7,456.8Z" fill="#000" fill-opacity="0.075" fill-rule="nonzero" stroke="#222" stroke-opacity="0.4" stroke-width="0.4"/>
<path d="M166.4,458.0L167.8,457.8L169.4,458.0L171.0,458.7L172.2,459.7L173.0,460.8L173.8,462.8L174.5,465.6L174.7,467.6L174.5,469.2L173.9,470.8L172.7,472.8L171.5,474.4L170.2,475.8L169.0,476.7L167.8,477.3L166.6,477.5L165.4,477.3L164.2,476.8L163.4,476.1L162.6,475.1L161.9,473.6L161.4,472.0L160.9,468.4L161.4,464.5L162.6,461.0L163.4,459.8L164.2,459.0L165.2,458.4L166.4,458.0Z" fill="#000" fill-opacity="0.075" fill-rule="nonzero" stroke="#222" stroke-opacity="0.4" stroke-width="0.4"/>
<path d="M167.1,459.2L168.2,459.2L169.4,459.4L170.4,460.0L171.4,461.0L172.2,462.4L172.7,464.0L173.1,466.0L173.2,467.6L173.0,469.2L172.6,470.4L170.9,473.2L169.8,474.4L168.8,475.2L167.8,475.7L166.6,475.9L165.0,475.5L164.2,474.8L163.4,473.8L162.4,471.2L162.1,468.0L162.6,464.8L163.8,461.6L165.2,460.0L166.2,459.4L167.1,459.2Z" fill="#000" fill-opacity="0.075" fill-rule="nonzero" stroke="#222" stroke-opacity="0.4" stroke-width="0.4"/>
<path d="M167.3,461.2L168.2,461.2L169.0,461.5L170.2,462.6L171.4,465.2L171.6,467.6L171.1,470.0L169.9,472.0L168.2,473.5L167.4,473.8L166.6,473.8L165.4,473.4L164.3,472.0L163.6,470.0L163.5,468.0L163.9,465.6L164.9,463.2L166.2,461.7L167.3,461.2Z" fill="#000" fill-opacity="0.075" fill-rule="nonzero" stroke="#222" stroke-opacity="0.4" stroke-width="0.4"/>
<path d="M166.9,465.2L167.8,465.0L168.6,465.4L169.0,466.0L169.4,467.2L169.3,468.4L169.0,469.3L168.2,470.3L167.4,470.7L166.6,470.5L166.2,470.1L165.8,469.4L165.6,468.4L165.8,466.8L166.2,466.0L166.9,465.2Z" fill="#000" fill-opacity="0.075" fill-rule="nonzero" stroke="#222" stroke-opacity="0.4" stroke-width="0.4"/>
<path d="M174.5,461.5 A7.5,7.5 0 1 0 172.5,473.5" fill="none" stroke="#1a1a1a" stroke-width="1.5"/>
<path d="M174,511 C176,507 182,507 186,509 L190,511 Z" fill="#222"/>
<rect x="190.00" y="508.00" width="10.00" height="3.00" fill="#bbb" stroke="none" stroke-width="1" />
<rect x="156.00" y="454.00" width="1.00" height="1.00" fill="#222" stroke="none" stroke-width="1" />
<rect x="166.00" y="451.00" width="1.00" height="1.00" fill="#222" stroke="none" stroke-width="1" />
<rect x="144.00" y="465.00" width="1.00" height="1.00" fill="#222" stroke="none" stroke-width="1" />
<rect x="158.00" y="481.00" width="1.00" height="1.00" fill="#222" stroke="none" stroke-width="1" />
<rect x="183.00" y="495.00" width="1.00" height="1.00" fill="#222" stroke="none" stroke-width="1" />
<rect x="186.00" y="499.00" width="1.00" height="1.00" fill="#222" stroke="none" stroke-width="1" />
<rect x="187.00" y="502.00" width="1.00" height="1.00" fill="#222" stroke="none" stroke-width="1" />
<rect x="193.00" y="462.00" width="1.00" height="1.00" fill="#222" stroke="none" stroke-width="1" />
<rect x="177.00" y="448.00" width="1.00" height="1.00" fill="#222" stroke="none" stroke-width="1" />
<rect x="179.00" y="447.00" width="1.00" height="1.00" fill="#222" stroke="none" stroke-width="1" />
<line x1="137.50" y1="442.50" x2="202.30" y2="442.50" stroke="#a8a8a8" stroke-width="0.8" />
<line x1="202.30" y1="442.50" x2="202.30" y2="512.00" stroke="#a8a8a8" stroke-width="0.8" />
<line x1="137.50" y1="442.50" x2="137.50" y2="512.00" stroke="#666" stroke-width="0.8" />
<line x1="137.50" y1="512.00" x2="202.30" y2="512.00" stroke="#666" stroke-width="0.8" />
<line x1="172.50" y1="442.50" x2="172.50" y2="464.40" stroke="#555" stroke-width="0.8" />
<line x1="137.50" y1="464.00" x2="172.50" y2="464.00" stroke="#555" stroke-width="0.8" />
<rect x="172.30" y="464.20" width="31.50" height="47.80" fill="none" stroke="#463a8a" stroke-width="1.8" />
<text x="139.40" y="451.37" font-size="6.2" fill="#6a5ea8" stroke="#6a5ea8" stroke-width="0.13" text-anchor="start">11.4</text>
<text x="195.20" y="451.37" font-size="6.2" fill="#6a5ea8" stroke="#6a5ea8" stroke-width="0.13" text-anchor="end">5.65</text>
<text x="139.40" y="506.77" font-size="6.2" fill="#6a5ea8" stroke="#6a5ea8" stroke-width="0.13" text-anchor="start">34.1</text>
<text x="194.20" y="506.77" font-size="6.2" fill="#6a5ea8" stroke="#6a5ea8" stroke-width="0.13" text-anchor="end">48.9</text>
<text x="134.00" y="459.21" font-size="6.6" fill="#222" stroke="#222" stroke-width="0.13" text-anchor="end"><tspan>10</tspan><tspan font-size="4.49" dy="-2.51">5</tspan></text>
<text x="134.00" y="472.31" font-size="6.6" fill="#222" stroke="#222" stroke-width="0.13" text-anchor="end"><tspan>10</tspan><tspan font-size="4.49" dy="-2.51">4</tspan></text>
<text x="134.00" y="486.11" font-size="6.6" fill="#222" stroke="#222" stroke-width="0.13" text-anchor="end"><tspan>10</tspan><tspan font-size="4.49" dy="-2.51">3</tspan></text>
<text x="134.00" y="499.61" font-size="6.6" fill="#222" stroke="#222" stroke-width="0.13" text-anchor="end"><tspan>10</tspan><tspan font-size="4.49" dy="-2.51">2</tspan></text>
<text x="134.00" y="508.81" font-size="6.6" fill="#222" stroke="#222" stroke-width="0.13" text-anchor="end">0</text>
<line x1="135.80" y1="456.90" x2="137.50" y2="456.90" stroke="#666" stroke-width="0.7" />
<line x1="135.80" y1="470.00" x2="137.50" y2="470.00" stroke="#666" stroke-width="0.7" />
<line x1="135.80" y1="483.80" x2="137.50" y2="483.80" stroke="#666" stroke-width="0.7" />
<line x1="135.80" y1="497.30" x2="137.50" y2="497.30" stroke="#666" stroke-width="0.7" />
<line x1="135.80" y1="506.50" x2="137.50" y2="506.50" stroke="#666" stroke-width="0.7" />
<text transform="translate(139.30,523.65) scale(0.85,1)" font-size="7" fill="#222" stroke="#222" stroke-width="0.13" text-anchor="middle"><tspan>10</tspan><tspan font-size="4.76" dy="-2.66">1</tspan></text>
<text transform="translate(149.60,523.65) scale(0.85,1)" font-size="7" fill="#222" stroke="#222" stroke-width="0.13" text-anchor="middle"><tspan>10</tspan><tspan font-size="4.76" dy="-2.66">2</tspan></text>
<text transform="translate(160.70,523.65) scale(0.85,1)" font-size="7" fill="#222" stroke="#222" stroke-width="0.13" text-anchor="middle"><tspan>10</tspan><tspan font-size="4.76" dy="-2.66">3</tspan></text>
<text transform="translate(171.50,523.65) scale(0.85,1)" font-size="7" fill="#222" stroke="#222" stroke-width="0.13" text-anchor="middle"><tspan>10</tspan><tspan font-size="4.76" dy="-2.66">4</tspan></text>
<text transform="translate(182.40,523.65) scale(0.85,1)" font-size="7" fill="#222" stroke="#222" stroke-width="0.13" text-anchor="middle"><tspan>10</tspan><tspan font-size="4.76" dy="-2.66">5</tspan></text>
<text transform="translate(193.60,523.65) scale(0.85,1)" font-size="7" fill="#222" stroke="#222" stroke-width="0.13" text-anchor="middle"><tspan>10</tspan><tspan font-size="4.76" dy="-2.66">6</tspan></text>
<line x1="33.70" y1="486.00" x2="33.70" y2="530.00" stroke="#111" stroke-width="1.1" />
<line x1="33.70" y1="530.00" x2="68.00" y2="530.00" stroke="#111" stroke-width="1.1" />
<path d="M33.7,482.3 L30.500000000000004,490.3 L33.7,488.3 L36.900000000000006,490.3 Z" fill="#111"/>
<path d="M72.3,530 L63.8,527.0 L65.925,530 L63.8,533.0 Z" fill="#111"/>
<text transform="translate(37.50,470.40) rotate(-90)" font-size="9" fill="#222" stroke="#222" stroke-width="0.13" text-anchor="middle" textLength="20" lengthAdjust="spacingAndGlyphs">6 wks</text>
<text transform="translate(28.30,509.70) rotate(-90)" font-size="8.6" fill="#222" stroke="#222" stroke-width="0.13" text-anchor="middle" textLength="19.8" lengthAdjust="spacingAndGlyphs">CD38</text>
<text x="39.40" y="541.30" font-size="8.6" fill="#222" stroke="#222" stroke-width="0.13" text-anchor="start" textLength="18.7" lengthAdjust="spacingAndGlyphs">CD34</text>
<rect x="213.9" y="331.8" width="1.5" height="7.5" fill="#111"/>
<text transform="translate(223.00,385.50) rotate(-90)" font-size="10.0" fill="#222" stroke="#222" stroke-width="0.13" text-anchor="middle" textLength="43" lengthAdjust="spacingAndGlyphs">Cell counts</text>
<polyline points="254.00,416.70 279.13,421.50 300.67,418.10 332.98,409.40" fill="none" stroke="#c8532e" stroke-width="1.2"/>
<rect x="252.50" y="415.20" width="3.00" height="3.00" fill="#c8532e" stroke="none" stroke-width="1" />
<rect x="277.63" y="420.00" width="3.00" height="3.00" fill="#c8532e" stroke="none" stroke-width="1" />
<rect x="299.17" y="416.60" width="3.00" height="3.00" fill="#c8532e" stroke="none" stroke-width="1" />
<rect x="331.48" y="407.90" width="3.00" height="3.00" fill="#c8532e" stroke="none" stroke-width="1" />
<polyline points="254.00,419.60 279.13,421.50 300.67,419.60 332.98,415.80" fill="none" stroke="#c8532e" stroke-width="1.2"/>
<rect x="252.50" y="418.10" width="3.00" height="3.00" fill="#c8532e" stroke="none" stroke-width="1" />
<rect x="277.63" y="420.00" width="3.00" height="3.00" fill="#c8532e" stroke="none" stroke-width="1" />
<rect x="299.17" y="418.10" width="3.00" height="3.00" fill="#c8532e" stroke="none" stroke-width="1" />
<rect x="331.48" y="414.30" width="3.00" height="3.00" fill="#c8532e" stroke="none" stroke-width="1" />
<polyline points="254.00,421.20 279.13,421.50 300.67,421.20 332.98,421.20" fill="none" stroke="#c8532e" stroke-width="1.2"/>
<rect x="252.50" y="419.70" width="3.00" height="3.00" fill="#c8532e" stroke="none" stroke-width="1" />
<rect x="277.63" y="420.00" width="3.00" height="3.00" fill="#c8532e" stroke="none" stroke-width="1" />
<rect x="299.17" y="419.70" width="3.00" height="3.00" fill="#c8532e" stroke="none" stroke-width="1" />
<rect x="331.48" y="419.70" width="3.00" height="3.00" fill="#c8532e" stroke="none" stroke-width="1" />
<polyline points="254.00,412.30 279.13,418.10 300.67,393.10 332.98,399.80" fill="none" stroke="#4b3b8c" stroke-width="1.2"/>
<circle cx="254.00" cy="412.30" r="1.6" fill="#4b3b8c"/>
<circle cx="279.13" cy="418.10" r="1.6" fill="#4b3b8c"/>
<circle cx="300.67" cy="393.10" r="1.6" fill="#4b3b8c"/>
<circle cx="332.98" cy="399.80" r="1.6" fill="#4b3b8c"/>
<polyline points="254.00,417.70 279.13,417.30 300.67,400.40 332.98,368.70" fill="none" stroke="#4b3b8c" stroke-width="1.2"/>
<circle cx="254.00" cy="417.70" r="1.6" fill="#4b3b8c"/>
<circle cx="279.13" cy="417.30" r="1.6" fill="#4b3b8c"/>
<circle cx="300.67" cy="400.40" r="1.6" fill="#4b3b8c"/>
<circle cx="332.98" cy="368.70" r="1.6" fill="#4b3b8c"/>
<polyline points="254.00,418.50 279.13,419.20 300.67,406.50 332.98,364.20" fill="none" stroke="#4b3b8c" stroke-width="1.2"/>
<circle cx="254.00" cy="418.50" r="1.6" fill="#4b3b8c"/>
<circle cx="279.13" cy="419.20" r="1.6" fill="#4b3b8c"/>
<circle cx="300.67" cy="406.50" r="1.6" fill="#4b3b8c"/>
<circle cx="332.98" cy="364.20" r="1.6" fill="#4b3b8c"/>
<line x1="254.00" y1="349.70" x2="254.00" y2="422.00" stroke="#4a4a4a" stroke-width="1.45" />
<line x1="254.00" y1="421.50" x2="334.60" y2="421.50" stroke="#4a4a4a" stroke-width="1.45" />
<line x1="251.30" y1="353.00" x2="254.00" y2="353.00" stroke="#4a4a4a" stroke-width="0.9" />
<text x="249.00" y="355.56" font-size="7.3" fill="#222" stroke="#222" stroke-width="0.13" text-anchor="end"><tspan>1x10</tspan><tspan font-size="4.96" dy="-2.77">5</tspan></text>
<line x1="251.30" y1="366.64" x2="254.00" y2="366.64" stroke="#4a4a4a" stroke-width="0.9" />
<text x="249.00" y="369.19" font-size="7.3" fill="#222" stroke="#222" stroke-width="0.13" text-anchor="end"><tspan>8x10</tspan><tspan font-size="4.96" dy="-2.77">4</tspan></text>
<line x1="251.30" y1="380.28" x2="254.00" y2="380.28" stroke="#4a4a4a" stroke-width="0.9" />
<text x="249.00" y="382.83" font-size="7.3" fill="#222" stroke="#222" stroke-width="0.13" text-anchor="end"><tspan>6x10</tspan><tspan font-size="4.96" dy="-2.77">4</tspan></text>
<line x1="251.30" y1="393.92" x2="254.00" y2="393.92" stroke="#4a4a4a" stroke-width="0.9" />
<text x="249.00" y="396.47" font-size="7.3" fill="#222" stroke="#222" stroke-width="0.13" text-anchor="end"><tspan>4x10</tspan><tspan font-size="4.96" dy="-2.77">4</tspan></text>
<line x1="251.30" y1="407.56" x2="254.00" y2="407.56" stroke="#4a4a4a" stroke-width="0.9" />
<text x="249.00" y="410.12" font-size="7.3" fill="#222" stroke="#222" stroke-width="0.13" text-anchor="end"><tspan>2x10</tspan><tspan font-size="4.96" dy="-2.77">4</tspan></text>
<line x1="251.30" y1="421.20" x2="254.00" y2="421.20" stroke="#4a4a4a" stroke-width="0.9" />
<text x="249.00" y="423.75" font-size="7.3" fill="#222" stroke="#222" stroke-width="0.13" text-anchor="end">0</text>
<line x1="254.00" y1="421.50" x2="254.00" y2="423.80" stroke="#4a4a4a" stroke-width="0.9" />
<text x="254.00" y="434.32" font-size="7.5" fill="#222" stroke="#222" stroke-width="0.13" text-anchor="middle">0</text>
<line x1="271.95" y1="421.50" x2="271.95" y2="423.80" stroke="#4a4a4a" stroke-width="0.9" />
<text x="271.95" y="434.32" font-size="7.5" fill="#222" stroke="#222" stroke-width="0.13" text-anchor="middle">5</text>
<line x1="289.90" y1="421.50" x2="289.90" y2="423.80" stroke="#4a4a4a" stroke-width="0.9" />
<text x="289.90" y="434.32" font-size="7.5" fill="#222" stroke="#222" stroke-width="0.13" text-anchor="middle">10</text>
<line x1="307.85" y1="421.50" x2="307.85" y2="423.80" stroke="#4a4a4a" stroke-width="0.9" />
<text x="307.85" y="434.32" font-size="7.5" fill="#222" stroke="#222" stroke-width="0.13" text-anchor="middle">15</text>
<line x1="325.80" y1="421.50" x2="325.80" y2="423.80" stroke="#4a4a4a" stroke-width="0.9" />
<text x="325.80" y="434.32" font-size="7.5" fill="#222" stroke="#222" stroke-width="0.13" text-anchor="middle">20</text>
<text x="295.00" y="447.40" font-size="9" fill="#222" stroke="#222" stroke-width="0.13" text-anchor="middle" textLength="70" lengthAdjust="spacingAndGlyphs">Days post plating</text>
<line x1="257.70" y1="346.90" x2="265.40" y2="346.90" stroke="#4b3b8c" stroke-width="1.2" />
<circle cx="261.70" cy="346.90" r="1.5" fill="#4b3b8c"/>
<text x="268.30" y="349.63" font-size="7.8" fill="#222" stroke="#222" stroke-width="0.13" text-anchor="start" textLength="30.2" lengthAdjust="spacingAndGlyphs">CONTROL</text>
<line x1="257.70" y1="356.60" x2="265.40" y2="356.60" stroke="#c8532e" stroke-width="1.2" />
<rect x="260.20" y="355.10" width="3.00" height="3.00" fill="#c8532e" stroke="none" stroke-width="1" />
<text x="268.30" y="359.33" font-size="7.8" fill="#222" stroke="#222" stroke-width="0.13" text-anchor="start" textLength="18.2" lengthAdjust="spacingAndGlyphs">INKA1</text>
<text transform="translate(306.00,369.90) rotate(-90)" font-size="7" fill="#222" stroke="#222" stroke-width="0.13" text-anchor="middle" textLength="34.3" lengthAdjust="spacingAndGlyphs">**p = 0.007</text>
<text x="364.50" y="339.60" font-size="10.5" fill="#222" stroke="#222" stroke-width="0.13" text-anchor="start">J</text>
<text transform="translate(375.20,386.70) rotate(-90)" font-size="9.8" fill="#222" stroke="#222" stroke-width="0.13" text-anchor="middle" textLength="72" lengthAdjust="spacingAndGlyphs">log2 counts/input</text>
<line x1="404.35" y1="399.20" x2="404.35" y2="403.60" stroke="#4a4a4a" stroke-width="1" />
<line x1="401.95" y1="403.60" x2="406.75" y2="403.60" stroke="#4a4a4a" stroke-width="1" />
<rect x="399.00" y="394.40" width="10.70" height="4.80" fill="#5b4a80" stroke="#4b3a72" stroke-width="0.6" />
<line x1="418.35" y1="413.40" x2="418.35" y2="420.60" stroke="#4a4a4a" stroke-width="1" />
<line x1="415.95" y1="420.60" x2="420.75" y2="420.60" stroke="#4a4a4a" stroke-width="1" />
<rect x="412.80" y="394.40" width="11.10" height="19.00" fill="#c05a3a" stroke="#b24c2e" stroke-width="0.6" />
<line x1="441.00" y1="380.10" x2="441.00" y2="376.80" stroke="#4a4a4a" stroke-width="1" />
<line x1="438.60" y1="376.80" x2="443.40" y2="376.80" stroke="#4a4a4a" stroke-width="1" />
<rect x="435.80" y="380.10" width="10.40" height="14.30" fill="#5b4a80" stroke="#4b3a72" stroke-width="0.6" />
<line x1="455.05" y1="400.40" x2="455.05" y2="403.40" stroke="#4a4a4a" stroke-width="1" />
<line x1="452.65" y1="403.40" x2="457.45" y2="403.40" stroke="#4a4a4a" stroke-width="1" />
<rect x="450.10" y="394.40" width="9.90" height="6.00" fill="#c05a3a" stroke="#b24c2e" stroke-width="0.6" />
<line x1="477.90" y1="373.80" x2="477.90" y2="363.50" stroke="#4a4a4a" stroke-width="1" />
<line x1="475.50" y1="363.50" x2="480.30" y2="363.50" stroke="#4a4a4a" stroke-width="1" />
<rect x="473.20" y="373.80" width="9.40" height="20.60" fill="#5b4a80" stroke="#4b3a72" stroke-width="0.6" />
<line x1="492.00" y1="393.00" x2="492.00" y2="381.20" stroke="#4a4a4a" stroke-width="1" />
<line x1="489.60" y1="381.20" x2="494.40" y2="381.20" stroke="#4a4a4a" stroke-width="1" />
<rect x="487.00" y="393.00" width="10.00" height="1.40" fill="#c05a3a" stroke="#b24c2e" stroke-width="0.6" />
<line x1="392.40" y1="394.30" x2="503.90" y2="394.30" stroke="#4a4a4a" stroke-width="1.1" />
<line x1="392.40" y1="350.80" x2="392.40" y2="421.90" stroke="#4a4a4a" stroke-width="1.45" />
<line x1="392.40" y1="421.40" x2="503.90" y2="421.40" stroke="#4a4a4a" stroke-width="1.45" />
<line x1="389.50" y1="353.00" x2="392.40" y2="353.00" stroke="#4a4a4a" stroke-width="0.9" />
<text x="387.20" y="355.83" font-size="8.1" fill="#222" stroke="#222" stroke-width="0.13" text-anchor="end" textLength="4.1" lengthAdjust="spacingAndGlyphs">6</text>
<line x1="389.50" y1="366.80" x2="392.40" y2="366.80" stroke="#4a4a4a" stroke-width="0.9" />
<text x="387.20" y="369.63" font-size="8.1" fill="#222" stroke="#222" stroke-width="0.13" text-anchor="end" textLength="4.1" lengthAdjust="spacingAndGlyphs">4</text>
<line x1="389.50" y1="380.60" x2="392.40" y2="380.60" stroke="#4a4a4a" stroke-width="0.9" />
<text x="387.20" y="383.43" font-size="8.1" fill="#222" stroke="#222" stroke-width="0.13" text-anchor="end" textLength="4.1" lengthAdjust="spacingAndGlyphs">2</text>
<line x1="389.50" y1="394.40" x2="392.40" y2="394.40" stroke="#4a4a4a" stroke-width="0.9" />
<text x="387.20" y="397.23" font-size="8.1" fill="#222" stroke="#222" stroke-width="0.13" text-anchor="end" textLength="4.1" lengthAdjust="spacingAndGlyphs">0</text>
<line x1="389.50" y1="408.20" x2="392.40" y2="408.20" stroke="#4a4a4a" stroke-width="0.9" />
<text x="387.20" y="411.03" font-size="8.1" fill="#222" stroke="#222" stroke-width="0.13" text-anchor="end" textLength="6.55" lengthAdjust="spacingAndGlyphs">-2</text>
<line x1="389.50" y1="422.00" x2="392.40" y2="422.00" stroke="#4a4a4a" stroke-width="0.9" />
<text x="387.20" y="424.83" font-size="8.1" fill="#222" stroke="#222" stroke-width="0.13" text-anchor="end" textLength="6.55" lengthAdjust="spacingAndGlyphs">-4</text>
<line x1="412.30" y1="421.40" x2="412.30" y2="423.60" stroke="#4a4a4a" stroke-width="0.9" />
<text x="411.80" y="433.60" font-size="8" fill="#222" stroke="#222" stroke-width="0.13" text-anchor="middle">d7</text>
<line x1="448.50" y1="421.40" x2="448.50" y2="423.60" stroke="#4a4a4a" stroke-width="0.9" />
<text x="448.00" y="433.60" font-size="8" fill="#222" stroke="#222" stroke-width="0.13" text-anchor="middle">d13</text>
<line x1="484.50" y1="421.40" x2="484.50" y2="423.60" stroke="#4a4a4a" stroke-width="0.9" />
<text x="484.00" y="433.60" font-size="8" fill="#222" stroke="#222" stroke-width="0.13" text-anchor="middle">d22</text>
<text x="491.80" y="368.25" font-size="7" fill="#222" stroke="#222" stroke-width="0.13" text-anchor="middle">n.s.</text>
<text transform="translate(423.50,369.80) rotate(-90)" font-size="7" fill="#222" stroke="#222" stroke-width="0.13" text-anchor="middle" textLength="31.2" lengthAdjust="spacingAndGlyphs">*p = 0.044</text>
<text transform="translate(457.70,371.00) rotate(-90)" font-size="7" fill="#222" stroke="#222" stroke-width="0.13" text-anchor="middle" textLength="42.7" lengthAdjust="spacingAndGlyphs">***p = 0.0012</text>
<rect x="401.40" y="336.00" width="8.30" height="5.80" fill="#5b4a80" stroke="none" stroke-width="1" />
<text x="412.00" y="341.73" font-size="7.8" fill="#222" stroke="#222" stroke-width="0.13" text-anchor="start" textLength="30.7" lengthAdjust="spacingAndGlyphs">CONTROL</text>
<rect x="454.20" y="336.20" width="7.60" height="5.80" fill="#c05a3a" stroke="none" stroke-width="1" />
<text x="465.80" y="341.73" font-size="7.8" fill="#222" stroke="#222" stroke-width="0.13" text-anchor="start" textLength="18.4" lengthAdjust="spacingAndGlyphs">INKA1</text>
<text x="221.30" y="469.00" font-size="10.5" fill="#222" stroke="#222" stroke-width="0.13" text-anchor="start">K</text>
<text transform="translate(230.00,515.40) rotate(-90)" font-size="9.9" fill="#222" stroke="#222" stroke-width="0.13" text-anchor="middle" textLength="56.7" lengthAdjust="spacingAndGlyphs">%CD34+CD38–</text>
<line x1="262.15" y1="510.40" x2="262.15" y2="487.50" stroke="#4a4a4a" stroke-width="1" />
<line x1="260.15" y1="487.50" x2="264.15" y2="487.50" stroke="#4a4a4a" stroke-width="1" />
<rect x="258.50" y="510.40" width="7.30" height="35.00" fill="#5b4a80" stroke="#4b3a72" stroke-width="0.6" />
<line x1="271.25" y1="520.20" x2="271.25" y2="500.40" stroke="#4a4a4a" stroke-width="1" />
<line x1="269.25" y1="500.40" x2="273.25" y2="500.40" stroke="#4a4a4a" stroke-width="1" />
<rect x="267.70" y="520.20" width="7.10" height="25.20" fill="#c05a3a" stroke="#b24c2e" stroke-width="0.6" />
<line x1="285.85" y1="526.70" x2="285.85" y2="517.30" stroke="#4a4a4a" stroke-width="1" />
<line x1="283.85" y1="517.30" x2="287.85" y2="517.30" stroke="#4a4a4a" stroke-width="1" />
<rect x="282.50" y="526.70" width="6.70" height="18.70" fill="#5b4a80" stroke="#4b3a72" stroke-width="0.6" />
<line x1="294.85" y1="506.20" x2="294.85" y2="496.50" stroke="#4a4a4a" stroke-width="1" />
<line x1="292.85" y1="496.50" x2="296.85" y2="496.50" stroke="#4a4a4a" stroke-width="1" />
<rect x="291.20" y="506.20" width="7.30" height="39.20" fill="#c05a3a" stroke="#b24c2e" stroke-width="0.6" />
<line x1="309.75" y1="529.80" x2="309.75" y2="528.30" stroke="#4a4a4a" stroke-width="1" />
<line x1="307.75" y1="528.30" x2="311.75" y2="528.30" stroke="#4a4a4a" stroke-width="1" />
<rect x="306.20" y="529.80" width="7.10" height="15.60" fill="#5b4a80" stroke="#4b3a72" stroke-width="0.6" />
<line x1="318.65" y1="512.20" x2="318.65" y2="495.00" stroke="#4a4a4a" stroke-width="1" />
<line x1="316.65" y1="495.00" x2="320.65" y2="495.00" stroke="#4a4a4a" stroke-width="1" />
<rect x="315.30" y="512.20" width="6.70" height="33.20" fill="#c05a3a" stroke="#b24c2e" stroke-width="0.6" />
<line x1="333.75" y1="541.10" x2="333.75" y2="536.60" stroke="#4a4a4a" stroke-width="1" />
<line x1="331.75" y1="536.60" x2="335.75" y2="536.60" stroke="#4a4a4a" stroke-width="1" />
<rect x="330.40" y="541.10" width="6.70" height="4.30" fill="#5b4a80" stroke="#4b3a72" stroke-width="0.6" />
<line x1="342.55" y1="517.20" x2="342.55" y2="513.50" stroke="#4a4a4a" stroke-width="1" />
<line x1="340.55" y1="513.50" x2="344.55" y2="513.50" stroke="#4a4a4a" stroke-width="1" />
<rect x="339.20" y="517.20" width="6.70" height="28.20" fill="#c05a3a" stroke="#b24c2e" stroke-width="0.6" />
<line x1="255.20" y1="478.80" x2="255.20" y2="545.90" stroke="#4a4a4a" stroke-width="1.45" />
<line x1="255.20" y1="545.40" x2="350.30" y2="545.40" stroke="#4a4a4a" stroke-width="1.45" />
<line x1="252.30" y1="545.40" x2="255.20" y2="545.40" stroke="#4a4a4a" stroke-width="0.9" />
<text x="248.80" y="548.24" font-size="8.1" fill="#222" stroke="#222" stroke-width="0.13" text-anchor="end" textLength="4.1" lengthAdjust="spacingAndGlyphs">0</text>
<line x1="252.30" y1="532.66" x2="255.20" y2="532.66" stroke="#4a4a4a" stroke-width="0.9" />
<text x="248.80" y="535.50" font-size="8.1" fill="#222" stroke="#222" stroke-width="0.13" text-anchor="end" textLength="8.2" lengthAdjust="spacingAndGlyphs">20</text>
<line x1="252.30" y1="519.92" x2="255.20" y2="519.92" stroke="#4a4a4a" stroke-width="0.9" />
<text x="248.80" y="522.75" font-size="8.1" fill="#222" stroke="#222" stroke-width="0.13" text-anchor="end" textLength="8.2" lengthAdjust="spacingAndGlyphs">40</text>
<line x1="252.30" y1="507.18" x2="255.20" y2="507.18" stroke="#4a4a4a" stroke-width="0.9" />
<text x="248.80" y="510.01" font-size="8.1" fill="#222" stroke="#222" stroke-width="0.13" text-anchor="end" textLength="8.2" lengthAdjust="spacingAndGlyphs">60</text>
<line x1="252.30" y1="494.44" x2="255.20" y2="494.44" stroke="#4a4a4a" stroke-width="0.9" />
<text x="248.80" y="497.27" font-size="8.1" fill="#222" stroke="#222" stroke-width="0.13" text-anchor="end" textLength="8.2" lengthAdjust="spacingAndGlyphs">80</text>
<line x1="252.30" y1="481.70" x2="255.20" y2="481.70" stroke="#4a4a4a" stroke-width="0.9" />
<text x="248.80" y="484.53" font-size="8.1" fill="#222" stroke="#222" stroke-width="0.13" text-anchor="end" textLength="12.3" lengthAdjust="spacingAndGlyphs">100</text>
<line x1="266.50" y1="545.40" x2="266.50" y2="547.60" stroke="#4a4a4a" stroke-width="0.9" />
<text x="266.50" y="557.80" font-size="8" fill="#222" stroke="#222" stroke-width="0.13" text-anchor="middle">d7</text>
<line x1="290.50" y1="545.40" x2="290.50" y2="547.60" stroke="#4a4a4a" stroke-width="0.9" />
<text x="290.50" y="557.80" font-size="8" fill="#222" stroke="#222" stroke-width="0.13" text-anchor="middle">d13</text>
<line x1="314.30" y1="545.40" x2="314.30" y2="547.60" stroke="#4a4a4a" stroke-width="0.9" />
<text x="314.30" y="557.80" font-size="8" fill="#222" stroke="#222" stroke-width="0.13" text-anchor="middle">d22</text>
<line x1="338.00" y1="545.40" x2="338.00" y2="547.60" stroke="#4a4a4a" stroke-width="0.9" />
<text x="338.00" y="557.80" font-size="8" fill="#222" stroke="#222" stroke-width="0.13" text-anchor="middle">d43</text>
<line x1="258.20" y1="564.30" x2="325.00" y2="564.30" stroke="#333" stroke-width="1" />
<text x="291.50" y="574.62" font-size="7.5" fill="#222" stroke="#222" stroke-width="0.13" text-anchor="middle">n=3</text>
<text x="338.00" y="569.62" font-size="7.5" fill="#222" stroke="#222" stroke-width="0.13" text-anchor="middle">n=2</text>
<rect x="263.30" y="470.60" width="7.70" height="4.40" fill="#5b4a80" stroke="none" stroke-width="1" />
<text x="273.80" y="475.53" font-size="7.8" fill="#222" stroke="#222" stroke-width="0.13" text-anchor="start" textLength="30.2" lengthAdjust="spacingAndGlyphs">CONTROL</text>
<rect x="316.90" y="470.40" width="7.90" height="4.40" fill="#c05a3a" stroke="none" stroke-width="1" />
<text x="327.90" y="475.33" font-size="7.8" fill="#222" stroke="#222" stroke-width="0.13" text-anchor="start" textLength="17.7" lengthAdjust="spacingAndGlyphs">INKA1</text>
<text x="359.70" y="468.90" font-size="10.5" fill="#222" stroke="#222" stroke-width="0.13" text-anchor="start">L</text>
<text transform="translate(369.30,510.70) rotate(-90)" font-size="9.9" fill="#222" stroke="#222" stroke-width="0.13" text-anchor="middle" textLength="69.4" lengthAdjust="spacingAndGlyphs">%CD38+ progeny</text>
<line x1="401.55" y1="540.30" x2="401.55" y2="539.50" stroke="#4a4a4a" stroke-width="1" />
<line x1="399.35" y1="539.50" x2="403.75" y2="539.50" stroke="#4a4a4a" stroke-width="1" />
<rect x="397.40" y="540.30" width="8.30" height="5.20" fill="#5b4a80" stroke="#4b3a72" stroke-width="0.6" />
<line x1="411.90" y1="539.70" x2="411.90" y2="537.70" stroke="#4a4a4a" stroke-width="1" />
<line x1="409.70" y1="537.70" x2="414.10" y2="537.70" stroke="#4a4a4a" stroke-width="1" />
<rect x="408.00" y="539.70" width="7.80" height="5.80" fill="#c05a3a" stroke="#b24c2e" stroke-width="0.6" />
<line x1="429.40" y1="520.00" x2="429.40" y2="515.40" stroke="#4a4a4a" stroke-width="1" />
<line x1="427.20" y1="515.40" x2="431.60" y2="515.40" stroke="#4a4a4a" stroke-width="1" />
<rect x="425.40" y="520.00" width="8.00" height="25.50" fill="#5b4a80" stroke="#4b3a72" stroke-width="0.6" />
<line x1="439.85" y1="535.40" x2="439.85" y2="527.30" stroke="#4a4a4a" stroke-width="1" />
<line x1="437.65" y1="527.30" x2="442.05" y2="527.30" stroke="#4a4a4a" stroke-width="1" />
<rect x="436.00" y="535.40" width="7.70" height="10.10" fill="#c05a3a" stroke="#b24c2e" stroke-width="0.6" />
<line x1="457.05" y1="522.30" x2="457.05" y2="517.10" stroke="#4a4a4a" stroke-width="1" />
<line x1="454.85" y1="517.10" x2="459.25" y2="517.10" stroke="#4a4a4a" stroke-width="1" />
<rect x="453.10" y="522.30" width="7.90" height="23.20" fill="#5b4a80" stroke="#4b3a72" stroke-width="0.6" />
<line x1="467.65" y1="542.10" x2="467.65" y2="539.20" stroke="#4a4a4a" stroke-width="1" />
<line x1="465.45" y1="539.20" x2="469.85" y2="539.20" stroke="#4a4a4a" stroke-width="1" />
<rect x="463.80" y="542.10" width="7.70" height="3.40" fill="#c05a3a" stroke="#b24c2e" stroke-width="0.6" />
<line x1="484.85" y1="489.60" x2="484.85" y2="484.80" stroke="#4a4a4a" stroke-width="1" />
<line x1="482.65" y1="484.80" x2="487.05" y2="484.80" stroke="#4a4a4a" stroke-width="1" />
<rect x="481.00" y="489.60" width="7.70" height="55.90" fill="#5b4a80" stroke="#4b3a72" stroke-width="0.6" />
<line x1="495.45" y1="509.40" x2="495.45" y2="508.30" stroke="#4a4a4a" stroke-width="1" />
<line x1="493.25" y1="508.30" x2="497.65" y2="508.30" stroke="#4a4a4a" stroke-width="1" />
<rect x="491.50" y="509.40" width="7.90" height="36.10" fill="#c05a3a" stroke="#b24c2e" stroke-width="0.6" />
<line x1="392.30" y1="476.90" x2="392.30" y2="546.00" stroke="#4a4a4a" stroke-width="1.45" />
<line x1="392.30" y1="545.50" x2="504.60" y2="545.50" stroke="#4a4a4a" stroke-width="1.45" />
<line x1="389.50" y1="545.60" x2="392.30" y2="545.60" stroke="#4a4a4a" stroke-width="0.9" />
<text x="386.90" y="548.44" font-size="8.1" fill="#222" stroke="#222" stroke-width="0.13" text-anchor="end" textLength="4.1" lengthAdjust="spacingAndGlyphs">0</text>
<line x1="389.50" y1="532.32" x2="392.30" y2="532.32" stroke="#4a4a4a" stroke-width="0.9" />
<text x="386.90" y="535.16" font-size="8.1" fill="#222" stroke="#222" stroke-width="0.13" text-anchor="end" textLength="8.2" lengthAdjust="spacingAndGlyphs">20</text>
<line x1="389.50" y1="519.04" x2="392.30" y2="519.04" stroke="#4a4a4a" stroke-width="0.9" />
<text x="386.90" y="521.88" font-size="8.1" fill="#222" stroke="#222" stroke-width="0.13" text-anchor="end" textLength="8.2" lengthAdjust="spacingAndGlyphs">40</text>
<line x1="389.50" y1="505.76" x2="392.30" y2="505.76" stroke="#4a4a4a" stroke-width="0.9" />
<text x="386.90" y="508.59" font-size="8.1" fill="#222" stroke="#222" stroke-width="0.13" text-anchor="end" textLength="8.2" lengthAdjust="spacingAndGlyphs">60</text>
<line x1="389.50" y1="492.48" x2="392.30" y2="492.48" stroke="#4a4a4a" stroke-width="0.9" />
<text x="386.90" y="495.31" font-size="8.1" fill="#222" stroke="#222" stroke-width="0.13" text-anchor="end" textLength="8.2" lengthAdjust="spacingAndGlyphs">80</text>
<line x1="389.50" y1="479.20" x2="392.30" y2="479.20" stroke="#4a4a4a" stroke-width="0.9" />
<text x="386.90" y="482.04" font-size="8.1" fill="#222" stroke="#222" stroke-width="0.13" text-anchor="end" textLength="12.3" lengthAdjust="spacingAndGlyphs">100</text>
<line x1="407.00" y1="545.50" x2="407.00" y2="547.60" stroke="#4a4a4a" stroke-width="0.9" />
<text x="407.50" y="558.00" font-size="8" fill="#222" stroke="#222" stroke-width="0.13" text-anchor="middle">d7</text>
<line x1="434.60" y1="545.50" x2="434.60" y2="547.60" stroke="#4a4a4a" stroke-width="0.9" />
<text x="435.10" y="558.00" font-size="8" fill="#222" stroke="#222" stroke-width="0.13" text-anchor="middle">d13</text>
<line x1="462.00" y1="545.50" x2="462.00" y2="547.60" stroke="#4a4a4a" stroke-width="0.9" />
<text x="462.50" y="558.00" font-size="8" fill="#222" stroke="#222" stroke-width="0.13" text-anchor="middle">d22</text>
<line x1="489.60" y1="545.50" x2="489.60" y2="547.60" stroke="#4a4a4a" stroke-width="0.9" />
<text x="490.10" y="558.00" font-size="8" fill="#222" stroke="#222" stroke-width="0.13" text-anchor="middle">d43</text>
<text x="407.40" y="531.35" font-size="7" fill="#222" stroke="#222" stroke-width="0.13" text-anchor="middle">n.s.</text>
<text transform="translate(441.60,505.10) rotate(-90)" font-size="7" fill="#222" stroke="#222" stroke-width="0.13" text-anchor="middle" textLength="31.8" lengthAdjust="spacingAndGlyphs">*p = 0.038</text>
<text transform="translate(470.40,505.60) rotate(-90)" font-size="7" fill="#222" stroke="#222" stroke-width="0.13" text-anchor="middle" textLength="34.6" lengthAdjust="spacingAndGlyphs">**p = 0.004</text>
<rect x="401.20" y="470.60" width="8.20" height="4.40" fill="#5b4a80" stroke="none" stroke-width="1" />
<text x="412.70" y="475.43" font-size="7.8" fill="#222" stroke="#222" stroke-width="0.13" text-anchor="start" textLength="29.4" lengthAdjust="spacingAndGlyphs">CONTROL</text>
<rect x="454.00" y="470.60" width="8.70" height="4.40" fill="#c05a3a" stroke="none" stroke-width="1" />
<text x="465.80" y="475.43" font-size="7.8" fill="#222" stroke="#222" stroke-width="0.13" text-anchor="start" textLength="18.6" lengthAdjust="spacingAndGlyphs">INKA1</text>
<text x="13.30" y="595.20" font-size="10.5" fill="#222" stroke="#222" stroke-width="0.13" text-anchor="start">M</text>
<text transform="translate(27.90,641.50) rotate(-90)" font-size="9.9" fill="#222" stroke="#222" stroke-width="0.13" text-anchor="middle" textLength="65.4" lengthAdjust="spacingAndGlyphs">%CD34+ in BFP+</text>
<line x1="54.55" y1="616.50" x2="54.55" y2="613.70" stroke="#4a4a4a" stroke-width="1" />
<line x1="52.35" y1="613.70" x2="56.75" y2="613.70" stroke="#4a4a4a" stroke-width="1" />
<rect x="50.40" y="616.50" width="8.30" height="62.40" fill="#c05a3a" stroke="#b24c2e" stroke-width="0.6" />
<line x1="65.00" y1="615.60" x2="65.00" y2="611.20" stroke="#4a4a4a" stroke-width="1" />
<line x1="62.80" y1="611.20" x2="67.20" y2="611.20" stroke="#4a4a4a" stroke-width="1" />
<rect x="61.20" y="615.60" width="7.60" height="63.30" fill="#5b4a80" stroke="#4b3a72" stroke-width="0.6" />
<line x1="81.95" y1="640.60" x2="81.95" y2="638.30" stroke="#4a4a4a" stroke-width="1" />
<line x1="79.75" y1="638.30" x2="84.15" y2="638.30" stroke="#4a4a4a" stroke-width="1" />
<rect x="77.90" y="640.60" width="8.10" height="38.30" fill="#c05a3a" stroke="#b24c2e" stroke-width="0.6" />
<line x1="92.35" y1="654.00" x2="92.35" y2="652.80" stroke="#4a4a4a" stroke-width="1" />
<line x1="90.15" y1="652.80" x2="94.55" y2="652.80" stroke="#4a4a4a" stroke-width="1" />
<rect x="88.50" y="654.00" width="7.70" height="24.90" fill="#5b4a80" stroke="#4b3a72" stroke-width="0.6" />
<line x1="109.25" y1="635.20" x2="109.25" y2="633.70" stroke="#4a4a4a" stroke-width="1" />
<line x1="107.05" y1="633.70" x2="111.45" y2="633.70" stroke="#4a4a4a" stroke-width="1" />
<rect x="105.40" y="635.20" width="7.70" height="43.70" fill="#c05a3a" stroke="#b24c2e" stroke-width="0.6" />
<line x1="119.35" y1="649.60" x2="119.35" y2="646.70" stroke="#4a4a4a" stroke-width="1" />
<line x1="117.15" y1="646.70" x2="121.55" y2="646.70" stroke="#4a4a4a" stroke-width="1" />
<rect x="115.40" y="649.60" width="7.90" height="29.30" fill="#5b4a80" stroke="#4b3a72" stroke-width="0.6" />
<line x1="136.65" y1="630.40" x2="136.65" y2="629.20" stroke="#4a4a4a" stroke-width="1" />
<line x1="134.45" y1="629.20" x2="138.85" y2="629.20" stroke="#4a4a4a" stroke-width="1" />
<rect x="132.70" y="630.40" width="7.90" height="48.50" fill="#c05a3a" stroke="#b24c2e" stroke-width="0.6" />
<line x1="147.05" y1="651.20" x2="147.05" y2="647.70" stroke="#4a4a4a" stroke-width="1" />
<line x1="144.85" y1="647.70" x2="149.25" y2="647.70" stroke="#4a4a4a" stroke-width="1" />
<rect x="143.10" y="651.20" width="7.90" height="27.70" fill="#5b4a80" stroke="#4b3a72" stroke-width="0.6" />
<line x1="163.85" y1="636.70" x2="163.85" y2="631.30" stroke="#4a4a4a" stroke-width="1" />
<line x1="161.65" y1="631.30" x2="166.05" y2="631.30" stroke="#4a4a4a" stroke-width="1" />
<rect x="159.80" y="636.70" width="8.10" height="42.20" fill="#c05a3a" stroke="#b24c2e" stroke-width="0.6" />
<line x1="174.25" y1="661.20" x2="174.25" y2="658.70" stroke="#4a4a4a" stroke-width="1" />
<line x1="172.05" y1="658.70" x2="176.45" y2="658.70" stroke="#4a4a4a" stroke-width="1" />
<rect x="170.40" y="661.20" width="7.70" height="17.70" fill="#5b4a80" stroke="#4b3a72" stroke-width="0.6" />
<line x1="47.70" y1="603.00" x2="47.70" y2="679.40" stroke="#4a4a4a" stroke-width="1.45" />
<line x1="47.70" y1="678.90" x2="180.80" y2="678.90" stroke="#4a4a4a" stroke-width="1.45" />
<line x1="44.80" y1="678.90" x2="47.70" y2="678.90" stroke="#4a4a4a" stroke-width="0.9" />
<text x="41.90" y="681.74" font-size="8.1" fill="#222" stroke="#222" stroke-width="0.13" text-anchor="end" textLength="4.1" lengthAdjust="spacingAndGlyphs">0</text>
<line x1="44.80" y1="664.20" x2="47.70" y2="664.20" stroke="#4a4a4a" stroke-width="0.9" />
<text x="41.90" y="667.03" font-size="8.1" fill="#222" stroke="#222" stroke-width="0.13" text-anchor="end" textLength="8.2" lengthAdjust="spacingAndGlyphs">10</text>
<line x1="44.80" y1="649.50" x2="47.70" y2="649.50" stroke="#4a4a4a" stroke-width="0.9" />
<text x="41.90" y="652.34" font-size="8.1" fill="#222" stroke="#222" stroke-width="0.13" text-anchor="end" textLength="8.2" lengthAdjust="spacingAndGlyphs">20</text>
<line x1="44.80" y1="634.80" x2="47.70" y2="634.80" stroke="#4a4a4a" stroke-width="0.9" />
<text x="41.90" y="637.63" font-size="8.1" fill="#222" stroke="#222" stroke-width="0.13" text-anchor="end" textLength="8.2" lengthAdjust="spacingAndGlyphs">30</text>
<line x1="44.80" y1="620.10" x2="47.70" y2="620.10" stroke="#4a4a4a" stroke-width="0.9" />
<text x="41.90" y="622.94" font-size="8.1" fill="#222" stroke="#222" stroke-width="0.13" text-anchor="end" textLength="8.2" lengthAdjust="spacingAndGlyphs">40</text>
<line x1="44.80" y1="605.40" x2="47.70" y2="605.40" stroke="#4a4a4a" stroke-width="0.9" />
<text x="41.90" y="608.24" font-size="8.1" fill="#222" stroke="#222" stroke-width="0.13" text-anchor="end" textLength="8.2" lengthAdjust="spacingAndGlyphs">50</text>
<line x1="59.80" y1="678.90" x2="59.80" y2="681.00" stroke="#4a4a4a" stroke-width="0.9" />
<text x="59.80" y="691.62" font-size="7.5" fill="#222" stroke="#222" stroke-width="0.13" text-anchor="middle">6</text>
<line x1="87.20" y1="678.90" x2="87.20" y2="681.00" stroke="#4a4a4a" stroke-width="0.9" />
<text x="87.20" y="691.62" font-size="7.5" fill="#222" stroke="#222" stroke-width="0.13" text-anchor="middle">10</text>
<line x1="114.30" y1="678.90" x2="114.30" y2="681.00" stroke="#4a4a4a" stroke-width="0.9" />
<text x="114.30" y="691.62" font-size="7.5" fill="#222" stroke="#222" stroke-width="0.13" text-anchor="middle">13</text>
<line x1="141.90" y1="678.90" x2="141.90" y2="681.00" stroke="#4a4a4a" stroke-width="0.9" />
<text x="141.90" y="691.62" font-size="7.5" fill="#222" stroke="#222" stroke-width="0.13" text-anchor="middle">16</text>
<line x1="169.00" y1="678.90" x2="169.00" y2="681.00" stroke="#4a4a4a" stroke-width="0.9" />
<text x="169.00" y="691.62" font-size="7.5" fill="#222" stroke="#222" stroke-width="0.13" text-anchor="middle">22</text>
<text x="114.00" y="703.30" font-size="8" fill="#222" stroke="#222" stroke-width="0.13" text-anchor="middle" textLength="77" lengthAdjust="spacingAndGlyphs">Days post transduction</text>
<circle cx="92.30" cy="641.50" r="0.85" fill="#1a1a1a"/>
<circle cx="92.30" cy="645.35" r="0.85" fill="#1a1a1a"/>
<circle cx="92.30" cy="649.20" r="0.85" fill="#1a1a1a"/>
<circle cx="120.00" cy="636.70" r="0.85" fill="#1a1a1a"/>
<circle cx="120.00" cy="640.45" r="0.85" fill="#1a1a1a"/>
<circle cx="120.00" cy="644.20" r="0.85" fill="#1a1a1a"/>
<circle cx="146.90" cy="636.50" r="0.85" fill="#1a1a1a"/>
<circle cx="146.90" cy="640.75" r="0.85" fill="#1a1a1a"/>
<circle cx="146.90" cy="645.00" r="0.85" fill="#1a1a1a"/>
<circle cx="174.40" cy="648.50" r="0.85" fill="#1a1a1a"/>
<circle cx="174.40" cy="651.50" r="0.85" fill="#1a1a1a"/>
<circle cx="174.40" cy="654.50" r="0.85" fill="#1a1a1a"/>
<circle cx="174.40" cy="657.50" r="0.85" fill="#1a1a1a"/>
<rect x="58.70" y="596.30" width="8.60" height="4.90" fill="#c05a3a" stroke="none" stroke-width="1" />
<text x="69.60" y="601.43" font-size="7.8" fill="#222" stroke="#222" stroke-width="0.13" text-anchor="start" textLength="37.7" lengthAdjust="spacingAndGlyphs">shCONTROL</text>
<rect x="120.20" y="596.20" width="7.90" height="4.80" fill="#5b4a80" stroke="none" stroke-width="1" />
<text x="131.00" y="601.43" font-size="7.8" fill="#222" stroke="#222" stroke-width="0.13" text-anchor="start" textLength="25.9" lengthAdjust="spacingAndGlyphs">shINKA1</text>
<text x="191.70" y="595.20" font-size="10.5" fill="#222" stroke="#222" stroke-width="0.13" text-anchor="start">N</text>
<text x="252.70" y="613.01" font-size="8.6" fill="#222" stroke="#222" stroke-width="0.13" text-anchor="middle" textLength="41.6" lengthAdjust="spacingAndGlyphs">shCONTROL</text>
<text x="327.60" y="613.01" font-size="8.6" fill="#5a4a9a" stroke="#5a4a9a" stroke-width="0.13" text-anchor="middle" textLength="29.3" lengthAdjust="spacingAndGlyphs">shINKA1</text>
<path d="M247.5,632.6L249.4,632.5L251.4,632.7L253.0,633.2L254.6,634.0L256.2,635.1L257.4,636.2L258.3,637.4L259.8,639.9L260.2,640.2L260.6,640.2L262.6,639.2L263.8,638.9L265.0,638.9L266.6,639.6L267.9,641.0L268.5,642.2L268.7,643.4L268.7,644.6L268.5,645.8L267.7,647.4L266.2,648.7L265.0,649.1L264.2,649.1L262.6,648.7L260.6,647.3L259.8,647.0L259.0,647.7L257.0,650.3L255.0,652.0L252.2,653.5L249.4,654.4L247.0,654.7L245.0,654.5L243.4,654.0L241.4,652.8L240.3,651.8L239.3,650.6L238.0,647.8L237.6,645.8L237.6,644.2L237.7,642.6L238.1,640.6L238.7,639.0L239.6,637.4L241.8,635.0L244.2,633.5L245.8,632.9L247.5,632.6Z" fill="#000" fill-opacity="0.04" fill-rule="nonzero" stroke="#222" stroke-opacity="0.6" stroke-width="0.42"/>
<path d="M246.8,633.8L249.0,633.6L251.0,633.8L253.0,634.4L255.0,635.5L256.6,637.0L257.7,638.6L258.7,641.0L259.3,643.4L258.9,645.0L257.8,647.4L256.7,649.0L255.4,650.3L253.8,651.5L251.4,652.8L249.4,653.4L247.4,653.7L245.8,653.6L244.2,653.3L242.6,652.5L241.2,651.4L240.2,650.2L239.3,648.6L238.8,647.0L238.6,645.0L238.7,643.0L239.1,641.0L239.7,639.4L240.7,637.8L241.8,636.5L243.4,635.2L245.0,634.4L246.8,633.8ZM263.1,639.8L264.6,639.5L266.2,640.1L267.5,641.4L268.1,643.0L268.1,645.0L267.5,646.6L266.4,647.8L265.0,648.4L263.4,648.3L262.2,647.6L260.9,646.2L260.0,644.2L260.0,643.4L260.8,641.8L261.8,640.6L263.1,639.8Z" fill="#000" fill-opacity="0.04" fill-rule="nonzero" stroke="#222" stroke-opacity="0.6" stroke-width="0.42"/>
<path d="M247.3,634.6L249.4,634.5L251.4,634.8L253.4,635.6L254.9,636.6L256.4,638.2L257.3,639.8L257.9,641.8L258.0,643.4L257.6,645.4L256.9,647.0L255.9,648.6L254.6,649.9L252.6,651.3L250.6,652.2L248.6,652.8L246.6,652.9L245.0,652.7L243.4,652.0L242.2,651.2L241.2,650.2L240.4,649.0L239.8,647.4L239.4,645.8L239.4,644.2L239.6,642.6L240.0,641.0L240.7,639.4L241.8,637.8L243.0,636.6L244.2,635.8L245.8,635.0L247.3,634.6ZM263.8,640.2L265.0,640.2L266.2,640.7L267.1,641.8L267.7,643.4L267.6,645.0L267.1,646.2L266.2,647.3L265.0,647.8L263.8,647.8L262.6,647.2L261.7,646.2L261.1,644.6L261.1,643.0L261.6,641.8L262.6,640.8L263.8,640.2Z" fill="#000" fill-opacity="0.04" fill-rule="nonzero" stroke="#222" stroke-opacity="0.6" stroke-width="0.42"/>
<path d="M247.9,635.4L249.8,635.4L251.4,635.7L253.0,636.4L254.6,637.5L255.6,638.6L256.5,640.2L256.9,641.8L257.0,643.8L256.6,645.4L255.9,647.0L254.7,648.6L253.4,649.8L251.8,650.8L249.8,651.7L247.8,652.1L246.2,652.1L244.6,651.7L243.4,651.1L241.6,649.4L240.5,647.0L240.2,645.4L240.2,643.8L240.5,642.2L241.1,640.6L242.6,638.2L243.8,637.1L245.0,636.3L246.6,635.7L247.9,635.4ZM263.3,641.0L264.6,640.7L265.6,641.0L266.5,641.8L267.1,643.0L267.2,644.6L266.8,645.8L266.1,646.6L265.0,647.2L263.8,647.2L263.0,646.8L262.2,645.9L261.8,645.0L261.6,643.8L261.9,642.6L262.6,641.5L263.3,641.0Z" fill="#000" fill-opacity="0.04" fill-rule="nonzero" stroke="#222" stroke-opacity="0.6" stroke-width="0.42"/>
<path d="M246.7,636.6L248.2,636.3L249.8,636.3L251.4,636.7L253.0,637.4L254.2,638.4L255.2,639.8L255.7,641.0L256.1,642.6L256.0,644.2L255.7,645.4L254.8,647.0L253.8,648.3L252.2,649.6L250.6,650.5L249.0,651.1L247.4,651.3L245.0,651.0L243.8,650.4L243.0,649.7L241.6,647.8L241.2,646.6L241.0,645.0L241.4,642.2L242.5,639.8L244.4,637.8L246.7,636.6ZM263.3,641.8L264.2,641.4L265.0,641.5L265.8,642.0L266.5,643.0L266.6,644.2L266.5,645.0L265.8,646.0L265.0,646.5L264.2,646.6L263.4,646.2L262.4,645.0L262.3,643.4L262.6,642.6L263.3,641.8Z" fill="#000" fill-opacity="0.04" fill-rule="nonzero" stroke="#222" stroke-opacity="0.6" stroke-width="0.42"/>
<path d="M247.6,637.4L249.0,637.2L250.2,637.4L251.5,637.8L252.8,638.6L253.7,639.4L254.5,640.6L254.9,641.8L255.0,643.4L254.8,644.6L254.4,645.8L253.6,647.0L252.5,648.2L251.4,649.0L249.8,649.9L248.2,650.3L247.0,650.4L245.0,650.0L244.0,649.4L243.2,648.6L242.3,647.0L241.9,644.6L242.4,642.2L243.7,639.8L245.4,638.3L247.6,637.4ZM263.7,642.6L264.2,642.3L265.0,642.4L265.8,643.4L265.8,644.6L265.4,645.3L265.0,645.6L264.2,645.7L263.8,645.5L263.1,644.6L263.1,643.4L263.7,642.6Z" fill="#000" fill-opacity="0.04" fill-rule="nonzero" stroke="#222" stroke-opacity="0.6" stroke-width="0.42"/>
<path d="M247.4,638.6L248.6,638.4L249.8,638.5L251.0,638.8L251.9,639.4L252.8,640.2L253.4,641.2L253.7,642.2L253.8,643.4L253.3,645.4L251.8,647.4L250.6,648.3L249.4,648.9L248.2,649.3L247.0,649.3L245.4,648.9L244.0,647.8L243.2,646.2L243.0,644.6L243.4,642.6L244.2,641.0L245.8,639.4L247.4,638.6Z" fill="#000" fill-opacity="0.04" fill-rule="nonzero" stroke="#222" stroke-opacity="0.6" stroke-width="0.42"/>
<path d="M247.1,640.2L249.0,639.8L250.6,640.3L251.8,641.4L252.4,643.0L252.1,644.6L251.2,646.2L249.7,647.4L247.8,648.0L246.6,647.9L245.4,647.3L244.6,646.2L244.3,645.0L244.5,643.4L245.0,642.2L245.9,641.0L247.1,640.2Z" fill="#000" fill-opacity="0.04" fill-rule="nonzero" stroke="#222" stroke-opacity="0.6" stroke-width="0.42"/>
<path d="M248.0,642.2L248.6,642.1L249.4,642.4L249.9,643.0L250.0,643.8L249.8,644.6L249.4,645.1L248.6,645.6L247.8,645.8L246.8,645.4L246.6,645.0L246.4,644.2L246.9,643.0L248.0,642.2Z" fill="#000" fill-opacity="0.04" fill-rule="nonzero" stroke="#222" stroke-opacity="0.6" stroke-width="0.42"/>
<ellipse cx="246.5" cy="643.5" rx="1.8" ry="1.4" fill="#fff" fill-opacity="0.9"/>
<line x1="223.90" y1="616.50" x2="281.20" y2="616.50" stroke="#a8a8a8" stroke-width="0.8" />
<line x1="281.20" y1="616.50" x2="281.20" y2="674.80" stroke="#a8a8a8" stroke-width="0.8" />
<line x1="223.90" y1="616.50" x2="223.90" y2="674.80" stroke="#666" stroke-width="0.8" />
<line x1="223.90" y1="674.80" x2="281.20" y2="674.80" stroke="#666" stroke-width="0.8" />
<line x1="259.90" y1="616.50" x2="259.90" y2="639.40" stroke="#555" stroke-width="0.8" />
<line x1="223.90" y1="639.90" x2="259.90" y2="639.90" stroke="#555" stroke-width="0.8" />
<rect x="260.00" y="638.90" width="23.00" height="36.00" fill="none" stroke="#463a8a" stroke-width="1.8" />
<text x="226.20" y="624.87" font-size="6.2" fill="#6a5ea8" stroke="#6a5ea8" stroke-width="0.13" text-anchor="start">15.1</text>
<text x="277.20" y="625.27" font-size="6.2" fill="#6a5ea8" stroke="#6a5ea8" stroke-width="0.13" text-anchor="end">1.79</text>
<text x="227.00" y="671.37" font-size="6.2" fill="#6a5ea8" stroke="#6a5ea8" stroke-width="0.13" text-anchor="start">59.7</text>
<text x="278.20" y="669.87" font-size="6.2" fill="#6a5ea8" stroke="#6a5ea8" stroke-width="0.13" text-anchor="end">23.4</text>
<text x="220.40" y="625.01" font-size="6.6" fill="#222" stroke="#222" stroke-width="0.13" text-anchor="end"><tspan>10</tspan><tspan font-size="4.49" dy="-2.51">5</tspan></text>
<line x1="222.20" y1="622.70" x2="223.90" y2="622.70" stroke="#666" stroke-width="0.7" />
<text x="220.40" y="638.11" font-size="6.6" fill="#222" stroke="#222" stroke-width="0.13" text-anchor="end"><tspan>10</tspan><tspan font-size="4.49" dy="-2.51">4</tspan></text>
<line x1="222.20" y1="635.80" x2="223.90" y2="635.80" stroke="#666" stroke-width="0.7" />
<text x="220.40" y="651.11" font-size="6.6" fill="#222" stroke="#222" stroke-width="0.13" text-anchor="end"><tspan>10</tspan><tspan font-size="4.49" dy="-2.51">3</tspan></text>
<line x1="222.20" y1="648.80" x2="223.90" y2="648.80" stroke="#666" stroke-width="0.7" />
<text x="220.40" y="664.21" font-size="6.6" fill="#222" stroke="#222" stroke-width="0.13" text-anchor="end"><tspan>10</tspan><tspan font-size="4.49" dy="-2.51">2</tspan></text>
<line x1="222.20" y1="661.90" x2="223.90" y2="661.90" stroke="#666" stroke-width="0.7" />
<text x="220.40" y="677.31" font-size="6.6" fill="#222" stroke="#222" stroke-width="0.13" text-anchor="end"><tspan>10</tspan><tspan font-size="4.49" dy="-2.51">1</tspan></text>
<line x1="222.20" y1="675.00" x2="223.90" y2="675.00" stroke="#666" stroke-width="0.7" />
<text x="241.90" y="686.11" font-size="6.6" fill="#222" stroke="#222" stroke-width="0.13" text-anchor="middle">0</text>
<text x="262.30" y="686.11" font-size="6.6" fill="#222" stroke="#222" stroke-width="0.13" text-anchor="middle"><tspan>10</tspan><tspan font-size="4.49" dy="-2.51">4</tspan></text>
<text x="273.60" y="686.11" font-size="6.6" fill="#222" stroke="#222" stroke-width="0.13" text-anchor="middle"><tspan>10</tspan><tspan font-size="4.49" dy="-2.51">5</tspan></text>
<path d="M319.8,632.1L321.8,631.7L324.2,631.9L326.2,632.4L328.2,633.4L330.2,634.9L331.6,636.5L332.4,638.1L332.9,640.1L333.0,642.9L332.5,647.3L331.9,649.7L330.7,652.5L329.3,654.5L327.4,656.3L325.4,657.4L323.0,658.0L321.0,658.0L319.0,657.5L317.0,656.5L315.4,655.2L314.1,653.7L312.9,651.7L311.9,649.3L311.5,646.9L311.4,644.5L311.6,642.1L312.3,639.7L313.1,637.7L314.5,635.7L316.0,634.1L317.8,632.9L319.8,632.1Z" fill="#000" fill-opacity="0.03" fill-rule="nonzero" stroke="#222" stroke-opacity="0.6" stroke-width="0.42"/>
<path d="M320.3,633.3L322.2,633.0L324.2,633.1L326.2,633.6L328.2,634.6L329.8,636.0L330.8,637.3L331.6,638.9L331.9,640.9L331.9,643.7L331.3,647.3L330.7,649.7L329.7,651.7L328.3,653.7L326.6,655.2L324.6,656.2L322.6,656.6L321.0,656.6L319.0,656.0L317.4,655.2L316.1,654.1L314.8,652.5L313.7,650.5L313.0,648.5L312.6,646.5L312.5,644.5L312.8,642.1L313.5,639.7L314.3,638.1L315.4,636.5L317.0,635.0L318.6,633.9L320.3,633.3Z" fill="#000" fill-opacity="0.03" fill-rule="nonzero" stroke="#222" stroke-opacity="0.6" stroke-width="0.42"/>
<path d="M321.4,634.1L323.0,634.0L325.0,634.2L326.6,634.8L328.2,635.7L329.4,636.8L330.3,638.1L330.9,639.7L331.1,641.3L330.9,644.1L330.4,647.3L329.6,649.7L328.8,651.3L327.4,653.1L325.8,654.3L324.2,655.1L322.2,655.4L320.6,655.3L319.0,654.8L317.4,653.8L316.1,652.5L315.0,650.9L314.3,649.3L313.7,647.3L313.5,645.3L313.6,643.3L314.0,641.3L314.6,639.7L315.5,638.1L316.8,636.5L318.2,635.4L319.8,634.6L321.4,634.1Z" fill="#000" fill-opacity="0.03" fill-rule="nonzero" stroke="#222" stroke-opacity="0.6" stroke-width="0.42"/>
<path d="M320.7,635.3L322.2,635.0L323.8,635.0L325.4,635.3L327.0,636.0L328.2,636.9L329.2,638.1L329.8,639.3L330.1,640.9L330.1,642.9L329.6,646.1L329.1,648.1L328.3,650.1L327.2,651.7L325.8,653.0L324.2,653.8L322.6,654.2L321.4,654.2L319.8,653.8L318.6,653.2L317.2,652.1L316.2,650.9L315.4,649.3L314.8,647.7L314.5,646.1L314.5,644.5L314.7,642.5L315.2,640.9L315.9,639.3L317.0,637.8L318.2,636.6L319.4,635.9L320.7,635.3Z" fill="#000" fill-opacity="0.03" fill-rule="nonzero" stroke="#222" stroke-opacity="0.6" stroke-width="0.42"/>
<path d="M321.8,636.1L323.0,635.9L324.6,636.1L325.8,636.4L327.0,637.1L328.0,638.1L328.6,639.0L329.0,640.1L329.2,641.7L329.1,643.7L328.5,646.5L328.0,648.1L327.2,649.7L326.2,651.0L325.0,652.0L323.8,652.6L322.2,652.9L321.0,652.8L319.8,652.5L318.6,651.7L317.7,650.9L316.8,649.7L316.2,648.5L315.7,646.9L315.5,645.3L315.6,643.7L315.9,642.1L316.5,640.5L317.2,639.3L318.2,638.1L319.4,637.1L321.8,636.1Z" fill="#000" fill-opacity="0.03" fill-rule="nonzero" stroke="#222" stroke-opacity="0.6" stroke-width="0.42"/>
<path d="M321.7,637.3L323.0,637.1L324.2,637.1L326.2,637.9L327.5,639.3L328.0,640.5L328.1,641.7L328.0,643.3L327.5,645.7L327.0,647.4L326.2,648.9L324.6,650.6L323.4,651.2L322.2,651.5L320.2,651.1L319.2,650.5L318.4,649.7L317.2,647.7L316.7,645.3L317.0,642.5L318.1,640.1L319.8,638.3L321.7,637.3Z" fill="#000" fill-opacity="0.03" fill-rule="nonzero" stroke="#222" stroke-opacity="0.6" stroke-width="0.42"/>
<path d="M322.7,638.5L324.2,638.5L325.0,638.8L325.8,639.4L326.6,640.9L326.7,642.5L326.1,645.7L325.0,648.0L324.2,648.8L323.4,649.3L321.8,649.6L320.2,649.1L319.0,647.9L318.3,646.1L318.2,644.1L318.6,642.1L319.5,640.5L321.0,639.1L322.7,638.5Z" fill="#000" fill-opacity="0.03" fill-rule="nonzero" stroke="#222" stroke-opacity="0.6" stroke-width="0.42"/>
<path d="M322.5,640.9L323.4,640.8L324.2,641.3L324.5,642.1L324.6,643.3L324.1,644.9L323.4,646.1L322.6,646.6L321.8,646.7L321.0,646.3L320.6,645.7L320.4,644.9L320.4,643.7L321.0,642.1L321.7,641.3L322.5,640.9Z" fill="#000" fill-opacity="0.03" fill-rule="nonzero" stroke="#222" stroke-opacity="0.6" stroke-width="0.42"/>
<ellipse cx="338.5" cy="645.5" rx="2.2" ry="1.8" fill="none" stroke="#888" stroke-width="0.5"/>
<line x1="299.50" y1="617.00" x2="357.40" y2="617.00" stroke="#a8a8a8" stroke-width="0.8" />
<line x1="357.40" y1="617.00" x2="357.40" y2="675.70" stroke="#a8a8a8" stroke-width="0.8" />
<line x1="299.50" y1="617.00" x2="299.50" y2="675.70" stroke="#666" stroke-width="0.8" />
<line x1="299.50" y1="675.70" x2="357.40" y2="675.70" stroke="#666" stroke-width="0.8" />
<line x1="335.40" y1="617.00" x2="335.40" y2="640.80" stroke="#555" stroke-width="0.8" />
<line x1="299.50" y1="640.80" x2="335.40" y2="640.80" stroke="#555" stroke-width="0.8" />
<rect x="335.40" y="640.80" width="22.30" height="34.90" fill="none" stroke="#463a8a" stroke-width="1.8" />
<text x="302.30" y="625.17" font-size="6.2" fill="#6a5ea8" stroke="#6a5ea8" stroke-width="0.13" text-anchor="start">16.5</text>
<text x="352.80" y="625.17" font-size="6.2" fill="#6a5ea8" stroke="#6a5ea8" stroke-width="0.13" text-anchor="end">0.99</text>
<text x="302.30" y="671.67" font-size="6.2" fill="#6a5ea8" stroke="#6a5ea8" stroke-width="0.13" text-anchor="start">79.1</text>
<text x="353.00" y="669.87" font-size="6.2" fill="#6a5ea8" stroke="#6a5ea8" stroke-width="0.13" text-anchor="end">3.41</text>
<text x="294.60" y="625.01" font-size="6.6" fill="#222" stroke="#222" stroke-width="0.13" text-anchor="end"><tspan>10</tspan><tspan font-size="4.49" dy="-2.51">5</tspan></text>
<line x1="297.80" y1="622.70" x2="299.50" y2="622.70" stroke="#666" stroke-width="0.7" />
<text x="294.60" y="638.11" font-size="6.6" fill="#222" stroke="#222" stroke-width="0.13" text-anchor="end"><tspan>10</tspan><tspan font-size="4.49" dy="-2.51">4</tspan></text>
<line x1="297.80" y1="635.80" x2="299.50" y2="635.80" stroke="#666" stroke-width="0.7" />
<text x="294.60" y="651.11" font-size="6.6" fill="#222" stroke="#222" stroke-width="0.13" text-anchor="end"><tspan>10</tspan><tspan font-size="4.49" dy="-2.51">3</tspan></text>
<line x1="297.80" y1="648.80" x2="299.50" y2="648.80" stroke="#666" stroke-width="0.7" />
<text x="294.60" y="664.21" font-size="6.6" fill="#222" stroke="#222" stroke-width="0.13" text-anchor="end"><tspan>10</tspan><tspan font-size="4.49" dy="-2.51">2</tspan></text>
<line x1="297.80" y1="661.90" x2="299.50" y2="661.90" stroke="#666" stroke-width="0.7" />
<text x="294.60" y="677.31" font-size="6.6" fill="#222" stroke="#222" stroke-width="0.13" text-anchor="end"><tspan>10</tspan><tspan font-size="4.49" dy="-2.51">1</tspan></text>
<line x1="297.80" y1="675.00" x2="299.50" y2="675.00" stroke="#666" stroke-width="0.7" />
<text x="317.70" y="686.11" font-size="6.6" fill="#222" stroke="#222" stroke-width="0.13" text-anchor="middle">0</text>
<text x="338.10" y="686.11" font-size="6.6" fill="#222" stroke="#222" stroke-width="0.13" text-anchor="middle"><tspan>10</tspan><tspan font-size="4.49" dy="-2.51">4</tspan></text>
<text x="349.40" y="686.11" font-size="6.6" fill="#222" stroke="#222" stroke-width="0.13" text-anchor="middle"><tspan>10</tspan><tspan font-size="4.49" dy="-2.51">5</tspan></text>
<line x1="203.90" y1="650.00" x2="203.90" y2="691.20" stroke="#111" stroke-width="1.1" />
<line x1="203.90" y1="691.20" x2="242.00" y2="691.20" stroke="#111" stroke-width="1.1" />
<path d="M203.9,646.3 L200.4,654.5 L203.9,652.4499999999999 L207.4,654.5 Z" fill="#111"/>
<path d="M246.5,691.2 L238.0,687.7 L240.125,691.2 L238.0,694.7 Z" fill="#111"/>
<text transform="translate(208.20,633.90) rotate(-90)" font-size="9" fill="#222" stroke="#222" stroke-width="0.13" text-anchor="middle" textLength="19.5" lengthAdjust="spacingAndGlyphs">2 wks</text>
<text transform="translate(198.20,670.60) rotate(-90)" font-size="8.6" fill="#222" stroke="#222" stroke-width="0.13" text-anchor="middle" textLength="18.2" lengthAdjust="spacingAndGlyphs">CD38</text>
<text x="211.90" y="702.20" font-size="8.6" fill="#222" stroke="#222" stroke-width="0.13" text-anchor="start" textLength="18.9" lengthAdjust="spacingAndGlyphs">CD34</text>
<text x="367.80" y="595.20" font-size="10.5" fill="#222" stroke="#222" stroke-width="0.13" text-anchor="start">O</text>
<text transform="translate(375.80,646.40) rotate(-90)" font-size="10.0" fill="#222" stroke="#222" stroke-width="0.13" text-anchor="middle" textLength="81.7" lengthAdjust="spacingAndGlyphs">CD34+CD38- counts</text>
<line x1="408.5" y1="663.3" x2="518.5" y2="663.3" stroke="#9a9a9a" stroke-width="0.8" stroke-dasharray="1.6,1.2"/>
<text x="410.80" y="659.85" font-size="7.3" fill="#9a9a9a" stroke="#9a9a9a" stroke-width="0.13" text-anchor="start">input</text>
<line x1="417.55" y1="673.10" x2="417.55" y2="671.90" stroke="#4a4a4a" stroke-width="1" />
<line x1="414.95" y1="671.90" x2="420.15" y2="671.90" stroke="#4a4a4a" stroke-width="1" />
<rect x="412.00" y="673.10" width="11.10" height="5.50" fill="#c05a3a" stroke="#b24c2e" stroke-width="0.6" />
<line x1="432.40" y1="677.20" x2="432.40" y2="676.60" stroke="#4a4a4a" stroke-width="1" />
<line x1="429.80" y1="676.60" x2="435.00" y2="676.60" stroke="#4a4a4a" stroke-width="1" />
<rect x="427.20" y="677.20" width="10.40" height="1.40" fill="#5b4a80" stroke="#4b3a72" stroke-width="0.6" />
<line x1="456.00" y1="657.40" x2="456.00" y2="647.70" stroke="#4a4a4a" stroke-width="1" />
<line x1="453.40" y1="647.70" x2="458.60" y2="647.70" stroke="#4a4a4a" stroke-width="1" />
<rect x="450.80" y="657.40" width="10.40" height="21.20" fill="#c05a3a" stroke="#b24c2e" stroke-width="0.6" />
<line x1="470.50" y1="677.20" x2="470.50" y2="676.30" stroke="#4a4a4a" stroke-width="1" />
<line x1="467.90" y1="676.30" x2="473.10" y2="676.30" stroke="#4a4a4a" stroke-width="1" />
<rect x="465.30" y="677.20" width="10.40" height="1.40" fill="#5b4a80" stroke="#4b3a72" stroke-width="0.6" />
<line x1="494.50" y1="643.10" x2="494.50" y2="625.80" stroke="#4a4a4a" stroke-width="1" />
<line x1="491.90" y1="625.80" x2="497.10" y2="625.80" stroke="#4a4a4a" stroke-width="1" />
<rect x="489.30" y="643.10" width="10.40" height="35.50" fill="#c05a3a" stroke="#b24c2e" stroke-width="0.6" />
<line x1="508.60" y1="673.50" x2="508.60" y2="669.60" stroke="#4a4a4a" stroke-width="1" />
<line x1="506.00" y1="669.60" x2="511.20" y2="669.60" stroke="#4a4a4a" stroke-width="1" />
<rect x="503.40" y="673.50" width="10.40" height="5.10" fill="#5b4a80" stroke="#4b3a72" stroke-width="0.6" />
<line x1="408.50" y1="613.50" x2="408.50" y2="679.10" stroke="#4a4a4a" stroke-width="1.45" />
<line x1="408.50" y1="678.60" x2="518.60" y2="678.60" stroke="#4a4a4a" stroke-width="1.45" />
<line x1="405.80" y1="626.20" x2="408.50" y2="626.20" stroke="#4a4a4a" stroke-width="0.9" />
<line x1="405.80" y1="639.20" x2="408.50" y2="639.20" stroke="#4a4a4a" stroke-width="0.9" />
<line x1="405.80" y1="652.20" x2="408.50" y2="652.20" stroke="#4a4a4a" stroke-width="0.9" />
<line x1="405.80" y1="665.20" x2="408.50" y2="665.20" stroke="#4a4a4a" stroke-width="0.9" />
<line x1="405.80" y1="678.40" x2="408.50" y2="678.40" stroke="#4a4a4a" stroke-width="0.9" />
<text x="403.60" y="628.83" font-size="7.5" fill="#222" stroke="#222" stroke-width="0.13" text-anchor="end"><tspan>2x10</tspan><tspan font-size="5.10" dy="-2.85">4</tspan></text>
<text x="403.60" y="654.83" font-size="7.5" fill="#222" stroke="#222" stroke-width="0.13" text-anchor="end"><tspan>1x10</tspan><tspan font-size="5.10" dy="-2.85">4</tspan></text>
<text x="403.60" y="681.24" font-size="8.1" fill="#222" stroke="#222" stroke-width="0.13" text-anchor="end" textLength="4.1" lengthAdjust="spacingAndGlyphs">0</text>
<line x1="425.40" y1="678.60" x2="425.40" y2="680.70" stroke="#4a4a4a" stroke-width="0.9" />
<text x="425.40" y="691.10" font-size="8" fill="#222" stroke="#222" stroke-width="0.13" text-anchor="middle">d9</text>
<line x1="463.00" y1="678.60" x2="463.00" y2="680.70" stroke="#4a4a4a" stroke-width="0.9" />
<text x="463.00" y="691.10" font-size="8" fill="#222" stroke="#222" stroke-width="0.13" text-anchor="middle">d14</text>
<line x1="501.50" y1="678.60" x2="501.50" y2="680.70" stroke="#4a4a4a" stroke-width="0.9" />
<text x="501.50" y="691.10" font-size="8" fill="#222" stroke="#222" stroke-width="0.13" text-anchor="middle">d22</text>
<text x="432.30" y="675.80" font-size="6.5" fill="#222" stroke="#222" stroke-width="0.13" text-anchor="middle">**</text>
<text x="470.40" y="674.80" font-size="6.5" fill="#222" stroke="#222" stroke-width="0.13" text-anchor="middle">*</text>
<text x="508.50" y="668.40" font-size="6.5" fill="#222" stroke="#222" stroke-width="0.13" text-anchor="middle">*</text>
<rect x="410.00" y="596.50" width="8.50" height="4.20" fill="#c05a3a" stroke="none" stroke-width="1" />
<text x="421.90" y="601.23" font-size="7.8" fill="#222" stroke="#222" stroke-width="0.13" text-anchor="start" textLength="36.9" lengthAdjust="spacingAndGlyphs">shCONTROL</text>
<rect x="470.40" y="596.70" width="9.20" height="4.20" fill="#5b4a80" stroke="none" stroke-width="1" />
<text x="481.90" y="601.23" font-size="7.8" fill="#222" stroke="#222" stroke-width="0.13" text-anchor="start" textLength="26.1" lengthAdjust="spacingAndGlyphs">shINKA1</text>
</svg></body></html>
